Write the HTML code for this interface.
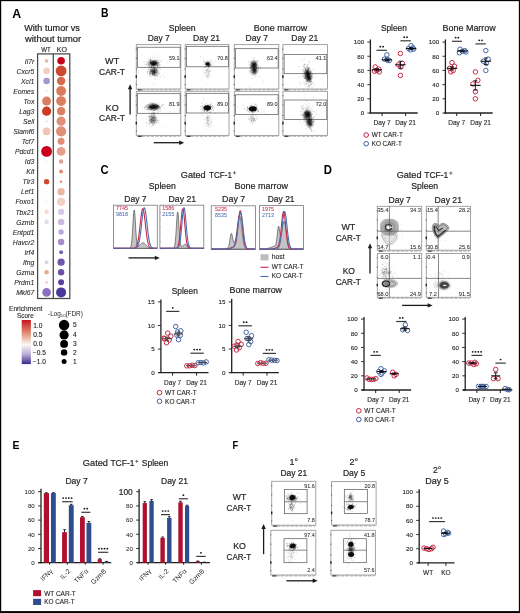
<!DOCTYPE html><html><head><meta charset="utf-8"><style>html,body{margin:0;padding:0;background:#fff;overflow:hidden;width:520px;height:613px;}svg{display:block;will-change:transform;}</style></head><body><svg width="520" height="613" viewBox="0 0 520 613" font-family='"Liberation Sans", sans-serif' fill="#231f20"><defs><filter id="bl0" x="-50%" y="-50%" width="200%" height="200%"><feGaussianBlur stdDeviation="0.90"/></filter><filter id="bl1" x="-50%" y="-50%" width="200%" height="200%"><feGaussianBlur stdDeviation="1.00"/></filter><filter id="bl2" x="-50%" y="-50%" width="200%" height="200%"><feGaussianBlur stdDeviation="0.60"/></filter><filter id="bl3" x="-50%" y="-50%" width="200%" height="200%"><feGaussianBlur stdDeviation="0.80"/></filter><filter id="bl4" x="-50%" y="-50%" width="200%" height="200%"><feGaussianBlur stdDeviation="1.20"/></filter><filter id="bl5" x="-50%" y="-50%" width="200%" height="200%"><feGaussianBlur stdDeviation="0.70"/></filter><filter id="bl6" x="-50%" y="-50%" width="200%" height="200%"><feGaussianBlur stdDeviation="0.50"/></filter></defs><rect x="0" y="0" width="520" height="1.15" fill="#000"/>
<rect x="0" y="0" width="1.2" height="613" fill="#000"/>
<rect x="518.85" y="0" width="1.15" height="613" fill="#000"/>
<rect x="0" y="611.1" width="520" height="1.9" fill="#000"/>
<text x="12.3" y="17.7" font-size="11.87" font-weight="bold" fill="#000" textLength="8.9" lengthAdjust="spacingAndGlyphs">A</text>
<text x="101" y="17.3" font-size="12.15" font-weight="bold" fill="#000" textLength="7.5" lengthAdjust="spacingAndGlyphs">B</text>
<text x="100.4" y="173.8" font-size="12.85" font-weight="bold" fill="#000" textLength="8.1" lengthAdjust="spacingAndGlyphs">C</text>
<text x="323.7" y="173.5" font-size="11.87" font-weight="bold" fill="#000" textLength="8.2" lengthAdjust="spacingAndGlyphs">D</text>
<text x="12.5" y="449.3" font-size="11.17" font-weight="bold" fill="#000" textLength="7" lengthAdjust="spacingAndGlyphs">E</text>
<text x="232.4" y="449" font-size="11.17" font-weight="bold" fill="#000" textLength="5.7" lengthAdjust="spacingAndGlyphs">F</text>
<text x="24.2" y="30.8" font-size="8.4" textLength="55.7" lengthAdjust="spacingAndGlyphs" stroke="#231f20" stroke-width="0.2">With tumor vs</text>
<text x="25" y="41.5" font-size="8.4" textLength="56.2" lengthAdjust="spacingAndGlyphs" stroke="#231f20" stroke-width="0.2">without tumor</text>
<text x="41.2" y="51.9" font-size="6.4" textLength="9.5" lengthAdjust="spacingAndGlyphs" stroke="#231f20" stroke-width="0.12">WT</text>
<text x="56.8" y="51.9" font-size="6.4" textLength="10.2" lengthAdjust="spacingAndGlyphs" stroke="#231f20" stroke-width="0.12">KO</text>
<rect x="37.6" y="53.9" width="32.2" height="244.6" fill="none" stroke="#4a4a4a" stroke-width="1.25"/>
<line x1="53.3" y1="53.9" x2="53.3" y2="298.5" stroke="#4a4a4a" stroke-width="1.25"/>
<text x="34.3" y="63.5" font-size="6.8" text-anchor="end" font-style="italic" stroke="#231f20" stroke-width="0.08">Il7r</text>
<circle cx="46.6" cy="60.8" r="1.9" fill="#ebb8a4"/>
<circle cx="61.1" cy="60.8" r="3.8" fill="#c8001c"/>
<text x="34.3" y="73.57" font-size="6.8" text-anchor="end" font-style="italic" stroke="#231f20" stroke-width="0.08">Cxcr5</text>
<circle cx="46.6" cy="70.87" r="3.4" fill="#f1cfc2"/>
<circle cx="61.1" cy="70.87" r="5.4" fill="#cd4a32"/>
<text x="34.3" y="83.64" font-size="6.8" text-anchor="end" font-style="italic" stroke="#231f20" stroke-width="0.08">Xcl1</text>
<circle cx="46.6" cy="80.94" r="3.3" fill="#a794d0"/>
<circle cx="61.1" cy="80.94" r="4.2" fill="#d66a4c"/>
<text x="34.3" y="93.71" font-size="6.8" text-anchor="end" font-style="italic" stroke="#231f20" stroke-width="0.08">Eomes</text>
<circle cx="46.6" cy="91.01" r="1.2" fill="#f8ece8"/>
<circle cx="61.1" cy="91.01" r="4.9" fill="#db7a5c"/>
<text x="34.3" y="103.78" font-size="6.8" text-anchor="end" font-style="italic" stroke="#231f20" stroke-width="0.08">Tox</text>
<circle cx="46.6" cy="101.08" r="4.5" fill="#db7d62"/>
<circle cx="61.1" cy="101.08" r="4.9" fill="#dc7e60"/>
<text x="34.3" y="113.85" font-size="6.8" text-anchor="end" font-style="italic" stroke="#231f20" stroke-width="0.08">Lag3</text>
<circle cx="46.6" cy="111.15" r="4.6" fill="#cc3b24"/>
<circle cx="61.1" cy="111.15" r="4.1" fill="#dc7e60"/>
<text x="34.3" y="123.92" font-size="6.8" text-anchor="end" font-style="italic" stroke="#231f20" stroke-width="0.08">Sell</text>
<circle cx="46.6" cy="121.22" r="1.2" fill="#efeaf5"/>
<circle cx="61.1" cy="121.22" r="4.6" fill="#e09078"/>
<text x="34.3" y="133.99" font-size="6.8" text-anchor="end" font-style="italic" stroke="#231f20" stroke-width="0.08">Slamf6</text>
<circle cx="46.6" cy="131.29" r="3.9" fill="#efc6b5"/>
<circle cx="61.1" cy="131.29" r="5.1" fill="#e08f76"/>
<text x="34.3" y="144.06" font-size="6.8" text-anchor="end" font-style="italic" stroke="#231f20" stroke-width="0.08">Tcf7</text>
<circle cx="46.6" cy="141.36" r="1" fill="#f6f2f8"/>
<circle cx="61.1" cy="141.36" r="3.5" fill="#e09078"/>
<text x="34.3" y="154.13" font-size="6.8" text-anchor="end" font-style="italic" stroke="#231f20" stroke-width="0.08">Pdcd1</text>
<circle cx="46.6" cy="151.43" r="5.4" fill="#c8001e"/>
<circle cx="61.1" cy="151.43" r="4.4" fill="#e4a08a"/>
<text x="34.3" y="164.2" font-size="6.8" text-anchor="end" font-style="italic" stroke="#231f20" stroke-width="0.08">Id3</text>
<circle cx="46.6" cy="161.5" r="0.9" fill="#efeaf5"/>
<circle cx="61.1" cy="161.5" r="2.2" fill="#e3a090"/>
<text x="34.3" y="174.27" font-size="6.8" text-anchor="end" font-style="italic" stroke="#231f20" stroke-width="0.08">Kit</text>
<circle cx="46.6" cy="171.57" r="0.8" fill="#f8f2ee"/>
<circle cx="61.1" cy="171.57" r="2" fill="#e08e74"/>
<text x="34.3" y="184.34" font-size="6.8" text-anchor="end" font-style="italic" stroke="#231f20" stroke-width="0.08">Tlr3</text>
<circle cx="46.6" cy="181.64" r="2.7" fill="#cd4a2c"/>
<circle cx="61.1" cy="181.64" r="1.2" fill="#dc8468"/>
<text x="34.3" y="194.41" font-size="6.8" text-anchor="end" font-style="italic" stroke="#231f20" stroke-width="0.08">Lef1</text>
<circle cx="46.6" cy="191.71" r="0.9" fill="#f1edf6"/>
<circle cx="61.1" cy="191.71" r="3.6" fill="#ebb6a2"/>
<text x="34.3" y="204.48" font-size="6.8" text-anchor="end" font-style="italic" stroke="#231f20" stroke-width="0.08">Foxo1</text>
<circle cx="46.6" cy="201.78" r="0.9" fill="#f1edf6"/>
<circle cx="61.1" cy="201.78" r="4.1" fill="#f1d1c5"/>
<text x="34.3" y="214.55" font-size="6.8" text-anchor="end" font-style="italic" stroke="#231f20" stroke-width="0.08">Tbx21</text>
<circle cx="46.6" cy="211.85" r="2.3" fill="#f6ddd3"/>
<circle cx="61.1" cy="211.85" r="3.2" fill="#d7cae6"/>
<text x="34.3" y="224.62" font-size="6.8" text-anchor="end" font-style="italic" stroke="#231f20" stroke-width="0.08">Gzmb</text>
<circle cx="46.6" cy="221.92" r="2.3" fill="#e5ddf0"/>
<circle cx="61.1" cy="221.92" r="3.2" fill="#cbb9e1"/>
<text x="34.3" y="234.69" font-size="6.8" text-anchor="end" font-style="italic" stroke="#231f20" stroke-width="0.08">Entpd1</text>
<circle cx="61.1" cy="231.99" r="2.7" fill="#b9a6d7"/>
<text x="34.3" y="244.76" font-size="6.8" text-anchor="end" font-style="italic" stroke="#231f20" stroke-width="0.08">Havcr2</text>
<circle cx="46.6" cy="242.06" r="0.7" fill="#f3f0f8"/>
<circle cx="61.1" cy="242.06" r="3.2" fill="#a48ecb"/>
<text x="34.3" y="254.83" font-size="6.8" text-anchor="end" font-style="italic" stroke="#231f20" stroke-width="0.08">Irf4</text>
<circle cx="46.6" cy="252.13" r="0.7" fill="#fbefec"/>
<circle cx="61.1" cy="252.13" r="2" fill="#7a64b2"/>
<text x="34.3" y="264.9" font-size="6.8" text-anchor="end" font-style="italic" stroke="#231f20" stroke-width="0.08">Ifng</text>
<circle cx="46.6" cy="262.2" r="1.9" fill="#ddd1ec"/>
<circle cx="61.1" cy="262.2" r="3.6" fill="#6e57ad"/>
<text x="34.3" y="274.97" font-size="6.8" text-anchor="end" font-style="italic" stroke="#231f20" stroke-width="0.08">Gzma</text>
<circle cx="46.6" cy="272.27" r="2.3" fill="#e8a993"/>
<circle cx="61.1" cy="272.27" r="3.2" fill="#6a53a9"/>
<text x="34.3" y="285.04" font-size="6.8" text-anchor="end" font-style="italic" stroke="#231f20" stroke-width="0.08">Prdm1</text>
<circle cx="46.6" cy="282.34" r="1.4" fill="#f1cbbb"/>
<circle cx="61.1" cy="282.34" r="3" fill="#5b42a1"/>
<text x="34.3" y="295.11" font-size="6.8" text-anchor="end" font-style="italic" stroke="#231f20" stroke-width="0.08">Mki67</text>
<circle cx="46.6" cy="292.41" r="4.3" fill="#8a71c0"/>
<circle cx="61.1" cy="292.41" r="5" fill="#4a399a"/>
<text x="9" y="310.5" font-size="6.5" textLength="33.4" lengthAdjust="spacingAndGlyphs" stroke="#231f20" stroke-width="0.12">Enrichment</text>
<text x="17" y="317.9" font-size="6.5" textLength="16.7" lengthAdjust="spacingAndGlyphs" stroke="#231f20" stroke-width="0.12">Score</text>
<defs><linearGradient id="cb" x1="0" y1="0" x2="0" y2="1"><stop offset="0" stop-color="#c7161c"/><stop offset="0.28" stop-color="#e2876b"/><stop offset="0.56" stop-color="#fcf8f6"/><stop offset="0.78" stop-color="#b7acd6"/><stop offset="1" stop-color="#372a8c"/></linearGradient></defs>
<rect x="21.7" y="320" width="9.2" height="44.1" fill="url(#cb)"/>
<text x="33.2" y="327.8" font-size="6.6" stroke="#231f20" stroke-width="0.12">1.0</text>
<text x="33.2" y="336.6" font-size="6.6" stroke="#231f20" stroke-width="0.12">0.5</text>
<text x="33.2" y="345.6" font-size="6.6" stroke="#231f20" stroke-width="0.12">0.0</text>
<text x="32.8" y="354.6" font-size="6.6" stroke="#231f20" stroke-width="0.12">−0.5</text>
<text x="32.8" y="363.5" font-size="6.6" stroke="#231f20" stroke-width="0.12">−1.0</text>
<text x="48" y="315.6" font-size="6.4">-Log<tspan font-size="4.2" dy="1.5">10</tspan><tspan dy="-1.5">(FDR)</tspan></text>
<circle cx="64.1" cy="325.1" r="5.25" fill="#000"/>
<text x="72.9" y="327.4" font-size="6.6" stroke="#231f20" stroke-width="0.12">5</text>
<circle cx="64.1" cy="334.9" r="4.6" fill="#000"/>
<text x="72.9" y="337.2" font-size="6.6" stroke="#231f20" stroke-width="0.12">4</text>
<circle cx="64.1" cy="343.9" r="3.9" fill="#000"/>
<text x="72.9" y="346.2" font-size="6.6" stroke="#231f20" stroke-width="0.12">3</text>
<circle cx="64.1" cy="352.4" r="3.2" fill="#000"/>
<text x="72.9" y="354.7" font-size="6.6" stroke="#231f20" stroke-width="0.12">2</text>
<circle cx="64.1" cy="361.4" r="2.5" fill="#000"/>
<text x="72.9" y="363.7" font-size="6.6" stroke="#231f20" stroke-width="0.12">1</text>
<text x="168.7" y="31.2" font-size="8.8" textLength="27" lengthAdjust="spacingAndGlyphs" stroke="#231f20" stroke-width="0.2">Spleen</text>
<text x="253.8" y="31.2" font-size="8.8" textLength="53.4" lengthAdjust="spacingAndGlyphs" stroke="#231f20" stroke-width="0.2">Bone marrow</text>
<text x="147.7" y="41.4" font-size="8.8" textLength="22.1" lengthAdjust="spacingAndGlyphs" stroke="#231f20" stroke-width="0.2">Day 7</text>
<text x="193" y="41.4" font-size="8.8" textLength="27" lengthAdjust="spacingAndGlyphs" stroke="#231f20" stroke-width="0.2">Day 21</text>
<text x="245.6" y="41.4" font-size="8.8" textLength="22.3" lengthAdjust="spacingAndGlyphs" stroke="#231f20" stroke-width="0.2">Day 7</text>
<text x="291.3" y="41.4" font-size="8.8" textLength="26.8" lengthAdjust="spacingAndGlyphs" stroke="#231f20" stroke-width="0.2">Day 21</text>
<text x="105.1" y="63.9" font-size="8.2" textLength="14.1" lengthAdjust="spacingAndGlyphs" stroke="#231f20" stroke-width="0.2">WT</text>
<text x="99.1" y="74.5" font-size="8.2" textLength="25.8" lengthAdjust="spacingAndGlyphs" stroke="#231f20" stroke-width="0.2">CAR-T</text>
<text x="105.6" y="110.5" font-size="8.2" textLength="13.1" lengthAdjust="spacingAndGlyphs" stroke="#231f20" stroke-width="0.2">KO</text>
<text x="99.1" y="120.6" font-size="8.2" textLength="25.8" lengthAdjust="spacingAndGlyphs" stroke="#231f20" stroke-width="0.2">CAR-T</text>
<line x1="130.1" y1="114.5" x2="130.1" y2="88.3" stroke="#1a1a1a" stroke-width="1.3"/>
<path d="M130.1 84.3 L127.9 89.3 L132.3 89.3 Z" fill="#1a1a1a"/>
<line x1="153.7" y1="142.7" x2="180.2" y2="142.7" stroke="#1a1a1a" stroke-width="1.3"/>
<path d="M184.2 142.7 L179.2 140.5 L179.2 144.9 Z" fill="#1a1a1a"/>
<rect x="136.3" y="44.6" width="44.5" height="44.4" fill="none" stroke="#9a9a9a" stroke-width="0.9"/>
<line x1="136.3" y1="48.54" x2="136.3" y2="49.54" stroke="#555" stroke-width="1"/>
<line x1="136.3" y1="57.86" x2="136.3" y2="58.86" stroke="#555" stroke-width="1"/>
<line x1="136.3" y1="68.52" x2="136.3" y2="69.52" stroke="#555" stroke-width="1"/>
<line x1="136.3" y1="84.06" x2="136.3" y2="85.06" stroke="#555" stroke-width="1"/>
<line x1="136.3" y1="75.24" x2="136.3" y2="77.9" stroke="#222" stroke-width="1.4"/>
<line x1="137.3" y1="89.9" x2="179.8" y2="89.9" stroke="#8a8a8a" stroke-width="0.7" stroke-dasharray="3.2 1.3"/>
<line x1="137.8" y1="89.9" x2="141.8" y2="89.9" stroke="#222" stroke-width="1"/>
<rect x="137.5" y="47.2" width="42.6" height="20.1" fill="none" stroke="#555" stroke-width="0.7"/>
<text x="179.6" y="59.8" font-size="5.4" text-anchor="end" stroke="#231f20" stroke-width="0.05">59.1</text>
<rect x="185.2" y="44.6" width="43.8" height="44.4" fill="none" stroke="#9a9a9a" stroke-width="0.9"/>
<line x1="185.2" y1="48.54" x2="185.2" y2="49.54" stroke="#555" stroke-width="1"/>
<line x1="185.2" y1="57.86" x2="185.2" y2="58.86" stroke="#555" stroke-width="1"/>
<line x1="185.2" y1="68.52" x2="185.2" y2="69.52" stroke="#555" stroke-width="1"/>
<line x1="185.2" y1="84.06" x2="185.2" y2="85.06" stroke="#555" stroke-width="1"/>
<line x1="185.2" y1="75.24" x2="185.2" y2="77.9" stroke="#222" stroke-width="1.4"/>
<line x1="186.2" y1="89.9" x2="228" y2="89.9" stroke="#8a8a8a" stroke-width="0.7" stroke-dasharray="3.2 1.3"/>
<line x1="186.7" y1="89.9" x2="190.7" y2="89.9" stroke="#222" stroke-width="1"/>
<rect x="186.4" y="46.3" width="41.9" height="20.5" fill="none" stroke="#555" stroke-width="0.7"/>
<text x="227.8" y="59.8" font-size="5.4" text-anchor="end" stroke="#231f20" stroke-width="0.05">70.8</text>
<rect x="234.3" y="44.6" width="44.5" height="44.4" fill="none" stroke="#9a9a9a" stroke-width="0.9"/>
<line x1="234.3" y1="48.54" x2="234.3" y2="49.54" stroke="#555" stroke-width="1"/>
<line x1="234.3" y1="57.86" x2="234.3" y2="58.86" stroke="#555" stroke-width="1"/>
<line x1="234.3" y1="68.52" x2="234.3" y2="69.52" stroke="#555" stroke-width="1"/>
<line x1="234.3" y1="84.06" x2="234.3" y2="85.06" stroke="#555" stroke-width="1"/>
<line x1="234.3" y1="75.24" x2="234.3" y2="77.9" stroke="#222" stroke-width="1.4"/>
<line x1="235.3" y1="89.9" x2="277.8" y2="89.9" stroke="#8a8a8a" stroke-width="0.7" stroke-dasharray="3.2 1.3"/>
<line x1="235.8" y1="89.9" x2="239.8" y2="89.9" stroke="#222" stroke-width="1"/>
<rect x="235.5" y="48.7" width="42.6" height="19.3" fill="none" stroke="#555" stroke-width="0.7"/>
<text x="277.6" y="59.8" font-size="5.4" text-anchor="end" stroke="#231f20" stroke-width="0.05">63.4</text>
<rect x="282.9" y="44.6" width="44.6" height="44.4" fill="none" stroke="#9a9a9a" stroke-width="0.9"/>
<line x1="282.9" y1="48.54" x2="282.9" y2="49.54" stroke="#555" stroke-width="1"/>
<line x1="282.9" y1="57.86" x2="282.9" y2="58.86" stroke="#555" stroke-width="1"/>
<line x1="282.9" y1="68.52" x2="282.9" y2="69.52" stroke="#555" stroke-width="1"/>
<line x1="282.9" y1="84.06" x2="282.9" y2="85.06" stroke="#555" stroke-width="1"/>
<line x1="282.9" y1="75.24" x2="282.9" y2="77.9" stroke="#222" stroke-width="1.4"/>
<line x1="283.9" y1="89.9" x2="326.5" y2="89.9" stroke="#8a8a8a" stroke-width="0.7" stroke-dasharray="3.2 1.3"/>
<line x1="284.4" y1="89.9" x2="288.4" y2="89.9" stroke="#222" stroke-width="1"/>
<rect x="284.1" y="54.4" width="42.7" height="19.3" fill="none" stroke="#555" stroke-width="0.7"/>
<text x="326.3" y="59.8" font-size="5.4" text-anchor="end" stroke="#231f20" stroke-width="0.05">41.1</text>
<rect x="136.3" y="91.3" width="44.5" height="44.1" fill="none" stroke="#9a9a9a" stroke-width="0.9"/>
<line x1="136.3" y1="95.21" x2="136.3" y2="96.21" stroke="#555" stroke-width="1"/>
<line x1="136.3" y1="104.47" x2="136.3" y2="105.47" stroke="#555" stroke-width="1"/>
<line x1="136.3" y1="115.06" x2="136.3" y2="116.06" stroke="#555" stroke-width="1"/>
<line x1="136.3" y1="130.49" x2="136.3" y2="131.49" stroke="#555" stroke-width="1"/>
<line x1="136.3" y1="121.73" x2="136.3" y2="124.38" stroke="#222" stroke-width="1.4"/>
<line x1="137.3" y1="136.3" x2="179.8" y2="136.3" stroke="#8a8a8a" stroke-width="0.7" stroke-dasharray="3.2 1.3"/>
<line x1="137.8" y1="136.3" x2="141.8" y2="136.3" stroke="#222" stroke-width="1"/>
<rect x="137.5" y="93.7" width="42.6" height="19.6" fill="none" stroke="#555" stroke-width="0.7"/>
<text x="179.6" y="105.8" font-size="5.4" text-anchor="end" stroke="#231f20" stroke-width="0.05">81.9</text>
<rect x="185.2" y="91.3" width="43.8" height="44.1" fill="none" stroke="#9a9a9a" stroke-width="0.9"/>
<line x1="185.2" y1="95.21" x2="185.2" y2="96.21" stroke="#555" stroke-width="1"/>
<line x1="185.2" y1="104.47" x2="185.2" y2="105.47" stroke="#555" stroke-width="1"/>
<line x1="185.2" y1="115.06" x2="185.2" y2="116.06" stroke="#555" stroke-width="1"/>
<line x1="185.2" y1="130.49" x2="185.2" y2="131.49" stroke="#555" stroke-width="1"/>
<line x1="185.2" y1="121.73" x2="185.2" y2="124.38" stroke="#222" stroke-width="1.4"/>
<line x1="186.2" y1="136.3" x2="228" y2="136.3" stroke="#8a8a8a" stroke-width="0.7" stroke-dasharray="3.2 1.3"/>
<line x1="186.7" y1="136.3" x2="190.7" y2="136.3" stroke="#222" stroke-width="1"/>
<rect x="186.4" y="93.3" width="41.9" height="19.7" fill="none" stroke="#555" stroke-width="0.7"/>
<text x="227.8" y="105.8" font-size="5.4" text-anchor="end" stroke="#231f20" stroke-width="0.05">89.0</text>
<rect x="234.3" y="91.3" width="44.5" height="44.1" fill="none" stroke="#9a9a9a" stroke-width="0.9"/>
<line x1="234.3" y1="95.21" x2="234.3" y2="96.21" stroke="#555" stroke-width="1"/>
<line x1="234.3" y1="104.47" x2="234.3" y2="105.47" stroke="#555" stroke-width="1"/>
<line x1="234.3" y1="115.06" x2="234.3" y2="116.06" stroke="#555" stroke-width="1"/>
<line x1="234.3" y1="130.49" x2="234.3" y2="131.49" stroke="#555" stroke-width="1"/>
<line x1="234.3" y1="121.73" x2="234.3" y2="124.38" stroke="#222" stroke-width="1.4"/>
<line x1="235.3" y1="136.3" x2="277.8" y2="136.3" stroke="#8a8a8a" stroke-width="0.7" stroke-dasharray="3.2 1.3"/>
<line x1="235.8" y1="136.3" x2="239.8" y2="136.3" stroke="#222" stroke-width="1"/>
<rect x="235.5" y="94.8" width="42.6" height="19.6" fill="none" stroke="#555" stroke-width="0.7"/>
<text x="277.6" y="105.8" font-size="5.4" text-anchor="end" stroke="#231f20" stroke-width="0.05">89.0</text>
<rect x="282.9" y="91.3" width="44.6" height="44.1" fill="none" stroke="#9a9a9a" stroke-width="0.9"/>
<line x1="282.9" y1="95.21" x2="282.9" y2="96.21" stroke="#555" stroke-width="1"/>
<line x1="282.9" y1="104.47" x2="282.9" y2="105.47" stroke="#555" stroke-width="1"/>
<line x1="282.9" y1="115.06" x2="282.9" y2="116.06" stroke="#555" stroke-width="1"/>
<line x1="282.9" y1="130.49" x2="282.9" y2="131.49" stroke="#555" stroke-width="1"/>
<line x1="282.9" y1="121.73" x2="282.9" y2="124.38" stroke="#222" stroke-width="1.4"/>
<line x1="283.9" y1="136.3" x2="326.5" y2="136.3" stroke="#8a8a8a" stroke-width="0.7" stroke-dasharray="3.2 1.3"/>
<line x1="284.4" y1="136.3" x2="288.4" y2="136.3" stroke="#222" stroke-width="1"/>
<rect x="284.1" y="100" width="42.7" height="19.4" fill="none" stroke="#555" stroke-width="0.7"/>
<text x="326.3" y="105.8" font-size="5.4" text-anchor="end" stroke="#231f20" stroke-width="0.05">72.0</text>
<ellipse cx="153.5" cy="63.3" rx="3.8" ry="2" fill="#000" opacity="0.95" filter="url(#bl0)"/>
<path d="M152.8 64.4h0M156.6 64.4h0M160.3 65.1h0M152.5 63.8h0M148.8 65.0h0M154.2 65.9h0M151.0 62.7h0M158.8 64.5h0M154.4 64.2h0M154.2 62.5h0M151.8 62.2h0M154.4 63.7h0M152.2 61.9h0M150.9 62.5h0M154.7 61.0h0M150.4 62.6h0M153.2 62.1h0M155.6 64.7h0M157.6 67.0h0M151.2 61.0h0M155.2 62.5h0M150.4 62.2h0M157.1 60.0h0M153.0 63.0h0M148.2 59.2h0M152.9 65.1h0M156.6 63.8h0M154.2 63.9h0M155.0 64.4h0M154.3 63.0h0M148.0 62.4h0M155.0 62.5h0M149.8 66.2h0M154.5 64.4h0M153.8 65.4h0M153.5 63.7h0M151.0 65.1h0M152.3 61.6h0M153.1 63.0h0M154.6 60.1h0M151.3 64.6h0M152.8 63.0h0M153.9 64.5h0M153.6 63.5h0M158.2 65.6h0M156.2 61.8h0M153.5 65.1h0M157.4 65.8h0M150.4 63.9h0M155.6 64.4h0M155.2 61.5h0M156.8 62.9h0M152.9 63.4h0M159.0 63.0h0M153.3 65.1h0M154.0 61.4h0M152.5 64.6h0M159.0 63.2h0M155.4 61.0h0M147.8 63.1h0M155.7 63.7h0M151.0 59.5h0M161.2 61.6h0M152.2 64.4h0M154.1 64.6h0M157.8 61.6h0M150.6 61.0h0M150.2 60.3h0M153.5 61.6h0M154.1 62.0h0M156.3 63.2h0M157.7 62.6h0M154.6 64.2h0M154.0 62.6h0M157.6 63.2h0M150.4 62.9h0M157.5 63.1h0M156.2 62.8h0M154.4 62.5h0M152.9 64.7h0M153.3 65.3h0M155.7 62.6h0M148.2 61.7h0M156.4 62.5h0M153.0 63.5h0M153.6 63.6h0" stroke="#000" stroke-width="0.6" stroke-linecap="round" opacity="0.4" fill="none"/>
<path d="M155.0 65.2h0M151.2 63.0h0M148.9 62.5h0M151.5 63.0h0M154.0 61.5h0M153.9 59.8h0M151.0 62.2h0M152.4 61.8h0M146.9 64.1h0M158.3 60.7h0M147.3 62.0h0M154.4 64.2h0M155.4 64.1h0M151.1 60.9h0M156.0 65.7h0M157.1 66.3h0M154.8 67.6h0M145.0 63.9h0M155.1 65.0h0M152.5 64.5h0M153.4 63.2h0M153.0 63.6h0M151.1 62.1h0M158.4 63.2h0M157.3 65.3h0M153.9 62.2h0M148.1 65.3h0M153.4 64.5h0M149.6 62.4h0M157.5 64.4h0M159.4 65.3h0M153.9 62.8h0M158.6 64.9h0M151.6 65.3h0M153.3 64.4h0M153.6 64.3h0M155.3 63.9h0M151.9 66.2h0M151.7 63.5h0M158.1 63.8h0M153.1 61.4h0M147.0 64.1h0M154.8 61.9h0M154.9 62.0h0M150.5 59.0h0M155.7 61.2h0M148.8 65.4h0M154.2 64.0h0M153.4 64.5h0M156.6 60.6h0M153.1 64.7h0M151.9 63.8h0M152.9 67.8h0M151.5 63.1h0M151.4 66.8h0M151.2 64.8h0M155.7 67.7h0M153.4 64.2h0M154.1 63.6h0M153.9 65.7h0M153.5 61.0h0M155.5 62.3h0M155.1 63.4h0M153.0 63.1h0M156.6 62.0h0M154.1 62.6h0M148.2 63.4h0M155.2 61.5h0M151.7 61.1h0M155.0 63.7h0M157.7 65.5h0M150.8 61.8h0M153.3 63.5h0M153.5 61.5h0M152.9 63.0h0M153.5 64.2h0M153.3 62.4h0M156.7 63.2h0M149.3 63.8h0M150.5 61.9h0M154.8 64.5h0M150.8 68.1h0M155.6 64.0h0M152.0 61.1h0M150.4 63.3h0M157.9 65.9h0" stroke="#000" stroke-width="0.6" stroke-linecap="round" opacity="0.4" fill="none"/>
<path d="M167.8 62.3h0M148.5 64.3h0M151.4 63.9h0M155.3 63.1h0M155.6 65.1h0M157.0 65.8h0M156.8 61.8h0M159.2 60.9h0M156.8 63.5h0M153.0 64.4h0M148.7 70.1h0M153.5 60.3h0M157.5 62.3h0M152.8 65.1h0M157.2 63.5h0M149.1 64.8h0M157.8 65.4h0M155.4 63.0h0M151.7 63.4h0M159.1 62.5h0M149.3 60.7h0M144.1 61.7h0M153.2 61.7h0M150.4 61.1h0M154.8 63.1h0M152.2 64.7h0M155.6 63.3h0M152.4 65.6h0M154.3 64.4h0M156.2 62.4h0M161.3 60.3h0M154.7 64.4h0M152.8 64.1h0M153.3 65.7h0M153.5 61.7h0M150.8 63.2h0M155.6 64.0h0M155.8 64.9h0M154.8 62.6h0M153.5 65.2h0M158.7 62.6h0M154.2 63.6h0M156.0 62.3h0M156.3 63.5h0M156.0 60.5h0M153.5 64.3h0M149.3 63.1h0M152.8 61.1h0M146.0 64.8h0M153.9 62.3h0M152.0 62.4h0M153.5 65.9h0M154.3 63.9h0M151.1 62.7h0M153.2 63.4h0M146.6 64.6h0M155.9 62.2h0M153.6 67.8h0M153.3 63.8h0M152.2 61.9h0M150.3 60.1h0M156.0 63.8h0M152.7 62.5h0M153.3 61.5h0M155.9 63.2h0M153.7 64.7h0M151.6 67.5h0M154.3 64.6h0M150.0 59.9h0M152.0 64.2h0M154.1 63.9h0M148.8 65.8h0M152.4 57.6h0M152.6 64.5h0M153.5 63.1h0M151.5 64.6h0M153.6 63.6h0M149.3 66.9h0M155.4 63.2h0M155.8 60.7h0M156.5 64.1h0M155.1 63.0h0M154.1 63.2h0M157.5 57.6h0M154.5 63.6h0M153.3 66.3h0" stroke="#000" stroke-width="0.6" stroke-linecap="round" opacity="0.4" fill="none"/>
<ellipse cx="153.9" cy="71.5" rx="3" ry="2.6" fill="#000" opacity="0.7" filter="url(#bl1)"/>
<path d="M152.7 73.3h0M152.3 70.1h0M151.9 75.7h0M154.0 65.7h0M154.3 71.3h0M147.4 72.5h0M152.3 72.8h0M147.8 71.7h0M155.2 67.5h0M154.3 68.0h0M152.8 73.7h0M155.3 72.3h0M153.8 73.6h0M151.6 70.8h0M159.5 66.3h0M154.8 72.1h0M153.1 68.8h0M150.7 73.3h0M153.7 66.5h0M157.4 74.9h0M151.5 70.5h0M154.4 73.4h0M156.9 75.9h0M152.6 73.8h0M151.9 71.4h0M149.2 65.0h0M149.1 72.3h0M154.4 71.1h0M155.0 72.6h0M148.6 68.5h0M155.7 69.4h0M154.9 65.3h0M150.8 69.4h0M152.8 72.6h0M153.7 75.0h0M153.9 71.9h0M153.1 70.0h0M155.1 75.9h0M154.9 72.0h0M150.3 70.3h0M155.9 74.9h0M153.3 73.7h0M152.5 74.6h0M149.3 74.1h0M152.7 72.8h0M153.9 71.8h0M149.5 73.7h0M155.9 69.6h0M157.1 71.8h0M154.7 70.9h0M151.7 73.7h0M153.1 74.6h0M156.1 73.4h0M155.5 71.1h0M160.4 69.0h0M159.4 73.5h0M156.8 69.5h0M156.2 75.4h0M149.6 74.3h0M154.5 73.2h0M151.3 71.2h0M153.9 75.7h0M157.0 72.4h0M158.6 72.7h0M151.1 69.6h0M152.9 74.0h0M150.4 73.2h0M153.3 71.7h0M151.9 71.6h0M154.3 68.7h0M152.6 71.7h0M152.8 72.0h0M153.1 71.5h0M157.5 73.6h0M152.9 71.4h0M149.2 75.9h0M159.2 64.7h0M154.5 69.9h0M147.3 71.8h0M156.1 75.4h0" stroke="#000" stroke-width="0.6" stroke-linecap="round" opacity="0.32" fill="none"/>
<path d="M156.0 72.5h0M156.8 76.2h0M154.4 70.2h0M155.4 70.6h0M148.8 71.3h0M154.4 72.9h0M151.4 66.5h0M154.1 70.2h0M152.2 69.6h0M150.6 70.3h0M160.3 76.5h0M150.1 74.4h0M157.2 71.3h0M154.1 68.7h0M153.8 70.7h0M153.7 75.2h0M150.5 69.5h0M154.5 71.5h0M151.7 69.7h0M154.9 70.7h0M153.1 70.5h0M153.0 72.5h0M154.4 74.9h0M154.8 75.0h0M157.8 76.1h0M154.5 72.4h0M156.9 68.2h0M153.8 71.9h0M151.6 70.6h0M148.1 73.6h0M153.9 83.9h0M151.2 71.0h0M163.1 75.1h0M147.9 69.6h0M154.9 74.9h0M150.8 67.8h0M152.0 76.0h0M157.3 68.6h0M158.8 71.7h0M149.6 72.4h0M154.0 72.7h0M156.1 72.1h0M152.1 66.8h0M153.5 74.8h0M154.6 68.4h0M149.6 66.3h0M154.1 71.2h0M154.2 75.8h0M153.7 69.2h0M152.9 73.2h0M151.1 68.6h0M156.7 71.1h0M152.1 66.6h0M153.3 68.2h0M155.7 79.3h0M156.5 69.8h0M158.5 75.2h0M154.7 72.6h0M152.5 68.1h0M153.7 70.5h0M150.7 75.1h0M154.5 70.9h0M159.2 68.3h0M154.6 74.2h0M156.5 67.6h0M155.5 68.2h0M154.8 72.2h0M154.4 73.7h0M155.8 71.8h0M153.3 69.1h0M156.8 70.8h0M153.3 71.1h0M149.7 73.2h0M152.9 68.4h0M154.5 70.6h0M153.9 71.6h0M155.0 55.8h0M150.8 71.7h0M155.0 74.3h0M154.8 69.7h0" stroke="#000" stroke-width="0.6" stroke-linecap="round" opacity="0.32" fill="none"/>
<path d="M153.4 73.3h0M152.5 71.5h0M157.8 73.7h0M154.6 67.9h0M151.7 73.0h0M164.1 77.7h0M154.4 73.5h0M151.3 71.5h0M154.1 74.4h0M153.9 67.2h0M152.5 73.4h0M155.9 68.3h0M155.2 73.9h0M152.6 70.9h0M155.2 70.2h0M152.5 75.3h0M154.7 72.8h0M152.3 74.3h0M153.0 73.0h0M153.6 70.3h0M155.9 73.0h0M155.0 67.4h0M155.0 75.0h0M155.3 77.0h0M150.1 74.2h0M150.1 71.5h0M156.0 74.3h0M153.5 65.8h0M149.9 69.6h0M154.4 75.6h0M154.4 67.5h0M152.2 68.1h0M152.4 74.9h0M149.8 73.7h0M152.4 70.1h0M150.3 72.5h0M151.1 66.2h0M151.3 67.8h0M138.3 72.5h0M152.3 71.1h0M156.7 70.4h0M150.9 70.0h0M150.1 71.2h0M151.2 71.1h0M154.8 75.3h0M153.9 70.2h0M153.3 72.2h0M153.5 71.8h0M150.3 73.4h0M153.6 73.3h0M156.8 70.3h0M154.6 69.0h0M156.9 74.8h0M151.9 69.3h0M154.8 78.1h0M150.7 67.8h0M151.7 71.9h0M157.3 75.0h0M155.0 69.8h0M153.7 74.2h0M158.0 71.6h0M153.9 73.7h0M150.5 73.1h0M149.9 76.0h0M158.4 73.2h0M154.1 70.1h0M153.1 70.8h0M157.4 70.4h0M155.0 72.4h0M154.2 69.1h0M157.6 68.9h0M156.6 69.3h0M151.1 66.7h0M154.7 70.0h0M149.6 70.7h0M156.2 69.3h0M153.9 72.9h0M156.5 72.5h0M150.8 71.7h0M154.0 71.3h0" stroke="#000" stroke-width="0.6" stroke-linecap="round" opacity="0.32" fill="none"/>
<path d="M149.3 69.3h0M150.3 59.7h0M151.1 71.7h0M155.0 67.5h0M150.5 62.6h0M158.4 69.2h0M150.4 57.4h0M148.9 80.4h0M149.7 67.6h0M154.4 67.2h0M152.7 61.1h0M150.0 76.4h0M151.1 72.2h0M147.8 66.6h0M154.6 73.2h0M149.8 71.0h0M155.1 64.3h0M155.4 63.5h0M150.9 67.9h0M144.2 67.5h0" stroke="#000" stroke-width="0.6" stroke-linecap="round" opacity="0.24" fill="none"/>
<path d="M150.2 60.7h0M152.2 71.8h0M152.3 74.3h0M149.6 61.4h0M159.1 70.0h0M157.0 63.9h0M156.5 69.3h0M156.0 68.1h0M157.9 64.8h0M150.3 60.6h0M157.8 64.3h0M150.0 63.3h0M152.1 61.6h0M152.7 64.9h0M151.8 63.2h0M153.8 65.7h0M154.1 69.2h0M154.9 57.1h0M151.8 64.0h0M156.4 60.1h0" stroke="#000" stroke-width="0.6" stroke-linecap="round" opacity="0.24" fill="none"/>
<path d="M151.2 66.5h0M152.5 73.0h0M152.2 72.8h0M148.6 58.9h0M158.0 70.2h0M155.4 68.6h0M155.4 61.9h0M157.0 65.3h0M157.1 68.4h0M146.8 61.6h0M157.6 67.3h0M152.3 69.2h0M152.2 65.3h0M154.1 68.7h0M159.0 68.2h0M160.3 77.0h0M159.7 73.3h0M154.2 68.7h0M153.2 64.3h0M153.5 64.8h0" stroke="#000" stroke-width="0.6" stroke-linecap="round" opacity="0.24" fill="none"/>
<ellipse cx="207.7" cy="64" rx="2.3" ry="1.8" fill="#000" opacity="0.9" filter="url(#bl2)"/>
<path d="M210.7 64.8h0M209.5 62.1h0M205.7 62.3h0M209.0 63.5h0M207.6 63.5h0M203.4 59.1h0M206.6 66.2h0M210.6 61.1h0M206.1 65.5h0M207.3 63.2h0M206.0 65.6h0M206.2 64.7h0M210.7 63.1h0M207.5 64.5h0M206.7 61.3h0M203.8 61.5h0M206.5 63.2h0M209.0 63.1h0M204.6 62.1h0M207.7 64.1h0M205.6 64.9h0M208.1 63.7h0M209.1 61.2h0M207.2 66.9h0M206.1 61.0h0M209.7 65.0h0M208.6 66.4h0M207.9 66.0h0M206.5 64.2h0M207.7 61.3h0M210.5 65.4h0M208.0 66.0h0M209.3 62.8h0M206.7 63.5h0M208.9 66.1h0M206.0 63.4h0M208.0 64.4h0M207.1 64.5h0M207.9 63.1h0M205.0 67.3h0" stroke="#000" stroke-width="0.6" stroke-linecap="round" opacity="0.39" fill="none"/>
<path d="M213.1 65.0h0M205.4 64.2h0M208.0 62.4h0M208.1 61.2h0M207.7 64.4h0M208.4 65.3h0M204.3 62.9h0M215.9 61.6h0M206.2 63.1h0M209.0 63.7h0M204.8 61.1h0M206.2 65.0h0M213.1 63.0h0M209.0 64.3h0M210.9 62.1h0M210.7 64.8h0M200.7 56.4h0M209.6 66.0h0M207.0 62.9h0M207.7 63.3h0M207.7 64.8h0M208.4 65.0h0M207.6 63.8h0M207.9 64.4h0M208.5 67.4h0M208.5 63.5h0M211.1 66.0h0M206.3 62.8h0M208.6 62.5h0M209.4 65.8h0M207.2 62.1h0M208.7 63.1h0M208.5 65.0h0M207.1 64.8h0M206.1 66.9h0M208.3 63.9h0M207.1 63.1h0M207.4 65.1h0M204.1 67.5h0M208.4 63.7h0" stroke="#000" stroke-width="0.6" stroke-linecap="round" opacity="0.39" fill="none"/>
<path d="M208.2 63.7h0M204.7 72.8h0M208.3 62.7h0M211.1 64.0h0M208.5 65.5h0M208.2 65.9h0M209.0 66.3h0M207.9 64.6h0M206.1 62.9h0M208.4 66.0h0M208.6 62.2h0M210.4 65.0h0M207.6 63.5h0M205.9 66.5h0M207.4 64.0h0M204.1 64.4h0M209.0 66.6h0M208.6 65.2h0M209.9 64.1h0M206.8 63.9h0M209.2 61.3h0M207.3 62.6h0M211.1 65.1h0M205.5 64.1h0M207.3 63.9h0M207.9 64.9h0M207.7 70.1h0M210.0 65.3h0M210.1 64.2h0M204.9 63.7h0M212.0 60.2h0M209.2 65.2h0M207.5 64.8h0M209.3 65.5h0M209.1 65.6h0M209.4 66.4h0M206.3 65.0h0M205.9 63.8h0M208.0 62.7h0M206.7 65.4h0" stroke="#000" stroke-width="0.6" stroke-linecap="round" opacity="0.39" fill="none"/>
<path d="M208.9 64.6h0M209.0 65.7h0M209.5 74.0h0M211.2 70.2h0M207.8 76.5h0M206.8 69.8h0M207.2 72.2h0M206.2 74.3h0M208.6 72.8h0M210.4 71.3h0M209.8 70.4h0M208.9 65.1h0M208.1 71.8h0M207.1 70.2h0M207.3 69.8h0M204.5 70.2h0M207.0 70.5h0M206.2 72.0h0M209.0 71.5h0M207.1 77.7h0M209.3 76.0h0M209.5 71.3h0M207.6 76.7h0M207.0 72.0h0M208.4 73.9h0M207.4 76.2h0" stroke="#000" stroke-width="0.6" stroke-linecap="round" opacity="0.22" fill="none"/>
<path d="M207.5 75.3h0M209.4 75.0h0M208.9 68.1h0M205.8 70.1h0M208.5 78.2h0M206.0 73.7h0M206.5 69.7h0M207.4 75.1h0M208.1 77.0h0M206.3 75.9h0M209.2 72.8h0M208.5 70.4h0M206.2 71.0h0M206.8 83.5h0M207.1 78.8h0M208.1 73.7h0M208.9 69.5h0M209.2 73.9h0M205.5 74.8h0M208.6 74.2h0M210.2 70.9h0M208.6 75.3h0M206.4 77.1h0M205.6 67.6h0M208.6 68.4h0M207.6 66.2h0" stroke="#000" stroke-width="0.6" stroke-linecap="round" opacity="0.22" fill="none"/>
<path d="M207.9 68.2h0M208.3 66.7h0M208.5 71.5h0M207.9 72.2h0M208.0 67.5h0M204.0 72.6h0M206.4 70.8h0M208.4 65.0h0M206.7 70.2h0M206.2 73.7h0M207.6 69.4h0M206.3 75.6h0M206.8 74.7h0M208.5 65.3h0M206.2 72.5h0M208.3 75.5h0M209.0 76.4h0M207.2 71.7h0M209.0 70.9h0M209.4 66.5h0M208.8 71.8h0M204.8 76.2h0M208.3 72.6h0M206.2 70.7h0M210.1 69.4h0M202.6 69.2h0" stroke="#000" stroke-width="0.6" stroke-linecap="round" opacity="0.22" fill="none"/>
<ellipse cx="254" cy="64.8" rx="2.7" ry="3" fill="#000" opacity="0.95" filter="url(#bl3)"/>
<ellipse cx="254.4" cy="70.8" rx="2.1" ry="3" fill="#000" opacity="0.85" filter="url(#bl0)"/>
<path d="M251.7 67.0h0M252.7 69.7h0M251.2 74.5h0M253.2 67.2h0M252.0 70.2h0M257.9 61.1h0M251.5 69.4h0M252.7 71.2h0M254.9 70.3h0M255.2 63.7h0M256.5 64.1h0M258.3 67.0h0M255.0 70.0h0M252.8 67.4h0M252.2 63.9h0M260.4 67.1h0M251.1 70.8h0M254.0 67.2h0M255.6 63.5h0M254.9 71.5h0M253.8 72.7h0M256.7 67.4h0M254.9 69.0h0M254.8 68.5h0M250.4 66.6h0M254.6 64.8h0M254.3 64.3h0M253.4 69.2h0M257.6 72.1h0M252.8 70.7h0M258.1 70.1h0M256.2 66.5h0M254.1 68.6h0M255.2 65.0h0M254.8 64.7h0M256.4 66.5h0M254.2 71.1h0M254.4 70.5h0M250.6 68.1h0M255.0 70.5h0M255.7 67.0h0M256.0 70.4h0M253.5 68.3h0M255.0 64.5h0M254.7 70.2h0M257.0 68.7h0M255.8 72.2h0M253.6 74.3h0M250.5 69.9h0M255.1 70.3h0M250.5 73.8h0M256.4 66.2h0M253.1 68.1h0M253.8 75.2h0M253.1 69.5h0M255.0 74.6h0M251.6 67.1h0M254.4 64.0h0M252.5 66.2h0M255.2 68.7h0M252.8 72.3h0M252.3 66.2h0M253.9 68.8h0M254.3 69.3h0M253.7 71.1h0M254.7 60.1h0M256.5 72.2h0M252.8 62.7h0M251.6 70.3h0M254.1 74.5h0M253.2 65.8h0M256.9 64.4h0M254.7 67.8h0M254.6 70.4h0M255.8 68.3h0M255.7 73.7h0M253.8 64.8h0M252.5 60.8h0M255.8 62.1h0M257.9 69.4h0M255.5 68.3h0M254.5 65.1h0M254.1 66.0h0M251.5 71.2h0M253.9 69.0h0M250.0 71.3h0M253.8 60.7h0M253.5 67.9h0M251.9 69.4h0M259.3 77.1h0M253.0 61.3h0M249.0 64.8h0M250.9 65.9h0M252.8 70.4h0M253.7 69.3h0M253.4 65.2h0M251.9 67.1h0M253.1 69.9h0M255.7 71.1h0M255.1 63.3h0M255.5 72.2h0M250.8 69.0h0M255.3 69.5h0M254.3 68.7h0M255.1 72.8h0M255.4 69.6h0" stroke="#000" stroke-width="0.6" stroke-linecap="round" opacity="0.35" fill="none"/>
<path d="M253.3 69.2h0M260.3 68.3h0M256.8 70.4h0M253.2 66.8h0M252.9 68.4h0M258.6 67.9h0M250.8 61.4h0M254.1 70.2h0M257.5 68.6h0M253.7 69.7h0M256.7 60.7h0M254.9 60.9h0M253.5 69.5h0M253.3 70.6h0M251.5 72.5h0M256.6 68.7h0M255.4 62.4h0M256.3 66.1h0M255.0 70.0h0M256.8 70.2h0M249.1 70.8h0M256.2 68.5h0M254.1 67.2h0M256.3 62.5h0M253.5 72.7h0M252.5 69.1h0M252.2 61.7h0M255.0 70.1h0M252.4 66.2h0M255.6 69.1h0M258.4 66.1h0M259.1 66.0h0M254.4 66.3h0M252.8 65.6h0M256.3 66.3h0M253.5 70.6h0M255.4 67.9h0M253.3 68.0h0M252.3 70.9h0M251.6 66.6h0M255.1 69.0h0M253.2 67.0h0M254.1 69.1h0M254.1 71.7h0M254.5 72.1h0M251.4 67.1h0M253.4 68.3h0M255.8 64.1h0M254.1 65.7h0M253.9 65.9h0M253.1 68.9h0M250.9 65.1h0M254.2 66.3h0M253.9 68.0h0M254.5 70.5h0M250.4 70.9h0M255.9 64.2h0M254.9 65.9h0M252.3 72.6h0M254.6 65.9h0M253.7 58.8h0M256.7 68.8h0M250.7 65.5h0M256.8 65.1h0M254.9 71.2h0M252.2 65.6h0M256.9 71.6h0M252.5 66.5h0M253.3 68.9h0M251.1 66.2h0M254.4 67.3h0M255.5 71.0h0M254.3 66.6h0M255.4 62.6h0M252.9 67.8h0M250.9 72.0h0M255.7 69.0h0M258.7 61.0h0M255.0 70.5h0M252.3 65.8h0M256.7 67.7h0M256.3 68.0h0M255.2 68.1h0M253.9 70.3h0M253.9 72.2h0M267.3 60.9h0M250.9 65.2h0M254.5 62.5h0M253.0 69.7h0M257.4 61.4h0M253.0 73.3h0M251.3 67.2h0M252.2 66.3h0M253.2 70.2h0M252.2 67.9h0M254.3 70.8h0M258.1 67.8h0M251.7 69.1h0M254.5 68.7h0M252.9 72.9h0M255.8 66.2h0M253.4 66.8h0M248.9 62.3h0M254.4 63.7h0M256.2 69.2h0M253.6 73.5h0" stroke="#000" stroke-width="0.6" stroke-linecap="round" opacity="0.35" fill="none"/>
<path d="M254.9 69.9h0M254.5 71.1h0M250.9 63.2h0M255.2 73.0h0M253.4 66.6h0M255.4 65.2h0M255.0 71.6h0M251.2 61.2h0M252.6 72.8h0M251.6 70.5h0M258.4 70.4h0M252.8 65.2h0M252.8 65.9h0M258.6 68.2h0M254.8 67.4h0M253.8 64.3h0M254.7 69.2h0M257.2 71.0h0M251.5 66.3h0M252.6 63.4h0M254.0 64.7h0M254.4 61.3h0M254.9 57.7h0M253.7 71.8h0M254.3 67.9h0M252.2 62.4h0M255.5 67.3h0M254.5 68.0h0M256.3 69.1h0M256.1 75.3h0M254.8 69.3h0M256.4 65.3h0M254.4 64.9h0M251.3 67.5h0M254.8 63.7h0M254.9 66.5h0M256.7 69.6h0M254.6 66.5h0M250.3 71.8h0M253.1 65.7h0M253.9 71.3h0M255.1 73.3h0M252.2 78.5h0M253.0 66.6h0M255.2 65.4h0M254.8 64.9h0M249.9 68.2h0M253.0 63.1h0M250.5 63.9h0M255.5 65.2h0M254.9 65.8h0M257.8 67.3h0M263.2 81.3h0M255.1 66.4h0M255.1 68.8h0M255.6 69.3h0M253.2 60.2h0M255.5 68.0h0M253.9 66.6h0M254.3 71.3h0M260.2 68.9h0M254.8 66.2h0M255.5 70.4h0M253.7 65.6h0M253.1 67.5h0M249.6 67.7h0M255.2 76.7h0M253.9 64.6h0M253.9 70.5h0M252.1 67.3h0M253.9 67.9h0M252.7 63.8h0M252.0 58.0h0M253.7 63.9h0M249.4 72.2h0M252.6 69.9h0M254.3 67.5h0M255.5 66.3h0M253.0 69.4h0M257.0 72.1h0M254.6 66.9h0M252.8 72.1h0M249.4 86.9h0M254.0 60.4h0M248.7 61.1h0M251.8 63.2h0M253.6 64.0h0M251.8 64.0h0M252.4 64.2h0M252.9 65.7h0M250.9 68.5h0M252.7 67.9h0M256.3 65.6h0M250.5 66.4h0M255.8 73.4h0M251.7 62.3h0M254.5 66.7h0M255.9 61.7h0M255.0 69.8h0M251.9 72.6h0M253.3 68.0h0M257.2 67.4h0M250.6 68.4h0M255.9 71.9h0M252.6 67.2h0M251.8 74.0h0" stroke="#000" stroke-width="0.6" stroke-linecap="round" opacity="0.35" fill="none"/>
<ellipse cx="308" cy="75.5" rx="2.6" ry="6" fill="#000" opacity="0.9" filter="url(#bl1)" transform="rotate(-10 308 75.5)"/>
<path d="M312.0 87.5h0M310.6 81.8h0M308.0 78.6h0M311.1 78.6h0M309.5 79.9h0M303.9 69.6h0M306.6 77.3h0M308.3 80.1h0M308.1 71.5h0M303.3 71.3h0M310.9 73.7h0M306.6 72.2h0M307.4 71.1h0M303.9 76.5h0M310.9 76.0h0M304.8 78.2h0M304.3 77.8h0M305.8 76.2h0M305.4 69.2h0M311.3 76.7h0M307.1 67.7h0M308.6 77.3h0M309.0 76.5h0M307.4 75.0h0M304.9 64.6h0M306.6 71.2h0M311.7 74.8h0M309.8 78.5h0M314.1 75.0h0M308.7 79.4h0M308.9 70.7h0M307.7 76.3h0M309.4 69.0h0M309.1 82.2h0M306.1 74.8h0M305.6 76.4h0M308.0 72.6h0M307.4 75.1h0M306.0 74.9h0M308.0 78.9h0M308.5 82.5h0M305.8 73.1h0M301.0 83.9h0M303.5 82.3h0M308.4 74.1h0M311.6 84.4h0M307.9 70.3h0M306.8 72.3h0M308.3 73.2h0M308.7 77.5h0M307.2 64.5h0M306.8 72.7h0M306.2 70.4h0M307.7 74.3h0M308.3 78.7h0M308.0 81.0h0M309.2 73.1h0M311.3 81.8h0M307.8 76.3h0M306.8 73.2h0M310.4 78.0h0M305.9 78.9h0M308.2 73.4h0M312.7 74.4h0M308.4 79.6h0M303.6 76.5h0M304.3 77.1h0M307.2 75.2h0M309.2 85.1h0M313.5 97.7h0M302.7 69.3h0M313.2 69.5h0M307.8 80.0h0M307.5 72.7h0M308.2 77.2h0M310.7 78.4h0M303.0 69.9h0M307.2 75.5h0M310.6 79.6h0M306.9 80.6h0M312.0 84.6h0M308.9 67.4h0M308.9 77.0h0M310.4 78.8h0M310.3 78.6h0M305.6 74.7h0M309.5 79.7h0M309.5 77.7h0M298.9 76.9h0M309.9 73.3h0M304.9 73.0h0M307.6 72.9h0M310.2 76.0h0M308.6 84.9h0M306.6 74.2h0M307.5 68.4h0M309.3 81.6h0M311.0 76.6h0M308.1 71.6h0M299.6 82.5h0M309.7 73.5h0M309.7 77.1h0M307.2 73.2h0M309.3 77.7h0M307.4 86.8h0M307.8 70.4h0M307.2 65.6h0M306.8 73.4h0M308.9 68.6h0M307.0 71.5h0M310.7 73.5h0M311.7 81.4h0M310.0 70.8h0M307.9 69.6h0M308.4 68.2h0M308.5 86.8h0M308.9 74.6h0M307.9 72.1h0M308.8 78.5h0M309.2 80.7h0M305.7 69.2h0M307.5 67.5h0M311.0 71.9h0M311.1 78.5h0M307.6 80.9h0M308.1 75.1h0M309.1 75.6h0M306.3 78.9h0M307.9 78.3h0M308.7 70.0h0M309.8 77.2h0M305.8 78.4h0M314.7 85.0h0" stroke="#000" stroke-width="0.6" stroke-linecap="round" opacity="0.35" fill="none"/>
<path d="M308.2 72.8h0M309.7 74.1h0M309.5 71.2h0M306.9 79.1h0M302.1 76.0h0M308.3 73.0h0M309.3 75.3h0M305.1 78.4h0M307.9 77.3h0M308.9 71.1h0M311.1 70.7h0M311.1 78.0h0M309.7 74.1h0M306.2 72.5h0M304.6 67.0h0M304.0 97.5h0M308.6 69.3h0M305.4 78.5h0M304.2 59.2h0M308.0 77.8h0M308.7 73.8h0M307.4 74.9h0M306.9 69.0h0M307.6 71.7h0M304.4 82.3h0M308.0 68.9h0M310.8 73.3h0M308.4 78.2h0M308.4 68.1h0M310.4 79.4h0M310.9 81.5h0M308.1 76.9h0M305.7 84.1h0M309.4 79.0h0M309.3 79.2h0M309.7 77.5h0M305.6 83.9h0M311.0 84.8h0M308.6 69.7h0M308.1 78.0h0M305.8 77.0h0M307.5 71.9h0M309.7 72.4h0M306.6 73.1h0M312.0 77.0h0M306.8 84.5h0M308.4 77.2h0M307.0 68.7h0M308.1 73.4h0M303.3 66.7h0M305.6 68.4h0M310.6 72.2h0M306.2 81.1h0M311.2 83.7h0M305.0 75.1h0M309.8 78.4h0M306.6 78.6h0M305.9 70.6h0M306.4 74.1h0M307.5 66.9h0M305.4 69.1h0M310.5 69.1h0M308.3 69.4h0M311.1 80.3h0M306.5 73.4h0M304.3 70.9h0M309.0 78.6h0M303.8 64.9h0M307.1 81.3h0M308.8 67.6h0M307.0 73.8h0M310.4 76.9h0M308.1 74.3h0M309.5 77.4h0M307.8 79.1h0M310.2 83.3h0M308.8 68.2h0M316.1 77.5h0M306.0 75.7h0M305.0 70.6h0M306.8 79.0h0M310.3 84.4h0M307.9 64.3h0M308.8 75.2h0M310.2 79.0h0M306.7 70.8h0M309.6 79.6h0M310.4 82.2h0M307.1 76.8h0M309.2 78.8h0M304.5 64.2h0M311.7 71.5h0M307.7 73.9h0M312.1 75.5h0M306.6 73.1h0M310.5 80.7h0M308.1 76.8h0M306.9 83.6h0M307.3 76.2h0M311.2 81.6h0M312.3 74.1h0M304.7 77.4h0M310.7 78.8h0M310.2 82.7h0M310.0 71.2h0M310.1 74.5h0M306.4 81.5h0M308.4 76.0h0M303.6 71.2h0M308.5 68.2h0M312.5 77.3h0M310.0 77.0h0M309.2 71.8h0M309.1 78.7h0M307.7 77.0h0M309.4 77.5h0M305.1 72.6h0M307.5 76.2h0M310.5 76.8h0M305.5 69.4h0M305.3 70.2h0M312.2 82.7h0M309.7 76.5h0M309.2 79.9h0M308.3 69.5h0M309.0 75.8h0M308.0 72.8h0M310.2 85.9h0M304.3 66.7h0M309.1 73.5h0M311.5 75.8h0M310.9 73.8h0M308.1 72.9h0" stroke="#000" stroke-width="0.6" stroke-linecap="round" opacity="0.35" fill="none"/>
<path d="M311.7 79.9h0M308.2 75.3h0M304.2 73.2h0M305.4 71.7h0M308.8 76.1h0M308.7 85.4h0M307.9 74.5h0M308.1 70.7h0M306.9 73.1h0M313.6 82.7h0M307.9 77.2h0M309.1 68.0h0M307.5 78.5h0M310.6 80.2h0M308.0 75.0h0M311.2 79.7h0M305.8 75.2h0M305.2 71.7h0M306.3 67.5h0M309.3 61.4h0M305.1 67.8h0M308.6 73.4h0M305.7 78.5h0M308.2 79.6h0M310.3 77.9h0M304.0 67.3h0M309.2 62.5h0M308.5 78.9h0M309.6 75.7h0M309.3 73.3h0M307.1 66.0h0M307.1 75.2h0M308.1 81.5h0M302.6 73.6h0M305.1 74.7h0M309.7 73.4h0M304.3 64.8h0M309.1 79.1h0M309.7 75.5h0M309.3 75.1h0M305.8 69.3h0M307.5 72.1h0M311.3 76.2h0M309.9 87.2h0M305.0 72.3h0M306.9 72.0h0M308.5 75.8h0M309.0 77.1h0M310.8 73.7h0M307.8 72.7h0M308.2 80.0h0M305.5 78.5h0M309.4 73.5h0M312.0 76.5h0M309.1 68.7h0M308.2 76.1h0M308.8 73.8h0M305.0 72.5h0M308.9 77.0h0M306.8 80.3h0M309.0 79.0h0M308.4 73.5h0M307.0 81.3h0M307.9 72.1h0M307.1 75.3h0M307.9 71.9h0M307.7 72.3h0M309.2 79.8h0M306.0 71.8h0M311.2 77.1h0M308.3 76.6h0M310.3 78.6h0M309.1 76.6h0M309.3 78.3h0M308.8 76.6h0M303.9 78.3h0M309.6 76.7h0M303.8 72.6h0M308.4 73.7h0M306.6 75.2h0M308.6 73.0h0M309.5 85.8h0M307.7 73.7h0M308.0 78.4h0M307.8 77.4h0M305.5 76.7h0M303.4 66.2h0M305.2 77.4h0M309.3 80.8h0M307.1 73.6h0M310.7 72.5h0M306.5 83.2h0M309.6 81.5h0M311.3 78.5h0M307.3 76.6h0M307.0 69.5h0M304.3 85.1h0M309.3 74.2h0M303.2 75.5h0M310.8 74.7h0M308.3 72.8h0M306.9 76.6h0M308.0 79.8h0M307.7 74.7h0M315.2 90.7h0M306.5 73.5h0M304.7 73.3h0M308.6 77.8h0M309.1 77.4h0M298.4 66.7h0M308.7 78.2h0M306.4 77.2h0M304.7 68.2h0M309.4 86.3h0M312.8 78.0h0M309.8 75.6h0M311.7 72.9h0M304.1 74.5h0M306.0 71.3h0M309.4 82.1h0M307.8 66.1h0M308.7 77.1h0M306.8 74.5h0M308.6 78.8h0M305.0 75.0h0M306.8 69.2h0M301.7 60.4h0M305.4 77.1h0M307.0 73.3h0M307.9 72.2h0M309.3 74.5h0M311.8 72.5h0M307.2 71.3h0" stroke="#000" stroke-width="0.6" stroke-linecap="round" opacity="0.35" fill="none"/>
<ellipse cx="153.5" cy="106.8" rx="5.4" ry="2.4" fill="#000" opacity="0.95" filter="url(#bl3)"/>
<path d="M153.7 106.1h0M154.9 109.6h0M155.9 108.1h0M157.7 107.9h0M150.5 106.2h0M151.4 107.3h0M158.9 107.2h0M147.2 109.9h0M156.1 104.9h0M150.9 102.9h0M153.8 105.6h0M155.6 104.9h0M156.9 105.4h0M157.9 107.1h0M153.1 108.2h0M159.2 111.7h0M153.9 108.1h0M154.2 106.9h0M162.2 105.2h0M151.3 108.6h0M149.9 107.8h0M154.9 107.1h0M157.7 108.1h0M153.0 109.7h0M151.2 108.5h0M162.7 105.0h0M156.6 108.9h0M153.0 105.8h0M154.0 106.2h0M155.5 109.2h0M154.2 105.8h0M151.1 105.1h0M155.2 108.9h0M151.7 106.0h0M149.6 107.8h0M159.2 107.4h0M152.2 109.1h0M147.7 104.6h0M151.5 109.1h0M154.9 107.9h0M156.2 104.7h0M154.4 105.6h0M153.3 106.4h0M154.5 107.2h0M158.3 109.9h0M151.2 107.2h0M149.1 106.8h0M152.6 105.0h0M154.6 107.3h0M150.8 107.0h0M154.1 108.3h0M152.1 104.2h0M145.7 108.1h0M152.3 106.4h0M149.3 104.7h0M161.3 106.5h0M148.6 107.4h0M159.0 108.0h0M152.1 107.2h0M170.4 111.9h0M152.0 109.6h0M154.6 107.3h0M146.8 106.3h0M156.3 109.3h0M152.5 107.6h0M155.3 106.8h0M153.1 103.5h0M144.6 107.6h0M152.5 108.6h0M153.3 106.1h0M155.2 106.7h0M152.1 107.9h0M142.7 107.8h0M155.4 105.8h0M153.4 105.4h0M147.7 108.4h0M153.0 106.8h0M147.4 104.8h0M150.2 109.7h0M153.2 108.4h0M151.4 108.1h0M154.6 110.4h0M148.6 104.4h0M153.8 110.5h0M159.3 106.7h0M154.6 105.8h0" stroke="#000" stroke-width="0.6" stroke-linecap="round" opacity="0.39" fill="none"/>
<path d="M148.5 109.0h0M150.3 106.5h0M149.6 109.4h0M154.9 106.3h0M153.3 104.5h0M160.4 107.9h0M150.3 107.3h0M155.0 103.7h0M152.0 107.9h0M153.1 107.2h0M153.9 108.2h0M153.4 105.8h0M148.2 108.6h0M151.6 109.0h0M145.9 107.5h0M150.7 109.9h0M157.3 108.2h0M149.4 106.7h0M157.4 105.3h0M151.3 108.1h0M152.9 106.1h0M158.2 107.4h0M152.7 105.2h0M146.9 106.5h0M151.9 107.8h0M154.3 105.8h0M157.3 106.8h0M151.4 103.3h0M152.5 108.3h0M155.3 108.8h0M152.5 106.1h0M158.1 106.9h0M156.7 110.1h0M153.9 103.7h0M158.3 105.8h0M145.8 106.8h0M157.6 106.4h0M151.6 106.6h0M154.7 105.3h0M153.3 108.2h0M149.5 106.8h0M156.8 107.0h0M153.5 105.7h0M151.3 106.8h0M155.5 106.3h0M152.4 104.3h0M152.8 105.7h0M154.6 106.7h0M150.4 107.4h0M155.1 104.6h0M148.5 107.5h0M150.3 109.2h0M154.2 107.8h0M151.2 106.0h0M153.8 107.6h0M151.8 108.6h0M149.7 107.1h0M144.9 107.2h0M155.0 108.9h0M154.2 107.4h0M157.1 106.6h0M150.5 107.6h0M151.9 107.5h0M153.1 106.8h0M153.0 105.4h0M156.7 106.1h0M152.1 108.8h0M152.7 103.0h0M148.8 109.2h0M148.9 105.6h0M157.8 106.2h0M154.2 107.6h0M153.8 106.5h0M149.3 107.1h0M156.1 106.0h0M158.1 105.9h0M151.7 108.3h0M154.1 105.7h0M150.9 107.9h0M150.7 106.6h0M154.4 106.0h0M158.6 107.2h0M154.2 106.1h0M156.1 107.3h0M152.0 103.4h0M145.8 105.8h0" stroke="#000" stroke-width="0.6" stroke-linecap="round" opacity="0.39" fill="none"/>
<path d="M156.9 106.1h0M153.4 103.7h0M159.6 108.7h0M135.7 101.4h0M157.3 107.5h0M152.2 104.7h0M154.7 107.8h0M149.0 103.2h0M157.3 106.7h0M153.4 108.1h0M159.1 106.8h0M154.4 107.7h0M153.4 106.3h0M153.1 106.5h0M154.7 104.9h0M157.1 105.4h0M146.7 109.2h0M157.5 105.9h0M155.1 108.3h0M160.0 107.0h0M153.1 106.9h0M148.9 108.1h0M153.0 105.3h0M161.5 105.9h0M152.1 108.3h0M158.8 105.3h0M158.3 102.5h0M151.0 109.3h0M151.9 106.3h0M150.6 107.0h0M160.7 108.7h0M157.1 109.1h0M157.5 105.7h0M154.9 106.6h0M155.8 107.7h0M156.2 105.6h0M153.3 109.5h0M156.9 108.0h0M154.7 109.2h0M147.9 109.5h0M157.3 106.9h0M155.7 104.4h0M155.9 105.7h0M151.7 107.0h0M160.8 111.1h0M158.0 106.8h0M157.0 108.6h0M153.6 113.4h0M152.0 107.0h0M154.2 106.6h0M147.9 107.4h0M148.9 110.0h0M157.8 109.1h0M155.2 108.6h0M157.8 110.1h0M154.1 105.7h0M154.9 110.3h0M159.6 106.4h0M146.6 106.3h0M160.0 109.0h0M151.0 104.5h0M147.0 107.6h0M155.4 106.5h0M150.0 106.4h0M156.1 108.3h0M153.1 108.4h0M153.9 104.8h0M156.1 105.9h0M155.5 106.8h0M157.0 106.6h0M153.2 107.3h0M155.6 107.8h0M145.4 105.4h0M147.8 109.9h0M146.6 106.0h0M150.4 108.6h0M156.1 106.7h0M154.0 107.0h0M154.7 108.7h0M156.3 104.9h0M163.5 104.7h0M153.4 106.7h0M145.0 108.8h0M153.1 106.8h0M157.4 105.7h0M155.9 107.0h0" stroke="#000" stroke-width="0.6" stroke-linecap="round" opacity="0.39" fill="none"/>
<ellipse cx="153" cy="119.8" rx="2.8" ry="3" fill="#000" opacity="0.4" filter="url(#bl4)"/>
<path d="M153.6 118.4h0M152.4 125.2h0M150.0 126.0h0M152.7 118.5h0M154.2 119.3h0M152.8 121.1h0M149.6 113.6h0M156.6 119.3h0M155.2 123.3h0M149.5 124.2h0M154.0 120.8h0M149.0 116.8h0M149.6 119.4h0M146.9 123.5h0M155.5 120.5h0M153.1 117.4h0M153.1 120.7h0M151.2 121.1h0M153.7 123.6h0M150.1 120.5h0M150.1 117.1h0M155.0 120.7h0M151.4 117.1h0M146.9 119.0h0M154.3 121.5h0M156.4 117.1h0M153.4 120.2h0M155.2 116.2h0M152.4 118.8h0M152.4 120.6h0M152.4 116.2h0M151.7 116.9h0M163.4 126.7h0M153.4 122.3h0M156.4 121.7h0M152.0 121.4h0M153.5 122.3h0M150.0 121.0h0M145.3 117.2h0M155.5 121.4h0M154.3 123.4h0M153.8 117.3h0M154.2 116.6h0M151.7 119.6h0M151.9 116.0h0M157.0 120.7h0M156.8 123.0h0M149.4 117.3h0M152.2 117.0h0M151.8 127.1h0M154.1 119.5h0M155.4 116.5h0M155.9 116.3h0M146.8 125.8h0M155.3 120.2h0M155.3 119.4h0M154.2 114.0h0M156.7 118.7h0M151.4 118.8h0M150.7 119.8h0M149.5 119.3h0M152.5 122.8h0M149.6 121.5h0M151.0 119.1h0M151.7 114.8h0M153.0 125.9h0M151.5 121.1h0M151.8 114.5h0M152.8 117.6h0M151.6 121.4h0M153.1 114.9h0M153.5 124.4h0M151.3 115.9h0" stroke="#000" stroke-width="0.6" stroke-linecap="round" opacity="0.26" fill="none"/>
<path d="M152.9 120.5h0M159.5 120.9h0M149.7 113.1h0M153.3 122.0h0M154.2 115.1h0M151.6 121.1h0M151.7 113.7h0M154.9 117.3h0M150.2 126.5h0M154.2 121.4h0M154.4 117.5h0M155.1 117.6h0M153.4 116.8h0M155.3 117.8h0M149.4 116.8h0M148.7 123.3h0M150.0 122.9h0M151.4 116.0h0M156.9 120.0h0M152.5 121.3h0M154.6 118.4h0M148.5 117.0h0M151.3 123.1h0M151.7 119.4h0M152.0 122.2h0M154.1 118.7h0M153.3 125.0h0M148.2 116.4h0M154.4 114.6h0M153.5 116.3h0M155.4 120.4h0M149.8 116.1h0M150.5 118.7h0M154.6 120.8h0M145.4 122.7h0M149.2 120.5h0M153.9 120.2h0M150.2 120.9h0M152.1 116.3h0M154.5 122.4h0M149.4 123.5h0M154.8 117.7h0M150.5 117.1h0M158.6 123.0h0M155.9 122.2h0M151.9 121.7h0M151.6 122.0h0M151.3 121.7h0M151.0 116.0h0M151.4 120.6h0M148.3 120.9h0M152.9 118.8h0M156.8 118.5h0M150.1 119.6h0M154.7 123.1h0M152.8 123.5h0M151.8 118.4h0M151.7 122.8h0M149.4 119.9h0M151.6 123.4h0M149.6 116.2h0M153.5 122.5h0M149.0 117.6h0M146.5 121.9h0M152.3 118.4h0M158.9 120.9h0M152.7 117.3h0M155.2 124.2h0M158.4 120.1h0M154.9 115.8h0M154.1 118.1h0M152.7 120.0h0M153.9 119.9h0" stroke="#000" stroke-width="0.6" stroke-linecap="round" opacity="0.26" fill="none"/>
<path d="M154.1 120.6h0M152.0 125.7h0M158.4 113.3h0M153.6 117.3h0M154.6 115.3h0M158.0 123.0h0M149.1 115.9h0M152.1 116.5h0M151.3 120.0h0M152.2 124.0h0M153.1 123.8h0M153.3 121.4h0M150.9 122.0h0M157.3 120.3h0M154.7 117.7h0M150.6 123.2h0M150.4 121.4h0M155.6 118.0h0M153.4 117.7h0M150.1 123.6h0M152.4 123.4h0M150.6 122.1h0M152.9 119.6h0M152.9 124.8h0M150.1 117.2h0M153.4 117.2h0M153.9 115.4h0M149.4 121.1h0M153.4 120.7h0M151.5 119.4h0M154.7 117.4h0M154.4 122.9h0M149.8 120.0h0M142.1 119.2h0M156.4 117.8h0M153.4 115.9h0M153.9 124.3h0M152.7 117.5h0M151.5 117.3h0M156.4 121.1h0M154.9 122.4h0M157.0 122.7h0M154.9 120.2h0M153.0 120.7h0M153.0 121.9h0M149.8 123.1h0M156.1 122.4h0M152.4 120.7h0M154.6 110.4h0M157.3 120.6h0M155.4 118.3h0M158.7 122.5h0M150.4 120.6h0M154.4 116.7h0M148.4 122.8h0M151.2 116.5h0M151.3 118.5h0M153.7 118.6h0M164.6 107.9h0M150.4 116.7h0M151.6 119.8h0M152.0 115.1h0M150.6 116.3h0M155.8 119.9h0M151.1 118.0h0M152.0 117.5h0M151.9 122.8h0M159.9 126.1h0M153.5 119.3h0M151.9 120.8h0M150.3 119.5h0M150.8 119.2h0M150.9 121.5h0" stroke="#000" stroke-width="0.6" stroke-linecap="round" opacity="0.26" fill="none"/>
<path d="M154.8 113.1h0M151.1 109.7h0M150.8 116.1h0M153.0 114.7h0M155.1 114.2h0M154.1 112.3h0M150.4 115.0h0M153.0 114.9h0M151.3 113.2h0M156.8 111.5h0M153.4 116.7h0M152.8 113.8h0M149.4 115.4h0M152.4 116.6h0M153.0 112.6h0M154.0 112.9h0" stroke="#000" stroke-width="0.6" stroke-linecap="round" opacity="0.21" fill="none"/>
<path d="M152.3 117.3h0M154.9 113.8h0M154.6 115.5h0M154.2 113.6h0M153.3 114.5h0M154.2 114.4h0M152.2 113.3h0M154.0 111.2h0M153.2 115.4h0M153.5 112.8h0M153.2 112.4h0M154.9 112.6h0M150.3 110.6h0M153.7 114.0h0M152.4 110.4h0M152.9 111.5h0" stroke="#000" stroke-width="0.6" stroke-linecap="round" opacity="0.21" fill="none"/>
<path d="M152.0 113.5h0M151.8 114.3h0M151.9 112.4h0M152.8 117.0h0M156.0 115.8h0M151.9 113.5h0M154.8 115.5h0M150.3 113.4h0M151.9 115.3h0M154.3 112.3h0M157.0 112.9h0M157.5 113.1h0M153.1 118.1h0M152.3 112.4h0M155.8 113.4h0M154.0 110.5h0" stroke="#000" stroke-width="0.6" stroke-linecap="round" opacity="0.21" fill="none"/>
<ellipse cx="207.3" cy="107.8" rx="3.7" ry="2.6" fill="#000" opacity="0.95" filter="url(#bl2)"/>
<path d="M211.9 109.7h0M207.1 110.5h0M203.3 108.7h0M206.6 107.3h0M202.1 103.1h0M209.7 112.3h0M205.1 108.8h0M207.1 105.4h0M204.5 107.1h0M213.7 106.5h0M210.2 107.9h0M207.6 111.0h0M211.9 106.7h0M206.8 111.1h0M206.3 109.6h0M210.1 105.1h0M208.0 108.9h0M207.9 109.6h0M209.6 110.4h0M208.6 106.7h0M206.6 109.3h0M210.1 108.1h0M212.5 108.3h0M213.9 108.0h0M207.3 108.4h0M206.4 105.7h0M207.4 109.5h0M201.9 111.9h0M215.2 113.4h0M206.2 104.8h0M202.8 107.0h0M205.3 107.6h0M208.8 110.6h0M208.0 105.5h0M211.5 106.4h0M204.6 111.7h0M209.2 109.0h0M210.7 106.9h0M211.5 106.8h0M203.0 108.7h0M210.1 109.6h0M207.3 110.7h0M208.3 108.7h0M204.1 111.8h0M203.0 109.1h0M210.5 112.3h0M212.9 110.0h0M204.6 108.2h0M203.0 109.8h0M205.7 107.3h0M204.7 108.1h0M205.0 107.9h0M209.0 108.0h0" stroke="#000" stroke-width="0.6" stroke-linecap="round" opacity="0.39" fill="none"/>
<path d="M209.8 108.1h0M202.9 109.6h0M212.1 107.3h0M206.9 107.9h0M206.7 113.5h0M204.9 107.5h0M206.3 108.5h0M208.4 105.7h0M203.0 105.9h0M207.3 107.4h0M206.2 106.8h0M209.8 104.6h0M205.1 107.2h0M207.6 105.5h0M201.5 106.9h0M210.2 106.8h0M210.1 108.4h0M206.3 103.3h0M203.6 108.4h0M203.4 98.8h0M202.3 115.3h0M207.5 107.6h0M207.9 106.7h0M207.9 110.8h0M205.5 107.0h0M211.6 107.1h0M207.4 110.2h0M204.6 110.7h0M203.1 106.9h0M209.4 108.2h0M208.7 107.6h0M204.7 109.4h0M209.4 108.6h0M208.8 109.1h0M206.1 107.6h0M205.9 108.0h0M208.1 106.9h0M208.8 105.3h0M210.6 105.5h0M207.8 104.9h0M211.0 103.5h0M210.2 104.5h0M205.7 105.5h0M205.4 107.4h0M205.9 107.7h0M208.8 107.1h0M206.7 107.2h0M207.5 106.5h0M206.4 111.0h0M207.9 107.0h0M204.2 111.0h0M211.2 109.3h0M206.8 107.3h0" stroke="#000" stroke-width="0.6" stroke-linecap="round" opacity="0.39" fill="none"/>
<path d="M204.6 104.9h0M206.7 108.1h0M207.5 111.2h0M208.0 105.8h0M209.1 109.3h0M206.4 110.9h0M206.3 109.3h0M205.4 106.4h0M212.7 106.0h0M202.6 106.5h0M207.2 108.8h0M207.5 107.0h0M210.3 107.9h0M210.2 104.8h0M209.9 109.8h0M210.7 106.8h0M205.2 107.9h0M201.7 108.8h0M210.0 107.1h0M211.1 111.1h0M209.2 106.7h0M212.3 108.5h0M203.9 110.4h0M207.3 106.0h0M208.8 111.0h0M213.4 110.6h0M205.4 109.3h0M212.1 105.2h0M205.5 109.4h0M203.9 107.7h0M210.0 107.8h0M205.9 108.5h0M204.6 106.8h0M207.3 109.6h0M200.5 109.7h0M207.5 108.6h0M204.7 110.6h0M207.7 111.1h0M200.4 106.9h0M210.8 109.1h0M203.0 110.8h0M207.0 108.6h0M205.0 105.7h0M206.6 108.0h0M205.8 107.0h0M207.5 109.1h0M208.4 106.2h0M204.6 110.7h0M205.8 106.5h0M209.9 112.5h0M203.7 107.5h0M206.3 109.1h0M210.1 108.2h0" stroke="#000" stroke-width="0.6" stroke-linecap="round" opacity="0.39" fill="none"/>
<path d="M208.4 115.5h0M207.4 123.4h0M207.4 118.2h0M207.5 117.8h0M208.0 116.4h0M209.9 111.7h0M204.0 128.1h0M211.5 121.4h0M210.0 121.8h0M205.4 124.9h0M207.3 123.2h0M208.3 116.7h0M207.9 116.9h0M210.8 122.4h0M208.2 124.9h0M209.2 121.0h0M206.3 115.9h0M206.5 118.1h0M207.5 115.8h0M208.4 125.2h0M205.4 117.7h0M208.3 123.9h0M207.4 122.3h0M206.1 125.6h0M206.8 120.0h0M207.7 119.3h0M207.8 119.0h0M208.9 122.5h0M206.4 120.7h0M211.0 115.5h0M207.2 126.7h0M207.0 116.8h0M207.7 129.6h0" stroke="#000" stroke-width="0.6" stroke-linecap="round" opacity="0.22" fill="none"/>
<path d="M208.1 120.8h0M207.0 123.7h0M208.4 124.5h0M208.1 120.5h0M208.6 118.4h0M211.6 121.6h0M207.6 123.4h0M209.1 123.2h0M208.6 122.5h0M207.8 125.6h0M206.4 122.0h0M204.7 120.0h0M207.5 117.8h0M210.6 117.9h0M205.9 119.5h0M207.3 122.6h0M209.7 117.8h0M211.1 125.6h0M208.2 120.4h0M207.4 118.5h0M204.5 119.5h0M206.6 124.3h0M207.2 119.0h0M206.5 118.4h0M209.0 120.8h0M207.7 120.0h0M207.7 122.7h0M209.1 124.5h0M209.3 126.5h0M209.9 123.8h0M208.4 119.6h0M208.4 126.8h0M203.7 122.5h0" stroke="#000" stroke-width="0.6" stroke-linecap="round" opacity="0.22" fill="none"/>
<path d="M206.8 124.0h0M209.4 120.2h0M211.5 119.5h0M208.5 125.2h0M208.6 120.4h0M209.6 116.1h0M207.8 116.3h0M211.5 126.2h0M210.3 124.7h0M207.5 118.0h0M207.1 117.7h0M207.8 120.0h0M209.4 119.6h0M208.5 117.3h0M208.4 118.3h0M207.4 120.8h0M207.1 121.1h0M209.5 116.9h0M203.5 125.3h0M212.1 118.1h0M210.2 123.7h0M207.5 116.3h0M211.9 121.8h0M205.6 122.8h0M208.4 118.4h0M211.8 122.4h0M207.7 122.0h0M211.6 129.6h0M207.7 118.6h0M210.1 126.9h0M206.6 117.0h0M209.1 123.7h0M207.9 120.9h0" stroke="#000" stroke-width="0.6" stroke-linecap="round" opacity="0.22" fill="none"/>
<ellipse cx="252.8" cy="108.8" rx="4" ry="2.6" fill="#000" opacity="0.95" filter="url(#bl5)"/>
<path d="M252.0 109.3h0M258.3 111.7h0M252.7 108.5h0M249.5 109.1h0M247.8 108.8h0M254.9 107.7h0M253.0 111.0h0M247.5 107.4h0M244.4 108.6h0M255.3 109.2h0M257.4 111.9h0M255.6 108.0h0M251.3 106.2h0M251.4 111.8h0M249.3 108.2h0M254.1 110.4h0M255.4 104.3h0M253.1 109.8h0M252.7 106.4h0M249.2 108.8h0M250.4 106.9h0M248.1 109.1h0M254.8 110.4h0M249.5 110.0h0M250.5 110.2h0M255.4 108.7h0M252.3 107.2h0M250.6 108.1h0M258.5 109.4h0M252.1 111.0h0M258.3 110.4h0M252.9 110.4h0M253.7 107.1h0M253.3 112.2h0M253.7 108.3h0M257.2 108.7h0M253.4 109.5h0M257.4 110.4h0M247.0 109.6h0M251.8 108.4h0M250.9 109.7h0M252.6 108.1h0M250.8 111.0h0M248.0 110.2h0M252.3 107.4h0M255.2 108.5h0M255.0 110.2h0M249.2 106.2h0M255.4 110.6h0M251.5 111.3h0M250.7 108.9h0M252.0 112.1h0M252.6 110.9h0M253.7 110.0h0M253.4 110.6h0M253.0 107.2h0M249.0 110.9h0M247.2 110.8h0M256.2 108.7h0M251.2 110.0h0" stroke="#000" stroke-width="0.6" stroke-linecap="round" opacity="0.39" fill="none"/>
<path d="M254.8 107.9h0M249.5 109.5h0M253.9 110.5h0M252.6 109.0h0M251.8 109.3h0M254.0 112.3h0M251.8 110.2h0M252.3 110.6h0M253.8 106.3h0M251.1 107.4h0M253.9 110.2h0M254.4 106.9h0M253.2 114.1h0M252.3 109.5h0M252.6 112.5h0M251.3 107.6h0M252.4 109.8h0M255.5 104.3h0M251.9 107.7h0M268.0 114.9h0M250.8 107.9h0M246.8 110.6h0M254.8 111.2h0M251.0 108.9h0M254.1 109.7h0M249.6 108.8h0M251.9 105.2h0M264.0 110.9h0M252.2 109.9h0M253.1 108.1h0M255.3 106.8h0M250.9 106.1h0M255.1 111.2h0M253.9 109.8h0M254.7 110.3h0M250.1 108.4h0M254.9 109.8h0M256.9 105.9h0M248.0 108.3h0M254.4 109.9h0M254.5 107.9h0M251.5 108.8h0M254.2 105.9h0M252.2 109.9h0M251.9 107.4h0M255.8 111.8h0M253.8 107.5h0M248.2 108.8h0M250.2 111.2h0M255.8 106.7h0M251.3 110.1h0M253.6 107.5h0M258.2 118.6h0M254.1 106.9h0M250.0 108.5h0M258.1 111.2h0M255.5 111.1h0M254.3 106.4h0M253.2 109.1h0M253.1 108.0h0" stroke="#000" stroke-width="0.6" stroke-linecap="round" opacity="0.39" fill="none"/>
<path d="M253.0 108.0h0M256.6 107.3h0M250.6 109.2h0M253.7 106.3h0M252.4 106.9h0M249.0 111.8h0M249.4 109.7h0M237.4 107.2h0M256.3 107.3h0M253.7 108.2h0M251.6 105.7h0M261.7 108.8h0M253.6 109.5h0M251.8 110.3h0M258.2 110.9h0M250.0 108.3h0M250.7 108.0h0M257.1 108.2h0M254.1 109.4h0M254.9 110.3h0M256.4 105.1h0M252.9 109.4h0M256.0 109.8h0M251.1 107.0h0M251.4 111.8h0M252.1 107.0h0M252.6 109.5h0M251.5 108.2h0M256.8 106.6h0M251.1 109.1h0M252.2 103.8h0M255.4 109.1h0M251.7 108.5h0M249.6 112.3h0M252.2 110.1h0M243.1 105.1h0M248.4 108.2h0M254.0 108.7h0M256.3 109.0h0M252.8 109.4h0M252.5 111.3h0M247.0 107.0h0M254.3 108.0h0M255.7 109.2h0M252.7 110.7h0M253.2 111.8h0M264.3 114.0h0M251.9 107.4h0M261.4 112.0h0M248.0 109.8h0M255.9 108.0h0M245.0 108.4h0M250.2 106.0h0M247.7 107.7h0M253.2 108.7h0M251.4 108.5h0M251.1 109.4h0M247.3 106.7h0M256.5 110.6h0M252.6 112.3h0" stroke="#000" stroke-width="0.6" stroke-linecap="round" opacity="0.39" fill="none"/>
<path d="M254.1 117.2h0M252.4 116.3h0M254.2 119.2h0M248.0 116.1h0M254.8 120.4h0M252.6 121.1h0M251.6 120.6h0M253.3 120.7h0M250.9 122.2h0M254.3 120.7h0M253.0 118.5h0M251.5 117.3h0M250.0 116.8h0M249.6 119.5h0M251.3 119.6h0M248.7 117.7h0M250.8 118.4h0M250.3 116.6h0M249.8 112.0h0M254.1 118.2h0M253.1 118.0h0M253.0 118.9h0M249.4 119.5h0M257.6 116.2h0M252.7 119.2h0M254.5 119.4h0M253.3 122.8h0M253.9 118.5h0M250.9 118.6h0M253.7 119.0h0" stroke="#000" stroke-width="0.6" stroke-linecap="round" opacity="0.24" fill="none"/>
<path d="M255.7 115.5h0M251.6 121.6h0M254.7 121.2h0M250.4 118.7h0M256.3 118.7h0M252.0 115.9h0M255.6 119.8h0M251.2 117.7h0M256.6 116.4h0M250.3 122.4h0M256.2 118.4h0M254.2 119.1h0M251.8 115.4h0M252.8 116.8h0M255.2 121.1h0M251.0 118.9h0M254.9 121.7h0M254.2 118.8h0M253.1 116.5h0M252.9 114.5h0M254.9 120.6h0M251.6 120.6h0M254.1 119.8h0M254.4 119.0h0M249.3 118.6h0M249.8 120.7h0M253.5 117.9h0M252.1 116.4h0M251.6 118.7h0M251.5 121.1h0" stroke="#000" stroke-width="0.6" stroke-linecap="round" opacity="0.24" fill="none"/>
<path d="M251.7 115.8h0M253.1 122.1h0M251.4 118.0h0M251.2 120.0h0M254.0 116.9h0M253.0 120.4h0M253.7 119.6h0M248.4 119.5h0M250.7 117.0h0M252.3 119.1h0M252.5 118.0h0M252.8 121.9h0M256.9 119.6h0M252.2 121.0h0M253.7 119.0h0M251.5 120.8h0M252.1 119.4h0M252.0 113.9h0M252.7 123.3h0M253.2 122.6h0M253.8 120.6h0M253.5 120.2h0M251.1 116.5h0M251.2 120.2h0M254.2 115.6h0M255.0 120.6h0M251.6 120.1h0M253.7 115.6h0M253.6 118.4h0M251.7 117.7h0" stroke="#000" stroke-width="0.6" stroke-linecap="round" opacity="0.24" fill="none"/>
<ellipse cx="307.6" cy="114.5" rx="3.4" ry="3.6" fill="#000" opacity="0.95" filter="url(#bl0)"/>
<ellipse cx="309.5" cy="122.5" rx="2.6" ry="4.2" fill="#000" opacity="0.85" filter="url(#bl1)" transform="rotate(-15 309.5 122.5)"/>
<path d="M313.1 122.1h0M310.4 120.3h0M305.2 113.2h0M307.4 113.9h0M310.0 120.7h0M310.8 119.2h0M307.2 115.8h0M301.0 111.2h0M311.8 120.6h0M313.0 120.9h0M305.0 114.7h0M310.0 115.2h0M303.3 116.2h0M306.9 111.0h0M301.8 108.4h0M307.4 113.8h0M307.1 119.3h0M311.1 125.4h0M306.0 122.0h0M316.5 114.0h0M310.1 125.3h0M310.1 114.8h0M311.1 117.8h0M308.5 119.9h0M310.0 118.5h0M308.1 122.9h0M307.3 122.0h0M301.2 114.0h0M308.1 121.5h0M299.4 120.8h0M310.1 119.8h0M307.3 121.0h0M306.2 120.8h0M304.9 112.6h0M308.3 118.8h0M304.9 116.8h0M306.9 112.5h0M310.3 129.2h0M310.4 128.6h0M309.5 123.6h0M310.1 119.6h0M311.1 119.4h0M304.9 108.7h0M309.1 113.9h0M304.0 120.7h0M309.0 120.5h0M309.9 118.1h0M302.9 114.0h0M305.9 118.9h0M311.0 129.4h0M305.0 117.9h0M313.7 111.3h0M308.7 115.0h0M311.4 121.8h0M306.2 119.6h0M306.0 111.3h0M308.2 106.1h0M309.1 117.1h0M306.9 119.2h0M308.9 115.6h0M312.5 114.0h0M311.3 120.5h0M307.8 114.1h0M308.6 117.3h0M312.8 121.5h0M309.3 115.4h0M308.8 119.1h0M311.0 119.3h0M307.2 133.2h0M305.3 117.6h0M305.4 115.4h0M308.1 110.0h0M309.2 118.4h0M301.5 108.2h0M308.5 115.3h0M306.9 111.6h0M306.9 116.2h0M311.9 122.1h0M308.4 116.1h0M309.9 116.3h0M308.5 115.4h0M309.6 112.8h0M311.5 116.9h0M307.0 111.2h0M310.9 124.8h0M310.3 119.6h0M305.8 116.6h0M306.3 116.0h0M308.6 113.2h0M300.3 111.9h0M311.3 123.4h0M301.2 122.7h0M306.2 117.8h0M308.0 111.9h0M308.9 121.5h0M306.5 117.2h0M306.1 118.1h0M308.3 107.2h0M308.8 119.5h0M313.2 117.9h0M308.3 122.7h0M310.6 121.4h0M305.3 111.6h0M311.4 125.9h0M305.0 112.8h0M302.4 114.9h0M306.3 117.5h0M312.4 110.9h0M308.1 120.5h0M305.6 117.9h0M307.2 112.6h0M305.6 111.1h0M307.7 117.7h0M308.3 103.2h0M314.0 124.5h0M312.0 124.0h0M309.0 111.3h0M311.3 120.0h0M308.3 120.1h0M308.1 116.9h0M301.7 114.4h0M308.6 115.6h0M310.3 121.5h0M307.7 118.0h0M302.8 109.3h0M313.7 121.2h0M310.1 114.5h0M307.1 114.5h0M302.7 116.1h0M308.5 124.7h0M306.8 119.0h0M307.0 113.9h0M305.1 119.2h0M311.2 131.5h0M307.4 113.0h0M303.9 119.7h0M312.4 119.0h0M305.1 119.3h0M311.7 124.5h0M309.2 127.4h0" stroke="#000" stroke-width="0.6" stroke-linecap="round" opacity="0.32" fill="none"/>
<path d="M304.5 117.9h0M306.1 128.5h0M308.2 118.8h0M310.0 112.6h0M308.6 113.8h0M304.9 112.2h0M310.5 127.5h0M305.8 107.5h0M307.1 120.6h0M309.3 111.2h0M302.9 115.7h0M307.7 124.3h0M306.5 118.0h0M306.2 113.6h0M311.2 108.2h0M307.2 117.6h0M311.5 119.6h0M307.1 112.5h0M308.8 116.6h0M308.4 115.8h0M305.8 113.8h0M305.0 114.1h0M310.2 110.3h0M306.9 109.9h0M309.4 118.2h0M307.8 122.4h0M311.3 124.2h0M303.9 115.2h0M305.0 103.7h0M306.4 104.9h0M303.4 115.7h0M304.4 112.5h0M308.3 121.7h0M307.5 113.2h0M309.3 118.0h0M314.9 122.1h0M306.6 125.1h0M305.5 113.9h0M309.8 115.9h0M307.1 118.2h0M304.0 118.2h0M314.5 120.6h0M308.5 116.3h0M310.3 120.4h0M306.9 111.9h0M307.0 121.8h0M309.5 116.1h0M305.9 116.6h0M312.2 118.5h0M309.5 115.1h0M308.7 123.7h0M305.9 113.1h0M309.1 123.2h0M305.6 110.2h0M309.6 118.5h0M309.7 120.4h0M308.1 127.8h0M309.2 120.8h0M305.4 111.6h0M307.6 109.9h0M304.4 113.4h0M310.9 119.7h0M307.4 123.4h0M306.2 107.0h0M307.6 122.5h0M309.3 120.1h0M302.3 118.3h0M309.8 107.5h0M309.6 117.6h0M309.2 111.8h0M306.6 120.2h0M306.2 116.7h0M309.1 112.0h0M309.2 124.3h0M308.2 114.2h0M305.9 116.5h0M305.6 118.8h0M309.6 120.6h0M307.9 113.8h0M309.4 117.7h0M307.2 117.9h0M309.9 115.0h0M304.7 125.5h0M309.3 112.3h0M308.9 120.9h0M308.4 112.9h0M304.4 115.9h0M307.3 114.4h0M308.8 117.5h0M304.9 112.1h0M301.8 106.6h0M310.5 115.2h0M313.2 118.9h0M310.2 122.6h0M306.4 116.1h0M311.8 124.1h0M303.6 105.4h0M306.1 113.0h0M308.0 109.1h0M311.0 129.0h0M309.9 115.5h0M304.0 109.0h0M306.5 119.6h0M305.2 112.6h0M308.7 117.6h0M313.5 122.3h0M308.8 114.7h0M306.3 109.6h0M304.9 114.4h0M305.3 118.0h0M306.4 122.5h0M303.4 106.8h0M305.9 116.8h0M311.7 120.4h0M308.6 114.8h0M307.7 111.7h0M310.3 121.6h0M306.4 112.0h0M308.8 113.2h0M310.3 123.3h0M307.7 124.0h0M314.5 116.9h0M301.7 115.3h0M310.1 118.5h0M309.0 105.4h0M309.6 123.8h0M309.4 128.6h0M310.5 124.4h0M304.7 117.4h0M306.0 116.7h0M302.5 110.9h0M309.7 120.4h0M308.1 115.7h0M309.3 123.4h0M303.9 115.3h0M309.7 124.8h0M305.8 119.3h0M312.8 125.6h0M309.1 127.3h0M305.5 140.8h0" stroke="#000" stroke-width="0.6" stroke-linecap="round" opacity="0.32" fill="none"/>
<path d="M311.0 114.5h0M307.6 114.4h0M309.5 117.3h0M311.4 119.9h0M306.5 111.5h0M308.4 114.6h0M309.6 112.7h0M310.4 121.3h0M311.2 124.0h0M306.8 110.6h0M313.5 121.8h0M306.4 115.0h0M306.5 123.0h0M310.5 120.6h0M311.8 117.4h0M306.6 113.1h0M304.8 119.8h0M306.4 117.7h0M309.2 121.1h0M309.2 114.0h0M307.0 113.4h0M313.9 116.7h0M311.5 121.0h0M306.4 114.0h0M307.3 116.3h0M309.0 114.2h0M309.1 108.4h0M308.3 113.9h0M305.9 112.4h0M306.5 101.0h0M303.9 114.6h0M307.1 121.7h0M309.7 121.4h0M308.6 110.3h0M305.2 117.9h0M310.9 117.1h0M310.5 122.9h0M313.7 139.0h0M307.2 108.3h0M311.3 129.6h0M303.9 122.9h0M305.9 112.7h0M308.9 120.0h0M311.8 130.6h0M311.7 124.8h0M307.3 117.4h0M307.2 110.6h0M308.3 120.0h0M306.3 110.9h0M312.1 130.4h0M311.2 118.4h0M308.8 115.5h0M307.7 113.0h0M311.4 116.3h0M309.9 116.4h0M308.8 122.8h0M303.2 109.4h0M315.1 131.2h0M303.7 118.3h0M303.6 113.1h0M307.5 115.9h0M309.8 124.7h0M306.0 120.0h0M309.0 114.4h0M309.4 119.7h0M309.0 115.9h0M310.5 110.6h0M310.2 116.8h0M311.9 131.1h0M309.8 123.4h0M309.6 119.5h0M309.7 118.7h0M305.5 94.2h0M307.3 107.6h0M309.4 127.0h0M314.8 119.8h0M313.0 105.8h0M312.2 121.0h0M304.8 111.2h0M306.9 118.5h0M304.3 112.3h0M313.9 120.4h0M305.0 117.7h0M306.7 111.0h0M304.6 117.6h0M303.3 117.4h0M310.6 123.3h0M305.3 115.3h0M303.8 108.0h0M307.0 109.6h0M309.4 122.0h0M306.4 118.3h0M306.7 112.6h0M309.1 115.8h0M310.1 115.6h0M307.8 113.0h0M307.8 112.2h0M305.2 120.4h0M310.5 112.1h0M308.2 118.0h0M308.3 120.5h0M312.1 122.5h0M310.5 125.4h0M313.1 117.8h0M308.9 114.1h0M307.1 114.8h0M301.4 106.6h0M309.2 123.0h0M311.7 122.5h0M311.7 114.9h0M307.4 114.2h0M311.6 118.4h0M309.6 120.3h0M307.7 113.2h0M309.6 119.7h0M308.1 115.2h0M303.6 116.0h0M309.5 117.8h0M304.3 118.2h0M309.0 121.1h0M307.1 114.7h0M311.2 118.2h0M306.4 109.1h0M308.9 118.9h0M308.0 116.9h0M309.3 114.1h0M302.6 108.7h0M304.1 117.7h0M311.5 118.1h0M308.3 122.3h0M309.0 125.9h0M304.7 121.4h0M304.3 117.7h0M307.8 119.8h0M304.4 113.4h0M311.8 121.3h0M309.6 111.9h0M303.8 114.7h0M311.3 116.5h0M309.2 119.5h0" stroke="#000" stroke-width="0.6" stroke-linecap="round" opacity="0.32" fill="none"/>
<text x="380.9" y="30.7" font-size="8.8" textLength="25.9" lengthAdjust="spacingAndGlyphs" stroke="#231f20" stroke-width="0.2">Spleen</text>
<text x="442.5" y="30.7" font-size="8.8" textLength="53.3" lengthAdjust="spacingAndGlyphs" stroke="#231f20" stroke-width="0.2">Bone Marrow</text>
<line x1="370.4" y1="39.4" x2="370.4" y2="113.5" stroke="#231f20" stroke-width="1.3"/>
<line x1="367.4" y1="113" x2="370.4" y2="113" stroke="#231f20" stroke-width="0.9"/>
<text x="364.1" y="115.23" font-size="6.2" text-anchor="end" stroke="#231f20" stroke-width="0.12">0</text>
<line x1="367.4" y1="98.82" x2="370.4" y2="98.82" stroke="#231f20" stroke-width="0.9"/>
<text x="364.1" y="101.05" font-size="6.2" text-anchor="end" stroke="#231f20" stroke-width="0.12">20</text>
<line x1="367.4" y1="84.64" x2="370.4" y2="84.64" stroke="#231f20" stroke-width="0.9"/>
<text x="364.1" y="86.87" font-size="6.2" text-anchor="end" stroke="#231f20" stroke-width="0.12">40</text>
<line x1="367.4" y1="70.46" x2="370.4" y2="70.46" stroke="#231f20" stroke-width="0.9"/>
<text x="364.1" y="72.69" font-size="6.2" text-anchor="end" stroke="#231f20" stroke-width="0.12">60</text>
<line x1="367.4" y1="56.28" x2="370.4" y2="56.28" stroke="#231f20" stroke-width="0.9"/>
<text x="364.1" y="58.51" font-size="6.2" text-anchor="end" stroke="#231f20" stroke-width="0.12">80</text>
<line x1="367.4" y1="42.1" x2="370.4" y2="42.1" stroke="#231f20" stroke-width="0.9"/>
<text x="364.1" y="44.33" font-size="6.2" text-anchor="end" stroke="#231f20" stroke-width="0.12">100</text>
<line x1="369.6" y1="113" x2="417.7" y2="113" stroke="#231f20" stroke-width="1.3"/>
<line x1="382.1" y1="113" x2="382.1" y2="116" stroke="#231f20" stroke-width="1"/>
<line x1="405.6" y1="113" x2="405.6" y2="116" stroke="#231f20" stroke-width="1"/>
<text x="382.1" y="125" font-size="6.5" text-anchor="middle" stroke="#231f20" stroke-width="0.12">Day 7</text>
<text x="405.6" y="125" font-size="6.5" text-anchor="middle" stroke="#231f20" stroke-width="0.12">Day 21</text>
<line x1="445.4" y1="39.4" x2="445.4" y2="113.5" stroke="#231f20" stroke-width="1.3"/>
<line x1="442.4" y1="113" x2="445.4" y2="113" stroke="#231f20" stroke-width="0.9"/>
<text x="439.1" y="115.23" font-size="6.2" text-anchor="end" stroke="#231f20" stroke-width="0.12">0</text>
<line x1="442.4" y1="98.82" x2="445.4" y2="98.82" stroke="#231f20" stroke-width="0.9"/>
<text x="439.1" y="101.05" font-size="6.2" text-anchor="end" stroke="#231f20" stroke-width="0.12">20</text>
<line x1="442.4" y1="84.64" x2="445.4" y2="84.64" stroke="#231f20" stroke-width="0.9"/>
<text x="439.1" y="86.87" font-size="6.2" text-anchor="end" stroke="#231f20" stroke-width="0.12">40</text>
<line x1="442.4" y1="70.46" x2="445.4" y2="70.46" stroke="#231f20" stroke-width="0.9"/>
<text x="439.1" y="72.69" font-size="6.2" text-anchor="end" stroke="#231f20" stroke-width="0.12">60</text>
<line x1="442.4" y1="56.28" x2="445.4" y2="56.28" stroke="#231f20" stroke-width="0.9"/>
<text x="439.1" y="58.51" font-size="6.2" text-anchor="end" stroke="#231f20" stroke-width="0.12">80</text>
<line x1="442.4" y1="42.1" x2="445.4" y2="42.1" stroke="#231f20" stroke-width="0.9"/>
<text x="439.1" y="44.33" font-size="6.2" text-anchor="end" stroke="#231f20" stroke-width="0.12">100</text>
<line x1="444.2" y1="113" x2="492.7" y2="113" stroke="#231f20" stroke-width="1.3"/>
<line x1="456.7" y1="113" x2="456.7" y2="116" stroke="#231f20" stroke-width="1"/>
<line x1="480.6" y1="113" x2="480.6" y2="116" stroke="#231f20" stroke-width="1"/>
<text x="456.7" y="125" font-size="6.5" text-anchor="middle" stroke="#231f20" stroke-width="0.12">Day 7</text>
<text x="480.6" y="125" font-size="6.5" text-anchor="middle" stroke="#231f20" stroke-width="0.12">Day 21</text>
<circle cx="375.2" cy="66.91" r="2.25" fill="white" stroke="#c3223f" stroke-width="0.95" fill-opacity="0"/>
<circle cx="378.7" cy="69.04" r="2.25" fill="white" stroke="#c3223f" stroke-width="0.95" fill-opacity="0"/>
<circle cx="374.5" cy="71.17" r="2.25" fill="white" stroke="#c3223f" stroke-width="0.95" fill-opacity="0"/>
<circle cx="379.3" cy="71.88" r="2.25" fill="white" stroke="#c3223f" stroke-width="0.95" fill-opacity="0"/>
<circle cx="376.9" cy="70.46" r="2.25" fill="white" stroke="#c3223f" stroke-width="0.95" fill-opacity="0"/>
<line x1="371.7" y1="69.75" x2="382.1" y2="69.75" stroke="#111" stroke-width="1.1"/>
<line x1="376.9" y1="68.76" x2="376.9" y2="70.74" stroke="#111" stroke-width="0.9"/>
<line x1="374.9" y1="68.76" x2="378.9" y2="68.76" stroke="#111" stroke-width="0.9"/>
<line x1="374.9" y1="70.74" x2="378.9" y2="70.74" stroke="#111" stroke-width="0.9"/>
<circle cx="386.9" cy="54.86" r="2.25" fill="white" stroke="#3c5f9f" stroke-width="0.95" fill-opacity="0"/>
<circle cx="384.5" cy="59.12" r="2.25" fill="white" stroke="#3c5f9f" stroke-width="0.95" fill-opacity="0"/>
<circle cx="386.9" cy="59.83" r="2.25" fill="white" stroke="#3c5f9f" stroke-width="0.95" fill-opacity="0"/>
<circle cx="389.3" cy="60.53" r="2.25" fill="white" stroke="#3c5f9f" stroke-width="0.95" fill-opacity="0"/>
<circle cx="387.5" cy="59.83" r="2.25" fill="white" stroke="#3c5f9f" stroke-width="0.95" fill-opacity="0"/>
<line x1="381.7" y1="59.83" x2="392.1" y2="59.83" stroke="#111" stroke-width="1.1"/>
<line x1="386.9" y1="59.12" x2="386.9" y2="60.53" stroke="#111" stroke-width="0.9"/>
<line x1="384.9" y1="59.12" x2="388.9" y2="59.12" stroke="#111" stroke-width="0.9"/>
<line x1="384.9" y1="60.53" x2="388.9" y2="60.53" stroke="#111" stroke-width="0.9"/>
<circle cx="400.4" cy="53.44" r="2.25" fill="white" stroke="#c3223f" stroke-width="0.95" fill-opacity="0"/>
<circle cx="402.4" cy="63.37" r="2.25" fill="white" stroke="#c3223f" stroke-width="0.95" fill-opacity="0"/>
<circle cx="398.4" cy="64.79" r="2.25" fill="white" stroke="#c3223f" stroke-width="0.95" fill-opacity="0"/>
<circle cx="400.9" cy="66.91" r="2.25" fill="white" stroke="#c3223f" stroke-width="0.95" fill-opacity="0"/>
<circle cx="400.4" cy="75.42" r="2.25" fill="white" stroke="#c3223f" stroke-width="0.95" fill-opacity="0"/>
<line x1="395.2" y1="64.79" x2="405.6" y2="64.79" stroke="#111" stroke-width="1.1"/>
<line x1="400.4" y1="61.24" x2="400.4" y2="68.33" stroke="#111" stroke-width="0.9"/>
<line x1="398.4" y1="61.24" x2="402.4" y2="61.24" stroke="#111" stroke-width="0.9"/>
<line x1="398.4" y1="68.33" x2="402.4" y2="68.33" stroke="#111" stroke-width="0.9"/>
<circle cx="411.1" cy="45.65" r="2.25" fill="white" stroke="#3c5f9f" stroke-width="0.95" fill-opacity="0"/>
<circle cx="408.6" cy="48.48" r="2.25" fill="white" stroke="#3c5f9f" stroke-width="0.95" fill-opacity="0"/>
<circle cx="413.6" cy="49.19" r="2.25" fill="white" stroke="#3c5f9f" stroke-width="0.95" fill-opacity="0"/>
<circle cx="410.6" cy="49.9" r="2.25" fill="white" stroke="#3c5f9f" stroke-width="0.95" fill-opacity="0"/>
<circle cx="412.9" cy="47.77" r="2.25" fill="white" stroke="#3c5f9f" stroke-width="0.95" fill-opacity="0"/>
<line x1="405.9" y1="48.48" x2="416.3" y2="48.48" stroke="#111" stroke-width="1.1"/>
<line x1="411.1" y1="47.63" x2="411.1" y2="49.33" stroke="#111" stroke-width="0.9"/>
<line x1="409.1" y1="47.63" x2="413.1" y2="47.63" stroke="#111" stroke-width="0.9"/>
<line x1="409.1" y1="49.33" x2="413.1" y2="49.33" stroke="#111" stroke-width="0.9"/>
<line x1="376.5" y1="50.3" x2="386.9" y2="50.3" stroke="#3a3a3a" stroke-width="1.2"/>
<ellipse cx="380.3" cy="46.7" rx="0.95" ry="0.85" fill="#1a1a1a"/>
<ellipse cx="383.1" cy="46.7" rx="0.95" ry="0.85" fill="#1a1a1a"/>
<line x1="400.4" y1="40.8" x2="410.8" y2="40.8" stroke="#3a3a3a" stroke-width="1.2"/>
<ellipse cx="404.2" cy="37.2" rx="0.95" ry="0.85" fill="#1a1a1a"/>
<ellipse cx="407" cy="37.2" rx="0.95" ry="0.85" fill="#1a1a1a"/>
<circle cx="452" cy="62.66" r="2.25" fill="white" stroke="#c3223f" stroke-width="0.95" fill-opacity="0"/>
<circle cx="454.4" cy="66.21" r="2.25" fill="white" stroke="#c3223f" stroke-width="0.95" fill-opacity="0"/>
<circle cx="449.6" cy="68.33" r="2.25" fill="white" stroke="#c3223f" stroke-width="0.95" fill-opacity="0"/>
<circle cx="453.2" cy="70.46" r="2.25" fill="white" stroke="#c3223f" stroke-width="0.95" fill-opacity="0"/>
<circle cx="450.8" cy="71.88" r="2.25" fill="white" stroke="#c3223f" stroke-width="0.95" fill-opacity="0"/>
<line x1="446.8" y1="68.33" x2="457.2" y2="68.33" stroke="#111" stroke-width="1.1"/>
<line x1="452" y1="66.77" x2="452" y2="69.89" stroke="#111" stroke-width="0.9"/>
<line x1="450" y1="66.77" x2="454" y2="66.77" stroke="#111" stroke-width="0.9"/>
<line x1="450" y1="69.89" x2="454" y2="69.89" stroke="#111" stroke-width="0.9"/>
<circle cx="460" cy="49.19" r="2.25" fill="white" stroke="#3c5f9f" stroke-width="0.95" fill-opacity="0"/>
<circle cx="464.8" cy="50.61" r="2.25" fill="white" stroke="#3c5f9f" stroke-width="0.95" fill-opacity="0"/>
<circle cx="462.4" cy="51.32" r="2.25" fill="white" stroke="#3c5f9f" stroke-width="0.95" fill-opacity="0"/>
<circle cx="465.9" cy="52.03" r="2.25" fill="white" stroke="#3c5f9f" stroke-width="0.95" fill-opacity="0"/>
<circle cx="459.4" cy="52.74" r="2.25" fill="white" stroke="#3c5f9f" stroke-width="0.95" fill-opacity="0"/>
<line x1="457.2" y1="50.96" x2="467.6" y2="50.96" stroke="#111" stroke-width="1.1"/>
<line x1="462.4" y1="50.25" x2="462.4" y2="51.67" stroke="#111" stroke-width="0.9"/>
<line x1="460.4" y1="50.25" x2="464.4" y2="50.25" stroke="#111" stroke-width="0.9"/>
<line x1="460.4" y1="51.67" x2="464.4" y2="51.67" stroke="#111" stroke-width="0.9"/>
<circle cx="475.4" cy="71.88" r="2.25" fill="white" stroke="#c3223f" stroke-width="0.95" fill-opacity="0"/>
<circle cx="477.8" cy="80.39" r="2.25" fill="white" stroke="#c3223f" stroke-width="0.95" fill-opacity="0"/>
<circle cx="473" cy="83.93" r="2.25" fill="white" stroke="#c3223f" stroke-width="0.95" fill-opacity="0"/>
<circle cx="475.4" cy="91.73" r="2.25" fill="white" stroke="#c3223f" stroke-width="0.95" fill-opacity="0"/>
<circle cx="475.4" cy="98.82" r="2.25" fill="white" stroke="#c3223f" stroke-width="0.95" fill-opacity="0"/>
<line x1="470.2" y1="85.35" x2="480.6" y2="85.35" stroke="#111" stroke-width="1.1"/>
<line x1="475.4" y1="80.74" x2="475.4" y2="89.96" stroke="#111" stroke-width="0.9"/>
<line x1="473.4" y1="80.74" x2="477.4" y2="80.74" stroke="#111" stroke-width="0.9"/>
<line x1="473.4" y1="89.96" x2="477.4" y2="89.96" stroke="#111" stroke-width="0.9"/>
<circle cx="485.8" cy="50.61" r="2.25" fill="white" stroke="#3c5f9f" stroke-width="0.95" fill-opacity="0"/>
<circle cx="488.2" cy="59.12" r="2.25" fill="white" stroke="#3c5f9f" stroke-width="0.95" fill-opacity="0"/>
<circle cx="483.4" cy="61.24" r="2.25" fill="white" stroke="#3c5f9f" stroke-width="0.95" fill-opacity="0"/>
<circle cx="486.3" cy="63.37" r="2.25" fill="white" stroke="#3c5f9f" stroke-width="0.95" fill-opacity="0"/>
<circle cx="485.8" cy="70.46" r="2.25" fill="white" stroke="#3c5f9f" stroke-width="0.95" fill-opacity="0"/>
<line x1="480.6" y1="61.24" x2="491" y2="61.24" stroke="#111" stroke-width="1.1"/>
<line x1="485.8" y1="58.05" x2="485.8" y2="64.43" stroke="#111" stroke-width="0.9"/>
<line x1="483.8" y1="58.05" x2="487.8" y2="58.05" stroke="#111" stroke-width="0.9"/>
<line x1="483.8" y1="64.43" x2="487.8" y2="64.43" stroke="#111" stroke-width="0.9"/>
<line x1="452" y1="41.3" x2="462" y2="41.3" stroke="#3a3a3a" stroke-width="1.2"/>
<ellipse cx="455.6" cy="37.7" rx="0.95" ry="0.85" fill="#1a1a1a"/>
<ellipse cx="458.4" cy="37.7" rx="0.95" ry="0.85" fill="#1a1a1a"/>
<line x1="475.4" y1="43.9" x2="485.8" y2="43.9" stroke="#3a3a3a" stroke-width="1.2"/>
<ellipse cx="479.2" cy="40.3" rx="0.95" ry="0.85" fill="#1a1a1a"/>
<ellipse cx="482" cy="40.3" rx="0.95" ry="0.85" fill="#1a1a1a"/>
<circle cx="366.2" cy="135" r="2.3" fill="none" stroke="#c3223f" stroke-width="1"/>
<text x="371.7" y="137.3" font-size="6.4" textLength="31.1" lengthAdjust="spacingAndGlyphs" stroke="#231f20" stroke-width="0.12">WT CAR-T</text>
<circle cx="366.2" cy="143.7" r="2.3" fill="none" stroke="#3c5f9f" stroke-width="1"/>
<text x="371.7" y="146" font-size="6.4" textLength="30.2" lengthAdjust="spacingAndGlyphs" stroke="#231f20" stroke-width="0.12">KO CAR-T</text>
<text x="180.8" y="177.8" font-size="8.8" textLength="24.8" lengthAdjust="spacingAndGlyphs" stroke="#231f20" stroke-width="0.2">Gated</text>
<text x="209" y="177.8" font-size="8.8" textLength="23" lengthAdjust="spacingAndGlyphs" stroke="#231f20" stroke-width="0.2">TCF-1</text>
<line x1="232.9" y1="172.8" x2="236.1" y2="172.8" stroke="#231f20" stroke-width="0.6"/>
<line x1="234.5" y1="171.2" x2="234.5" y2="174.4" stroke="#231f20" stroke-width="0.6"/>
<text x="148.8" y="188.8" font-size="8.8" textLength="27" lengthAdjust="spacingAndGlyphs" stroke="#231f20" stroke-width="0.2">Spleen</text>
<text x="234.6" y="188.8" font-size="8.8" textLength="53.4" lengthAdjust="spacingAndGlyphs" stroke="#231f20" stroke-width="0.2">Bone marrow</text>
<text x="124.2" y="201.8" font-size="8.8" textLength="22.4" lengthAdjust="spacingAndGlyphs" stroke="#231f20" stroke-width="0.2">Day 7</text>
<text x="168.5" y="201.8" font-size="8.8" textLength="27.6" lengthAdjust="spacingAndGlyphs" stroke="#231f20" stroke-width="0.2">Day 21</text>
<text x="222.1" y="201.9" font-size="8.8" textLength="23.1" lengthAdjust="spacingAndGlyphs" stroke="#231f20" stroke-width="0.2">Day 7</text>
<text x="267.7" y="201.9" font-size="8.8" textLength="26.9" lengthAdjust="spacingAndGlyphs" stroke="#231f20" stroke-width="0.2">Day 21</text>
<rect x="113.5" y="205.2" width="43.8" height="43.4" fill="none" stroke="#777" stroke-width="0.8"/>
<line x1="113.5" y1="212.43" x2="114.3" y2="212.43" stroke="#777" stroke-width="0.5"/>
<line x1="113.5" y1="219.67" x2="114.3" y2="219.67" stroke="#777" stroke-width="0.5"/>
<line x1="113.5" y1="226.9" x2="114.3" y2="226.9" stroke="#777" stroke-width="0.5"/>
<line x1="113.5" y1="234.13" x2="114.3" y2="234.13" stroke="#777" stroke-width="0.5"/>
<line x1="113.5" y1="241.37" x2="114.3" y2="241.37" stroke="#777" stroke-width="0.5"/>
<line x1="114.5" y1="248.6" x2="117.5" y2="248.6" stroke="#333" stroke-width="0.9"/>
<rect x="159.9" y="205.2" width="43.9" height="43.4" fill="none" stroke="#777" stroke-width="0.8"/>
<line x1="159.9" y1="212.43" x2="160.7" y2="212.43" stroke="#777" stroke-width="0.5"/>
<line x1="159.9" y1="219.67" x2="160.7" y2="219.67" stroke="#777" stroke-width="0.5"/>
<line x1="159.9" y1="226.9" x2="160.7" y2="226.9" stroke="#777" stroke-width="0.5"/>
<line x1="159.9" y1="234.13" x2="160.7" y2="234.13" stroke="#777" stroke-width="0.5"/>
<line x1="159.9" y1="241.37" x2="160.7" y2="241.37" stroke="#777" stroke-width="0.5"/>
<line x1="160.9" y1="248.6" x2="163.9" y2="248.6" stroke="#333" stroke-width="0.9"/>
<rect x="211.2" y="205.8" width="44.2" height="43.6" fill="none" stroke="#777" stroke-width="0.8"/>
<line x1="211.2" y1="213.07" x2="212" y2="213.07" stroke="#777" stroke-width="0.5"/>
<line x1="211.2" y1="220.33" x2="212" y2="220.33" stroke="#777" stroke-width="0.5"/>
<line x1="211.2" y1="227.6" x2="212" y2="227.6" stroke="#777" stroke-width="0.5"/>
<line x1="211.2" y1="234.87" x2="212" y2="234.87" stroke="#777" stroke-width="0.5"/>
<line x1="211.2" y1="242.13" x2="212" y2="242.13" stroke="#777" stroke-width="0.5"/>
<line x1="212.2" y1="249.4" x2="215.2" y2="249.4" stroke="#333" stroke-width="0.9"/>
<rect x="259.5" y="205.6" width="44" height="43.8" fill="none" stroke="#777" stroke-width="0.8"/>
<line x1="259.5" y1="212.9" x2="260.3" y2="212.9" stroke="#777" stroke-width="0.5"/>
<line x1="259.5" y1="220.2" x2="260.3" y2="220.2" stroke="#777" stroke-width="0.5"/>
<line x1="259.5" y1="227.5" x2="260.3" y2="227.5" stroke="#777" stroke-width="0.5"/>
<line x1="259.5" y1="234.8" x2="260.3" y2="234.8" stroke="#777" stroke-width="0.5"/>
<line x1="259.5" y1="242.1" x2="260.3" y2="242.1" stroke="#777" stroke-width="0.5"/>
<line x1="260.5" y1="249.4" x2="263.5" y2="249.4" stroke="#333" stroke-width="0.9"/>
<path d="M114 248.3 L114.36 248.3 L114.72 248.3 L115.08 248.3 L115.43 248.3 L115.79 248.3 L116.15 248.3 L116.51 248.3 L116.87 248.3 L117.22 248.3 L117.58 248.3 L117.94 248.3 L118.3 248.3 L118.66 248.3 L119.02 248.3 L119.38 248.3 L119.73 248.3 L120.09 248.3 L120.45 248.3 L120.81 248.3 L121.17 248.3 L121.53 248.3 L121.88 248.3 L122.24 248.3 L122.6 248.3 L122.96 248.3 L123.32 248.3 L123.67 248.3 L124.03 248.3 L124.39 248.3 L124.75 248.3 L125.11 248.3 L125.47 248.3 L125.83 248.3 L126.18 248.3 L126.54 248.3 L126.9 248.3 L127.26 248.3 L127.62 248.3 L127.97 248.3 L128.33 248.3 L128.69 248.3 L129.05 248.28 L129.41 248.26 L129.77 248.18 L130.12 248.02 L130.48 247.65 L130.84 246.93 L131.2 245.61 L131.56 243.41 L131.92 240.06 L132.28 235.43 L132.63 229.66 L132.99 223.28 L133.35 217.18 L133.71 212.41 L134.07 209.94 L134.43 210.28 L134.78 213.36 L135.14 218.51 L135.5 224.71 L135.86 230.91 L136.22 236.31 L136.57 240.49 L136.93 243.37 L137.29 245.12 L137.65 246.04 L138.01 246.4 L138.37 246.4 L138.72 246.22 L139.08 245.92 L139.44 245.57 L139.8 245.18 L140.16 244.79 L140.52 244.4 L140.88 244.02 L141.23 243.68 L141.59 243.37 L141.95 243.13 L142.31 242.94 L142.67 242.83 L143.03 242.8 L143.38 242.84 L143.74 242.97 L144.1 243.16 L144.46 243.41 L144.82 243.72 L145.18 244.07 L145.53 244.45 L145.89 244.84 L146.25 245.24 L146.61 245.63 L146.97 246.01 L147.32 246.35 L147.68 246.67 L148.04 246.96 L148.4 247.21 L148.76 247.43 L149.12 247.61 L149.47 247.76 L149.83 247.89 L150.19 247.99 L150.55 248.07 L150.91 248.13 L151.27 248.18 L151.62 248.21 L151.98 248.24 L152.34 248.26 L152.7 248.27 L153.06 248.28 L153.42 248.29 L153.78 248.29 L154.13 248.29 L154.49 248.3 L154.85 248.3 L155.21 248.3 L155.57 248.3 L155.93 248.3 L156.28 248.3 L156.64 248.3 L157 248.3 L157 248.3 L114 248.3 Z" fill="#c4c4c6" stroke="#444" stroke-width="0.65" opacity="1"/>
<path d="M114 248.3 L114.36 248.3 L114.72 248.3 L115.08 248.3 L115.43 248.3 L115.79 248.3 L116.15 248.3 L116.51 248.3 L116.87 248.3 L117.22 248.3 L117.58 248.3 L117.94 248.3 L118.3 248.3 L118.66 248.3 L119.02 248.3 L119.38 248.3 L119.73 248.3 L120.09 248.3 L120.45 248.3 L120.81 248.3 L121.17 248.3 L121.53 248.3 L121.88 248.3 L122.24 248.3 L122.6 248.3 L122.96 248.3 L123.32 248.3 L123.67 248.3 L124.03 248.3 L124.39 248.3 L124.75 248.3 L125.11 248.3 L125.47 248.3 L125.83 248.3 L126.18 248.3 L126.54 248.3 L126.9 248.3 L127.26 248.3 L127.62 248.3 L127.97 248.3 L128.33 248.3 L128.69 248.3 L129.05 248.3 L129.41 248.3 L129.77 248.3 L130.12 248.3 L130.48 248.3 L130.84 248.3 L131.2 248.3 L131.56 248.3 L131.92 248.29 L132.28 248.29 L132.63 248.28 L132.99 248.27 L133.35 248.25 L133.71 248.21 L134.07 248.16 L134.43 248.08 L134.78 247.96 L135.14 247.78 L135.5 247.53 L135.86 247.18 L136.22 246.7 L136.57 246.05 L136.93 245.2 L137.29 244.11 L137.65 242.75 L138.01 241.07 L138.37 239.07 L138.72 236.73 L139.08 234.08 L139.44 231.15 L139.8 228 L140.16 224.73 L140.52 221.44 L140.88 218.27 L141.23 215.36 L141.59 212.84 L141.95 210.86 L142.31 209.5 L142.67 208.85 L143.03 208.95 L143.38 209.78 L143.74 211.31 L144.1 213.44 L144.46 216.07 L144.82 219.06 L145.18 222.27 L145.53 225.57 L145.89 228.82 L146.25 231.92 L146.61 234.79 L146.97 237.36 L147.32 239.61 L147.68 241.53 L148.04 243.12 L148.4 244.42 L148.76 245.44 L149.12 246.24 L149.47 246.84 L149.83 247.28 L150.19 247.61 L150.55 247.84 L150.91 247.99 L151.27 248.1 L151.62 248.18 L151.98 248.22 L152.34 248.25 L152.7 248.27 L153.06 248.28 L153.42 248.29 L153.78 248.29 L154.13 248.3 L154.49 248.3 L154.85 248.3 L155.21 248.3 L155.57 248.3 L155.93 248.3 L156.28 248.3 L156.64 248.3 L157 248.3" fill="none" stroke="#c8284a" stroke-width="1.1" opacity="1"/>
<path d="M114 248.3 L114.36 248.3 L114.72 248.3 L115.08 248.3 L115.43 248.3 L115.79 248.3 L116.15 248.3 L116.51 248.3 L116.87 248.3 L117.22 248.3 L117.58 248.3 L117.94 248.3 L118.3 248.3 L118.66 248.3 L119.02 248.3 L119.38 248.3 L119.73 248.3 L120.09 248.3 L120.45 248.3 L120.81 248.3 L121.17 248.3 L121.53 248.3 L121.88 248.3 L122.24 248.3 L122.6 248.3 L122.96 248.3 L123.32 248.3 L123.67 248.3 L124.03 248.3 L124.39 248.3 L124.75 248.3 L125.11 248.3 L125.47 248.3 L125.83 248.3 L126.18 248.3 L126.54 248.3 L126.9 248.3 L127.26 248.3 L127.62 248.3 L127.97 248.3 L128.33 248.3 L128.69 248.3 L129.05 248.3 L129.41 248.3 L129.77 248.3 L130.12 248.3 L130.48 248.3 L130.84 248.3 L131.2 248.3 L131.56 248.3 L131.92 248.3 L132.28 248.3 L132.63 248.3 L132.99 248.29 L133.35 248.29 L133.71 248.28 L134.07 248.27 L134.43 248.25 L134.78 248.22 L135.14 248.17 L135.5 248.1 L135.86 247.99 L136.22 247.84 L136.57 247.62 L136.93 247.32 L137.29 246.91 L137.65 246.35 L138.01 245.62 L138.37 244.68 L138.72 243.5 L139.08 242.04 L139.44 240.28 L139.8 238.2 L140.16 235.81 L140.52 233.13 L140.88 230.19 L141.23 227.05 L141.59 223.81 L141.95 220.57 L142.31 217.45 L142.67 214.57 L143.03 212.07 L143.38 210.07 L143.74 208.66 L144.1 207.91 L144.46 207.87 L144.82 208.53 L145.18 209.87 L145.53 211.81 L145.89 214.26 L146.25 217.1 L146.61 220.2 L146.97 223.43 L147.32 226.68 L147.68 229.83 L148.04 232.8 L148.4 235.51 L148.76 237.94 L149.12 240.05 L149.47 241.85 L149.83 243.34 L150.19 244.55 L150.55 245.52 L150.91 246.27 L151.27 246.85 L151.62 247.28 L151.98 247.59 L152.34 247.82 L152.7 247.98 L153.06 248.09 L153.42 248.16 L153.78 248.21 L154.13 248.25 L154.49 248.27 L154.85 248.28 L155.21 248.29 L155.57 248.29 L155.93 248.3 L156.28 248.3 L156.64 248.3 L157 248.3" fill="none" stroke="#4a6fb0" stroke-width="1.1" opacity="1"/>
<path d="M160.2 248.3 L160.56 248.3 L160.92 248.3 L161.28 248.3 L161.64 248.3 L162 248.3 L162.36 248.3 L162.73 248.3 L163.09 248.3 L163.45 248.3 L163.81 248.3 L164.17 248.3 L164.53 248.3 L164.89 248.3 L165.25 248.3 L165.61 248.3 L165.97 248.3 L166.33 248.3 L166.69 248.3 L167.06 248.3 L167.42 248.3 L167.78 248.3 L168.14 248.3 L168.5 248.3 L168.86 248.3 L169.22 248.3 L169.58 248.3 L169.94 248.3 L170.3 248.3 L170.66 248.3 L171.03 248.3 L171.39 248.3 L171.75 248.3 L172.11 248.3 L172.47 248.29 L172.83 248.27 L173.19 248.21 L173.55 248.08 L173.91 247.78 L174.27 247.17 L174.63 246.04 L174.99 244.12 L175.35 241.13 L175.72 236.91 L176.08 231.56 L176.44 225.52 L176.8 219.6 L177.16 214.82 L177.52 212.14 L177.88 212.13 L178.24 214.8 L178.6 219.56 L178.96 225.44 L179.32 231.43 L179.69 236.71 L180.05 240.82 L180.41 243.67 L180.77 245.42 L181.13 246.32 L181.49 246.66 L181.85 246.64 L182.21 246.42 L182.57 246.09 L182.93 245.72 L183.29 245.34 L183.65 244.98 L184.01 244.68 L184.38 244.46 L184.74 244.33 L185.1 244.3 L185.46 244.39 L185.82 244.57 L186.18 244.84 L186.54 245.17 L186.9 245.55 L187.26 245.94 L187.62 246.34 L187.98 246.71 L188.34 247.04 L188.71 247.33 L189.07 247.58 L189.43 247.77 L189.79 247.93 L190.15 248.04 L190.51 248.13 L190.87 248.19 L191.23 248.23 L191.59 248.26 L191.95 248.27 L192.31 248.28 L192.68 248.29 L193.04 248.29 L193.4 248.3 L193.76 248.3 L194.12 248.3 L194.48 248.3 L194.84 248.3 L195.2 248.3 L195.56 248.3 L195.92 248.3 L196.28 248.3 L196.64 248.3 L197 248.3 L197.37 248.3 L197.73 248.3 L198.09 248.3 L198.45 248.3 L198.81 248.3 L199.17 248.3 L199.53 248.3 L199.89 248.3 L200.25 248.3 L200.61 248.3 L200.97 248.3 L201.34 248.3 L201.7 248.3 L202.06 248.3 L202.42 248.3 L202.78 248.3 L203.14 248.3 L203.5 248.3 L203.5 248.3 L160.2 248.3 Z" fill="#c4c4c6" stroke="#444" stroke-width="0.65" opacity="1"/>
<path d="M160.2 248.3 L160.56 248.3 L160.92 248.3 L161.28 248.3 L161.64 248.3 L162 248.3 L162.36 248.3 L162.73 248.3 L163.09 248.3 L163.45 248.3 L163.81 248.3 L164.17 248.3 L164.53 248.3 L164.89 248.3 L165.25 248.3 L165.61 248.3 L165.97 248.3 L166.33 248.3 L166.69 248.3 L167.06 248.3 L167.42 248.3 L167.78 248.3 L168.14 248.3 L168.5 248.3 L168.86 248.3 L169.22 248.3 L169.58 248.3 L169.94 248.3 L170.3 248.3 L170.66 248.3 L171.03 248.3 L171.39 248.3 L171.75 248.3 L172.11 248.3 L172.47 248.3 L172.83 248.3 L173.19 248.3 L173.55 248.3 L173.91 248.3 L174.27 248.3 L174.63 248.29 L174.99 248.28 L175.35 248.26 L175.72 248.23 L176.08 248.16 L176.44 248.05 L176.8 247.86 L177.16 247.56 L177.52 247.09 L177.88 246.38 L178.24 245.36 L178.6 243.93 L178.96 242.03 L179.32 239.58 L179.69 236.56 L180.05 233 L180.41 229 L180.77 224.73 L181.13 220.45 L181.49 216.43 L181.85 213.01 L182.21 210.48 L182.57 209.06 L182.93 208.89 L183.29 209.98 L183.65 212.24 L184.01 215.46 L184.38 219.34 L184.74 223.58 L185.1 227.88 L185.46 231.97 L185.82 235.66 L186.18 238.83 L186.54 241.43 L186.9 243.48 L187.26 245.02 L187.62 246.14 L187.98 246.93 L188.34 247.45 L188.71 247.8 L189.07 248.01 L189.43 248.14 L189.79 248.21 L190.15 248.25 L190.51 248.28 L190.87 248.29 L191.23 248.29 L191.59 248.3 L191.95 248.3 L192.31 248.3 L192.68 248.3 L193.04 248.3 L193.4 248.3 L193.76 248.3 L194.12 248.3 L194.48 248.3 L194.84 248.3 L195.2 248.3 L195.56 248.3 L195.92 248.3 L196.28 248.3 L196.64 248.3 L197 248.3 L197.37 248.3 L197.73 248.3 L198.09 248.3 L198.45 248.3 L198.81 248.3 L199.17 248.3 L199.53 248.3 L199.89 248.3 L200.25 248.3 L200.61 248.3 L200.97 248.3 L201.34 248.3 L201.7 248.3 L202.06 248.3 L202.42 248.3 L202.78 248.3 L203.14 248.3 L203.5 248.3" fill="none" stroke="#c8284a" stroke-width="1.1" opacity="1"/>
<path d="M160.2 248.3 L160.56 248.3 L160.92 248.3 L161.28 248.3 L161.64 248.3 L162 248.3 L162.36 248.3 L162.73 248.3 L163.09 248.3 L163.45 248.3 L163.81 248.3 L164.17 248.3 L164.53 248.3 L164.89 248.3 L165.25 248.3 L165.61 248.3 L165.97 248.3 L166.33 248.3 L166.69 248.3 L167.06 248.3 L167.42 248.3 L167.78 248.3 L168.14 248.3 L168.5 248.3 L168.86 248.3 L169.22 248.3 L169.58 248.3 L169.94 248.3 L170.3 248.3 L170.66 248.3 L171.03 248.3 L171.39 248.3 L171.75 248.3 L172.11 248.3 L172.47 248.3 L172.83 248.3 L173.19 248.3 L173.55 248.3 L173.91 248.3 L174.27 248.3 L174.63 248.3 L174.99 248.3 L175.35 248.29 L175.72 248.28 L176.08 248.27 L176.44 248.24 L176.8 248.19 L177.16 248.1 L177.52 247.95 L177.88 247.72 L178.24 247.36 L178.6 246.81 L178.96 246.02 L179.32 244.9 L179.69 243.39 L180.05 241.42 L180.41 238.93 L180.77 235.91 L181.13 232.4 L181.49 228.48 L181.85 224.32 L182.21 220.13 L182.57 216.16 L182.93 212.71 L183.29 210.03 L183.65 208.35 L184.01 207.8 L184.38 208.44 L184.74 210.22 L185.1 212.97 L185.46 216.48 L185.82 220.47 L186.18 224.67 L186.54 228.82 L186.9 232.71 L187.26 236.18 L187.62 239.16 L187.98 241.6 L188.34 243.54 L188.71 245.01 L189.07 246.09 L189.43 246.86 L189.79 247.39 L190.15 247.74 L190.51 247.97 L190.87 248.11 L191.23 248.19 L191.59 248.24 L191.95 248.27 L192.31 248.28 L192.68 248.29 L193.04 248.3 L193.4 248.3 L193.76 248.3 L194.12 248.3 L194.48 248.3 L194.84 248.3 L195.2 248.3 L195.56 248.3 L195.92 248.3 L196.28 248.3 L196.64 248.3 L197 248.3 L197.37 248.3 L197.73 248.3 L198.09 248.3 L198.45 248.3 L198.81 248.3 L199.17 248.3 L199.53 248.3 L199.89 248.3 L200.25 248.3 L200.61 248.3 L200.97 248.3 L201.34 248.3 L201.7 248.3 L202.06 248.3 L202.42 248.3 L202.78 248.3 L203.14 248.3 L203.5 248.3" fill="none" stroke="#4a6fb0" stroke-width="1.1" opacity="1"/>
<path d="M211.5 249.1 L211.86 249.1 L212.23 249.1 L212.59 249.1 L212.95 249.1 L213.32 249.1 L213.68 249.1 L214.04 249.1 L214.41 249.1 L214.77 249.1 L215.13 249.1 L215.5 249.1 L215.86 249.1 L216.22 249.1 L216.59 249.1 L216.95 249.1 L217.31 249.1 L217.68 249.1 L218.04 249.1 L218.4 249.1 L218.77 249.1 L219.13 249.1 L219.49 249.1 L219.86 249.1 L220.22 249.1 L220.58 249.09 L220.95 249.09 L221.31 249.09 L221.67 249.08 L222.04 249.08 L222.4 249.07 L222.76 249.06 L223.13 249.05 L223.49 249.04 L223.85 249.02 L224.22 248.99 L224.58 248.97 L224.94 248.93 L225.31 248.89 L225.67 248.84 L226.03 248.77 L226.4 248.69 L226.76 248.59 L227.12 248.45 L227.49 248.24 L227.85 247.91 L228.21 247.38 L228.58 246.55 L228.94 245.33 L229.3 243.65 L229.67 241.55 L230.03 239.18 L230.39 236.84 L230.76 234.9 L231.12 233.71 L231.48 233.48 L231.85 234.2 L232.21 235.68 L232.57 237.53 L232.94 239.39 L233.3 240.93 L233.66 241.99 L234.03 242.48 L234.39 242.44 L234.75 241.9 L235.12 240.92 L235.48 239.51 L235.84 237.71 L236.21 235.53 L236.57 233 L236.93 230.19 L237.3 227.21 L237.66 224.2 L238.02 221.34 L238.39 218.82 L238.75 216.82 L239.11 215.52 L239.48 215.01 L239.84 215.37 L240.2 216.56 L240.57 218.53 L240.93 221.11 L241.29 224.14 L241.66 227.43 L242.02 230.77 L242.38 234 L242.75 236.98 L243.11 239.63 L243.47 241.88 L243.84 243.74 L244.2 245.22 L244.56 246.36 L244.93 247.21 L245.29 247.83 L245.65 248.26 L246.02 248.55 L246.38 248.75 L246.74 248.88 L247.11 248.96 L247.47 249.02 L247.83 249.05 L248.2 249.07 L248.56 249.08 L248.92 249.09 L249.29 249.09 L249.65 249.09 L250.01 249.1 L250.38 249.1 L250.74 249.1 L251.1 249.1 L251.47 249.1 L251.83 249.1 L252.19 249.1 L252.56 249.1 L252.92 249.1 L253.28 249.1 L253.65 249.1 L254.01 249.1 L254.37 249.1 L254.74 249.1 L255.1 249.1 L255.1 249.1 L211.5 249.1 Z" fill="#c4c4c6" stroke="#444" stroke-width="0.65" opacity="1"/>
<path d="M211.5 249.1 L211.86 249.1 L212.23 249.1 L212.59 249.1 L212.95 249.1 L213.32 249.1 L213.68 249.1 L214.04 249.1 L214.41 249.1 L214.77 249.1 L215.13 249.1 L215.5 249.1 L215.86 249.1 L216.22 249.1 L216.59 249.1 L216.95 249.1 L217.31 249.1 L217.68 249.1 L218.04 249.1 L218.4 249.1 L218.77 249.1 L219.13 249.1 L219.49 249.1 L219.86 249.1 L220.22 249.1 L220.58 249.1 L220.95 249.1 L221.31 249.09 L221.67 249.09 L222.04 249.09 L222.4 249.09 L222.76 249.08 L223.13 249.08 L223.49 249.07 L223.85 249.06 L224.22 249.05 L224.58 249.03 L224.94 249.02 L225.31 248.99 L225.67 248.97 L226.03 248.94 L226.4 248.9 L226.76 248.86 L227.12 248.81 L227.49 248.76 L227.85 248.7 L228.21 248.63 L228.58 248.55 L228.94 248.47 L229.3 248.37 L229.67 248.28 L230.03 248.18 L230.39 248.07 L230.76 247.96 L231.12 247.84 L231.48 247.73 L231.85 247.61 L232.21 247.49 L232.57 247.36 L232.94 247.21 L233.3 247.04 L233.66 246.81 L234.03 246.52 L234.39 246.11 L234.75 245.54 L235.12 244.76 L235.48 243.71 L235.84 242.33 L236.21 240.55 L236.57 238.34 L236.93 235.69 L237.3 232.64 L237.66 229.24 L238.02 225.64 L238.39 222.01 L238.75 218.55 L239.11 215.5 L239.48 213.07 L239.84 211.45 L240.2 210.78 L240.57 211.12 L240.93 212.44 L241.29 214.65 L241.66 217.59 L242.02 221.05 L242.38 224.79 L242.75 228.59 L243.11 232.26 L243.47 235.64 L243.84 238.63 L244.2 241.17 L244.56 243.25 L244.93 244.9 L245.29 246.16 L245.65 247.1 L246.02 247.77 L246.38 248.24 L246.74 248.56 L247.11 248.77 L247.47 248.9 L247.83 248.98 L248.2 249.03 L248.56 249.06 L248.92 249.08 L249.29 249.09 L249.65 249.09 L250.01 249.1 L250.38 249.1 L250.74 249.1 L251.1 249.1 L251.47 249.1 L251.83 249.1 L252.19 249.1 L252.56 249.1 L252.92 249.1 L253.28 249.1 L253.65 249.1 L254.01 249.1 L254.37 249.1 L254.74 249.1 L255.1 249.1" fill="none" stroke="#c8284a" stroke-width="1.1" opacity="1"/>
<path d="M211.5 249.1 L211.86 249.1 L212.23 249.1 L212.59 249.1 L212.95 249.1 L213.32 249.1 L213.68 249.1 L214.04 249.1 L214.41 249.1 L214.77 249.1 L215.13 249.1 L215.5 249.1 L215.86 249.1 L216.22 249.1 L216.59 249.1 L216.95 249.1 L217.31 249.1 L217.68 249.1 L218.04 249.1 L218.4 249.1 L218.77 249.1 L219.13 249.1 L219.49 249.1 L219.86 249.1 L220.22 249.1 L220.58 249.1 L220.95 249.1 L221.31 249.1 L221.67 249.1 L222.04 249.1 L222.4 249.1 L222.76 249.1 L223.13 249.1 L223.49 249.1 L223.85 249.1 L224.22 249.1 L224.58 249.1 L224.94 249.1 L225.31 249.1 L225.67 249.1 L226.03 249.09 L226.4 249.09 L226.76 249.09 L227.12 249.08 L227.49 249.07 L227.85 249.06 L228.21 249.05 L228.58 249.02 L228.94 248.99 L229.3 248.95 L229.67 248.9 L230.03 248.83 L230.39 248.74 L230.76 248.63 L231.12 248.5 L231.48 248.34 L231.85 248.14 L232.21 247.91 L232.57 247.62 L232.94 247.29 L233.3 246.89 L233.66 246.42 L234.03 245.84 L234.39 245.15 L234.75 244.3 L235.12 243.28 L235.48 242.04 L235.84 240.55 L236.21 238.78 L236.57 236.72 L236.93 234.36 L237.3 231.74 L237.66 228.9 L238.02 225.94 L238.39 222.96 L238.75 220.09 L239.11 217.5 L239.48 215.33 L239.84 213.73 L240.2 212.81 L240.57 212.63 L240.93 213.23 L241.29 214.57 L241.66 216.59 L242.02 219.15 L242.38 222.12 L242.75 225.34 L243.11 228.63 L243.47 231.86 L243.84 234.91 L244.2 237.67 L244.56 240.11 L244.93 242.18 L245.29 243.9 L245.65 245.28 L246.02 246.35 L246.38 247.17 L246.74 247.78 L247.11 248.21 L247.47 248.52 L247.83 248.73 L248.2 248.87 L248.56 248.96 L248.92 249.01 L249.29 249.05 L249.65 249.07 L250.01 249.08 L250.38 249.09 L250.74 249.1 L251.1 249.1 L251.47 249.1 L251.83 249.1 L252.19 249.1 L252.56 249.1 L252.92 249.1 L253.28 249.1 L253.65 249.1 L254.01 249.1 L254.37 249.1 L254.74 249.1 L255.1 249.1" fill="none" stroke="#4a6fb0" stroke-width="1.1" opacity="1"/>
<path d="M259.8 249.08 L260.16 249.08 L260.52 249.08 L260.88 249.07 L261.25 249.06 L261.61 249.05 L261.97 249.04 L262.33 249.03 L262.69 249.01 L263.06 248.99 L263.42 248.97 L263.78 248.95 L264.14 248.92 L264.5 248.89 L264.86 248.85 L265.23 248.81 L265.59 248.76 L265.95 248.7 L266.31 248.64 L266.67 248.57 L267.03 248.5 L267.39 248.42 L267.76 248.33 L268.12 248.23 L268.48 248.13 L268.84 248.02 L269.2 247.91 L269.56 247.79 L269.93 247.67 L270.29 247.54 L270.65 247.41 L271.01 247.28 L271.37 247.14 L271.74 247.01 L272.1 246.89 L272.46 246.77 L272.82 246.65 L273.18 246.54 L273.54 246.44 L273.91 246.34 L274.27 246.23 L274.63 246.1 L274.99 245.89 L275.35 245.5 L275.71 244.79 L276.07 243.58 L276.44 241.69 L276.8 239.03 L277.16 235.74 L277.52 232.21 L277.88 229.03 L278.25 226.87 L278.61 226.15 L278.97 226.95 L279.33 228.87 L279.69 231.26 L280.05 233.4 L280.42 234.78 L280.78 235.14 L281.14 234.5 L281.5 233.07 L281.86 231.11 L282.22 228.9 L282.58 226.68 L282.95 224.66 L283.31 223.02 L283.67 221.88 L284.03 221.35 L284.39 221.46 L284.75 222.23 L285.12 223.59 L285.48 225.47 L285.84 227.73 L286.2 230.24 L286.56 232.85 L286.93 235.44 L287.29 237.89 L287.65 240.13 L288.01 242.09 L288.37 243.75 L288.73 245.11 L289.09 246.2 L289.46 247.04 L289.82 247.67 L290.18 248.13 L290.54 248.45 L290.9 248.68 L291.26 248.83 L291.63 248.93 L291.99 248.99 L292.35 249.04 L292.71 249.06 L293.07 249.08 L293.44 249.08 L293.8 249.09 L294.16 249.09 L294.52 249.1 L294.88 249.1 L295.24 249.1 L295.61 249.1 L295.97 249.1 L296.33 249.1 L296.69 249.1 L297.05 249.1 L297.41 249.1 L297.77 249.1 L298.14 249.1 L298.5 249.1 L298.86 249.1 L299.22 249.1 L299.58 249.1 L299.94 249.1 L300.31 249.1 L300.67 249.1 L301.03 249.1 L301.39 249.1 L301.75 249.1 L302.12 249.1 L302.48 249.1 L302.84 249.1 L303.2 249.1 L303.2 249.1 L259.8 249.1 Z" fill="#c4c4c6" stroke="#444" stroke-width="0.65" opacity="1"/>
<path d="M259.8 249.1 L260.16 249.1 L260.52 249.1 L260.88 249.1 L261.25 249.1 L261.61 249.1 L261.97 249.1 L262.33 249.1 L262.69 249.1 L263.06 249.1 L263.42 249.1 L263.78 249.1 L264.14 249.1 L264.5 249.1 L264.86 249.1 L265.23 249.1 L265.59 249.1 L265.95 249.1 L266.31 249.1 L266.67 249.1 L267.03 249.1 L267.39 249.1 L267.76 249.1 L268.12 249.1 L268.48 249.1 L268.84 249.09 L269.2 249.09 L269.56 249.09 L269.93 249.08 L270.29 249.07 L270.65 249.06 L271.01 249.04 L271.37 249.02 L271.74 248.99 L272.1 248.96 L272.46 248.91 L272.82 248.86 L273.18 248.79 L273.54 248.72 L273.91 248.63 L274.27 248.52 L274.63 248.4 L274.99 248.27 L275.35 248.13 L275.71 247.97 L276.07 247.8 L276.44 247.6 L276.8 247.38 L277.16 247.11 L277.52 246.77 L277.88 246.32 L278.25 245.73 L278.61 244.93 L278.97 243.85 L279.33 242.43 L279.69 240.61 L280.05 238.33 L280.42 235.6 L280.78 232.44 L281.14 228.94 L281.5 225.25 L281.86 221.56 L282.22 218.13 L282.58 215.2 L282.95 213.01 L283.31 211.74 L283.67 211.53 L284.03 212.38 L284.39 214.25 L284.75 216.98 L285.12 220.34 L285.48 224.1 L285.84 228 L286.2 231.81 L286.56 235.35 L286.93 238.48 L287.29 241.13 L287.65 243.3 L288.01 245 L288.37 246.29 L288.73 247.22 L289.09 247.89 L289.46 248.34 L289.82 248.64 L290.18 248.82 L290.54 248.94 L290.9 249.01 L291.26 249.05 L291.63 249.07 L291.99 249.09 L292.35 249.09 L292.71 249.1 L293.07 249.1 L293.44 249.1 L293.8 249.1 L294.16 249.1 L294.52 249.1 L294.88 249.1 L295.24 249.1 L295.61 249.1 L295.97 249.1 L296.33 249.1 L296.69 249.1 L297.05 249.1 L297.41 249.1 L297.77 249.1 L298.14 249.1 L298.5 249.1 L298.86 249.1 L299.22 249.1 L299.58 249.1 L299.94 249.1 L300.31 249.1 L300.67 249.1 L301.03 249.1 L301.39 249.1 L301.75 249.1 L302.12 249.1 L302.48 249.1 L302.84 249.1 L303.2 249.1" fill="none" stroke="#c8284a" stroke-width="1.1" opacity="1"/>
<path d="M259.8 249.1 L260.16 249.1 L260.52 249.1 L260.88 249.1 L261.25 249.1 L261.61 249.1 L261.97 249.1 L262.33 249.1 L262.69 249.1 L263.06 249.1 L263.42 249.1 L263.78 249.1 L264.14 249.1 L264.5 249.1 L264.86 249.1 L265.23 249.1 L265.59 249.1 L265.95 249.1 L266.31 249.1 L266.67 249.1 L267.03 249.1 L267.39 249.1 L267.76 249.1 L268.12 249.1 L268.48 249.1 L268.84 249.1 L269.2 249.1 L269.56 249.1 L269.93 249.1 L270.29 249.1 L270.65 249.1 L271.01 249.1 L271.37 249.1 L271.74 249.1 L272.1 249.1 L272.46 249.1 L272.82 249.1 L273.18 249.1 L273.54 249.1 L273.91 249.1 L274.27 249.1 L274.63 249.09 L274.99 249.09 L275.35 249.08 L275.71 249.06 L276.07 249.03 L276.44 248.98 L276.8 248.91 L277.16 248.79 L277.52 248.62 L277.88 248.35 L278.25 247.97 L278.61 247.44 L278.97 246.71 L279.33 245.73 L279.69 244.47 L280.05 242.87 L280.42 240.9 L280.78 238.56 L281.14 235.85 L281.5 232.82 L281.86 229.54 L282.22 226.13 L282.58 222.74 L282.95 219.52 L283.31 216.66 L283.67 214.31 L284.03 212.64 L284.39 211.74 L284.75 211.68 L285.12 212.46 L285.48 214.03 L285.84 216.29 L286.2 219.09 L286.56 222.26 L286.93 225.64 L287.29 229.06 L287.65 232.36 L288.01 235.43 L288.37 238.19 L288.73 240.59 L289.09 242.61 L289.46 244.26 L289.82 245.57 L290.18 246.59 L290.54 247.35 L290.9 247.91 L291.26 248.31 L291.63 248.58 L291.99 248.77 L292.35 248.9 L292.71 248.98 L293.07 249.03 L293.44 249.06 L293.8 249.08 L294.16 249.09 L294.52 249.09 L294.88 249.1 L295.24 249.1 L295.61 249.1 L295.97 249.1 L296.33 249.1 L296.69 249.1 L297.05 249.1 L297.41 249.1 L297.77 249.1 L298.14 249.1 L298.5 249.1 L298.86 249.1 L299.22 249.1 L299.58 249.1 L299.94 249.1 L300.31 249.1 L300.67 249.1 L301.03 249.1 L301.39 249.1 L301.75 249.1 L302.12 249.1 L302.48 249.1 L302.84 249.1 L303.2 249.1" fill="none" stroke="#4a6fb0" stroke-width="1.1" opacity="1"/>
<text x="116.1" y="210.4" font-size="6" fill="#c8284a" textLength="12" lengthAdjust="spacingAndGlyphs" stroke="#c8284a" stroke-width="0.05">7745</text>
<text x="116.1" y="216.4" font-size="6" fill="#4a6fb0" textLength="12" lengthAdjust="spacingAndGlyphs" stroke="#4a6fb0" stroke-width="0.05">9818</text>
<text x="162.3" y="210.2" font-size="6" fill="#c8284a" textLength="12" lengthAdjust="spacingAndGlyphs" stroke="#c8284a" stroke-width="0.05">1586</text>
<text x="162.3" y="216" font-size="6" fill="#4a6fb0" textLength="12" lengthAdjust="spacingAndGlyphs" stroke="#4a6fb0" stroke-width="0.05">2155</text>
<text x="215" y="210.8" font-size="6" fill="#c8284a" textLength="12" lengthAdjust="spacingAndGlyphs" stroke="#c8284a" stroke-width="0.05">5235</text>
<text x="215" y="217.1" font-size="6" fill="#4a6fb0" textLength="12" lengthAdjust="spacingAndGlyphs" stroke="#4a6fb0" stroke-width="0.05">8535</text>
<text x="261.9" y="210.8" font-size="6" fill="#c8284a" textLength="12" lengthAdjust="spacingAndGlyphs" stroke="#c8284a" stroke-width="0.05">1975</text>
<text x="261.9" y="217.1" font-size="6" fill="#4a6fb0" textLength="12" lengthAdjust="spacingAndGlyphs" stroke="#4a6fb0" stroke-width="0.05">2713</text>
<line x1="128.5" y1="257.9" x2="155.8" y2="257.9" stroke="#1a1a1a" stroke-width="1.3"/>
<path d="M159.8 257.9 L154.8 255.7 L154.8 260.1 Z" fill="#1a1a1a"/>
<rect x="260.5" y="254.2" width="8" height="6.2" fill="#bdbdbf"/>
<text x="271.8" y="259.2" font-size="6.5" textLength="12.8" lengthAdjust="spacingAndGlyphs" stroke="#231f20" stroke-width="0.12">host</text>
<line x1="260.5" y1="267.3" x2="268.5" y2="267.3" stroke="#c8284a" stroke-width="1.1"/>
<text x="271.8" y="269.2" font-size="6.5" textLength="31.7" lengthAdjust="spacingAndGlyphs" stroke="#231f20" stroke-width="0.12">WT CAR-T</text>
<line x1="260.5" y1="276.5" x2="268.5" y2="276.5" stroke="#4a6fb0" stroke-width="1.1"/>
<text x="271.8" y="278.4" font-size="6.5" textLength="30.8" lengthAdjust="spacingAndGlyphs" stroke="#231f20" stroke-width="0.12">KO CAR-T</text>
<text x="171.8" y="293.5" font-size="8.8" textLength="26" lengthAdjust="spacingAndGlyphs" stroke="#231f20" stroke-width="0.2">Spleen</text>
<text x="229.6" y="293.1" font-size="8.8" textLength="52.3" lengthAdjust="spacingAndGlyphs" stroke="#231f20" stroke-width="0.2">Bone marrow</text>
<line x1="160.9" y1="299.5" x2="160.9" y2="373.1" stroke="#231f20" stroke-width="1.3"/>
<line x1="157.9" y1="372.6" x2="160.9" y2="372.6" stroke="#231f20" stroke-width="0.9"/>
<text x="154.6" y="374.83" font-size="6.2" text-anchor="end" stroke="#231f20" stroke-width="0.12">0</text>
<line x1="157.9" y1="349.04" x2="160.9" y2="349.04" stroke="#231f20" stroke-width="0.9"/>
<text x="154.6" y="351.27" font-size="6.2" text-anchor="end" stroke="#231f20" stroke-width="0.12">5</text>
<line x1="157.9" y1="325.47" x2="160.9" y2="325.47" stroke="#231f20" stroke-width="0.9"/>
<text x="154.6" y="327.7" font-size="6.2" text-anchor="end" stroke="#231f20" stroke-width="0.12">10</text>
<line x1="157.9" y1="301.91" x2="160.9" y2="301.91" stroke="#231f20" stroke-width="0.9"/>
<text x="154.6" y="304.14" font-size="6.2" text-anchor="end" stroke="#231f20" stroke-width="0.12">15</text>
<line x1="158.5" y1="372.6" x2="208.5" y2="372.6" stroke="#231f20" stroke-width="1.3"/>
<line x1="172.6" y1="372.6" x2="172.6" y2="375.6" stroke="#231f20" stroke-width="1"/>
<line x1="196.6" y1="372.6" x2="196.6" y2="375.6" stroke="#231f20" stroke-width="1"/>
<text x="172.6" y="384.6" font-size="6.5" text-anchor="middle" stroke="#231f20" stroke-width="0.12">Day 7</text>
<text x="196.6" y="384.6" font-size="6.5" text-anchor="middle" stroke="#231f20" stroke-width="0.12">Day 21</text>
<line x1="231.7" y1="298.7" x2="231.7" y2="373.1" stroke="#231f20" stroke-width="1.3"/>
<line x1="228.7" y1="372.6" x2="231.7" y2="372.6" stroke="#231f20" stroke-width="0.9"/>
<text x="225.4" y="374.83" font-size="6.2" text-anchor="end" stroke="#231f20" stroke-width="0.12">0</text>
<line x1="228.7" y1="349.04" x2="231.7" y2="349.04" stroke="#231f20" stroke-width="0.9"/>
<text x="225.4" y="351.27" font-size="6.2" text-anchor="end" stroke="#231f20" stroke-width="0.12">5</text>
<line x1="228.7" y1="325.47" x2="231.7" y2="325.47" stroke="#231f20" stroke-width="0.9"/>
<text x="225.4" y="327.7" font-size="6.2" text-anchor="end" stroke="#231f20" stroke-width="0.12">10</text>
<line x1="228.7" y1="301.91" x2="231.7" y2="301.91" stroke="#231f20" stroke-width="0.9"/>
<text x="225.4" y="304.14" font-size="6.2" text-anchor="end" stroke="#231f20" stroke-width="0.12">15</text>
<line x1="229.6" y1="372.6" x2="278.8" y2="372.6" stroke="#231f20" stroke-width="1.3"/>
<line x1="243.2" y1="372.6" x2="243.2" y2="375.6" stroke="#231f20" stroke-width="1"/>
<line x1="267" y1="372.6" x2="267" y2="375.6" stroke="#231f20" stroke-width="1"/>
<text x="243.2" y="384.6" font-size="6.5" text-anchor="middle" stroke="#231f20" stroke-width="0.12">Day 7</text>
<text x="267" y="384.6" font-size="6.5" text-anchor="middle" stroke="#231f20" stroke-width="0.12">Day 21</text>
<circle cx="167.7" cy="333.1" r="2.25" fill="none" stroke="#c3223f" stroke-width="0.95"/>
<circle cx="170.8" cy="336.2" r="2.25" fill="none" stroke="#c3223f" stroke-width="0.95"/>
<circle cx="164.6" cy="338.8" r="2.25" fill="none" stroke="#c3223f" stroke-width="0.95"/>
<circle cx="169.2" cy="340" r="2.25" fill="none" stroke="#c3223f" stroke-width="0.95"/>
<circle cx="166.5" cy="342.8" r="2.25" fill="none" stroke="#c3223f" stroke-width="0.95"/>
<circle cx="163.8" cy="338.2" r="2.25" fill="none" stroke="#c3223f" stroke-width="0.95"/>
<line x1="162.7" y1="338.67" x2="171.7" y2="338.67" stroke="#444" stroke-width="1.1"/>
<line x1="167.2" y1="337.02" x2="167.2" y2="340.32" stroke="#444" stroke-width="0.9"/>
<line x1="165.2" y1="337.02" x2="169.2" y2="337.02" stroke="#444" stroke-width="0.9"/>
<line x1="165.2" y1="340.32" x2="169.2" y2="340.32" stroke="#444" stroke-width="0.9"/>
<circle cx="175.7" cy="326.5" r="2.25" fill="none" stroke="#3c5f9f" stroke-width="0.95"/>
<circle cx="180.8" cy="330.8" r="2.25" fill="none" stroke="#3c5f9f" stroke-width="0.95"/>
<circle cx="176.9" cy="335.1" r="2.25" fill="none" stroke="#3c5f9f" stroke-width="0.95"/>
<circle cx="180.3" cy="335.4" r="2.25" fill="none" stroke="#3c5f9f" stroke-width="0.95"/>
<circle cx="178.5" cy="339.7" r="2.25" fill="none" stroke="#3c5f9f" stroke-width="0.95"/>
<circle cx="177.5" cy="332" r="2.25" fill="none" stroke="#3c5f9f" stroke-width="0.95"/>
<line x1="173.8" y1="333.95" x2="182.8" y2="333.95" stroke="#444" stroke-width="1.1"/>
<line x1="178.3" y1="332.07" x2="178.3" y2="335.84" stroke="#444" stroke-width="0.9"/>
<line x1="176.3" y1="332.07" x2="180.3" y2="332.07" stroke="#444" stroke-width="0.9"/>
<line x1="176.3" y1="335.84" x2="180.3" y2="335.84" stroke="#444" stroke-width="0.9"/>
<circle cx="186.8" cy="365.87" r="2.25" fill="none" stroke="#c3223f" stroke-width="0.95"/>
<circle cx="189.6" cy="365.8" r="2.25" fill="none" stroke="#c3223f" stroke-width="0.95"/>
<circle cx="192.2" cy="365.31" r="2.25" fill="none" stroke="#c3223f" stroke-width="0.95"/>
<circle cx="194.8" cy="365.58" r="2.25" fill="none" stroke="#c3223f" stroke-width="0.95"/>
<line x1="186" y1="365.7" x2="196" y2="365.7" stroke="#444" stroke-width="1"/>
<circle cx="198.2" cy="362.72" r="2.25" fill="none" stroke="#3c5f9f" stroke-width="0.95"/>
<circle cx="200.9" cy="362.57" r="2.25" fill="none" stroke="#3c5f9f" stroke-width="0.95"/>
<circle cx="203.6" cy="362.89" r="2.25" fill="none" stroke="#3c5f9f" stroke-width="0.95"/>
<circle cx="206.2" cy="361.91" r="2.25" fill="none" stroke="#3c5f9f" stroke-width="0.95"/>
<line x1="197.5" y1="362.5" x2="207" y2="362.5" stroke="#444" stroke-width="1"/>
<line x1="166.2" y1="311.4" x2="179.3" y2="311.4" stroke="#3a3a3a" stroke-width="1.2"/>
<ellipse cx="172.75" cy="307.8" rx="0.95" ry="0.85" fill="#1a1a1a"/>
<line x1="190.4" y1="353.2" x2="203.8" y2="353.2" stroke="#3a3a3a" stroke-width="1.2"/>
<ellipse cx="194.3" cy="349.6" rx="0.95" ry="0.85" fill="#1a1a1a"/>
<ellipse cx="197.1" cy="349.6" rx="0.95" ry="0.85" fill="#1a1a1a"/>
<ellipse cx="199.9" cy="349.6" rx="0.95" ry="0.85" fill="#1a1a1a"/>
<circle cx="238.1" cy="341.5" r="2.25" fill="none" stroke="#c3223f" stroke-width="0.95"/>
<circle cx="241.2" cy="344.3" r="2.25" fill="none" stroke="#c3223f" stroke-width="0.95"/>
<circle cx="234.2" cy="346.2" r="2.25" fill="none" stroke="#c3223f" stroke-width="0.95"/>
<circle cx="239.3" cy="347.7" r="2.25" fill="none" stroke="#c3223f" stroke-width="0.95"/>
<circle cx="236.5" cy="350" r="2.25" fill="none" stroke="#c3223f" stroke-width="0.95"/>
<circle cx="237" cy="345" r="2.25" fill="none" stroke="#c3223f" stroke-width="0.95"/>
<line x1="233.3" y1="346.44" x2="242.3" y2="346.44" stroke="#444" stroke-width="1.1"/>
<line x1="237.8" y1="345.03" x2="237.8" y2="347.86" stroke="#444" stroke-width="0.9"/>
<line x1="235.8" y1="345.03" x2="239.8" y2="345.03" stroke="#444" stroke-width="0.9"/>
<line x1="235.8" y1="347.86" x2="239.8" y2="347.86" stroke="#444" stroke-width="0.9"/>
<circle cx="246.2" cy="332.3" r="2.25" fill="none" stroke="#3c5f9f" stroke-width="0.95"/>
<circle cx="251.5" cy="335.7" r="2.25" fill="none" stroke="#3c5f9f" stroke-width="0.95"/>
<circle cx="247" cy="338.5" r="2.25" fill="none" stroke="#3c5f9f" stroke-width="0.95"/>
<circle cx="250.7" cy="341.5" r="2.25" fill="none" stroke="#3c5f9f" stroke-width="0.95"/>
<circle cx="248.8" cy="344.6" r="2.25" fill="none" stroke="#3c5f9f" stroke-width="0.95"/>
<circle cx="249" cy="339" r="2.25" fill="none" stroke="#3c5f9f" stroke-width="0.95"/>
<line x1="244.1" y1="338.67" x2="253.1" y2="338.67" stroke="#444" stroke-width="1.1"/>
<line x1="248.6" y1="336.78" x2="248.6" y2="340.55" stroke="#444" stroke-width="0.9"/>
<line x1="246.6" y1="336.78" x2="250.6" y2="336.78" stroke="#444" stroke-width="0.9"/>
<line x1="246.6" y1="340.55" x2="250.6" y2="340.55" stroke="#444" stroke-width="0.9"/>
<circle cx="257.8" cy="363.47" r="2.25" fill="none" stroke="#c3223f" stroke-width="0.95"/>
<circle cx="260.5" cy="362.71" r="2.25" fill="none" stroke="#c3223f" stroke-width="0.95"/>
<circle cx="263.2" cy="363.33" r="2.25" fill="none" stroke="#c3223f" stroke-width="0.95"/>
<circle cx="265.9" cy="363.23" r="2.25" fill="none" stroke="#c3223f" stroke-width="0.95"/>
<line x1="257" y1="363.2" x2="267" y2="363.2" stroke="#444" stroke-width="1"/>
<circle cx="269" cy="359.77" r="2.25" fill="none" stroke="#3c5f9f" stroke-width="0.95"/>
<circle cx="271.7" cy="360.12" r="2.25" fill="none" stroke="#3c5f9f" stroke-width="0.95"/>
<circle cx="274.4" cy="360.37" r="2.25" fill="none" stroke="#3c5f9f" stroke-width="0.95"/>
<circle cx="277" cy="360.57" r="2.25" fill="none" stroke="#3c5f9f" stroke-width="0.95"/>
<line x1="268" y1="360.2" x2="278" y2="360.2" stroke="#444" stroke-width="1"/>
<line x1="238.4" y1="325.8" x2="251.9" y2="325.8" stroke="#3a3a3a" stroke-width="1.2"/>
<ellipse cx="243.75" cy="322.2" rx="0.95" ry="0.85" fill="#1a1a1a"/>
<ellipse cx="246.55" cy="322.2" rx="0.95" ry="0.85" fill="#1a1a1a"/>
<line x1="262.7" y1="353.4" x2="276" y2="353.4" stroke="#3a3a3a" stroke-width="1.2"/>
<ellipse cx="266.55" cy="349.8" rx="0.95" ry="0.85" fill="#1a1a1a"/>
<ellipse cx="269.35" cy="349.8" rx="0.95" ry="0.85" fill="#1a1a1a"/>
<ellipse cx="272.15" cy="349.8" rx="0.95" ry="0.85" fill="#1a1a1a"/>
<circle cx="159.5" cy="392.6" r="2.3" fill="none" stroke="#c3223f" stroke-width="1"/>
<text x="165.1" y="394.9" font-size="6.4" textLength="31.5" lengthAdjust="spacingAndGlyphs" stroke="#231f20" stroke-width="0.12">WT CAR-T</text>
<circle cx="159.5" cy="401.3" r="2.3" fill="none" stroke="#3c5f9f" stroke-width="1"/>
<text x="165.1" y="403.6" font-size="6.4" textLength="30.7" lengthAdjust="spacingAndGlyphs" stroke="#231f20" stroke-width="0.12">KO CAR-T</text>
<text x="396.7" y="177.7" font-size="8.8" textLength="24.8" lengthAdjust="spacingAndGlyphs" stroke="#231f20" stroke-width="0.2">Gated</text>
<text x="424.2" y="177.7" font-size="8.8" textLength="24.1" lengthAdjust="spacingAndGlyphs" stroke="#231f20" stroke-width="0.2">TCF-1</text>
<line x1="449.2" y1="173.1" x2="452.5" y2="173.1" stroke="#231f20" stroke-width="0.6"/>
<line x1="450.85" y1="171.45" x2="450.85" y2="174.75" stroke="#231f20" stroke-width="0.6"/>
<text x="411.2" y="188.8" font-size="8.8" textLength="27" lengthAdjust="spacingAndGlyphs" stroke="#231f20" stroke-width="0.2">Spleen</text>
<text x="388.5" y="202.8" font-size="8.8" textLength="22.3" lengthAdjust="spacingAndGlyphs" stroke="#231f20" stroke-width="0.2">Day 7</text>
<text x="434.6" y="202.8" font-size="8.8" textLength="27.4" lengthAdjust="spacingAndGlyphs" stroke="#231f20" stroke-width="0.2">Day 21</text>
<text x="341.4" y="229.8" font-size="8.2" textLength="13.9" lengthAdjust="spacingAndGlyphs" stroke="#231f20" stroke-width="0.2">WT</text>
<text x="335.7" y="240.8" font-size="8.2" textLength="25" lengthAdjust="spacingAndGlyphs" stroke="#231f20" stroke-width="0.2">CAR-T</text>
<text x="342.7" y="274.2" font-size="8.2" textLength="12.3" lengthAdjust="spacingAndGlyphs" stroke="#231f20" stroke-width="0.2">KO</text>
<text x="335.7" y="284.8" font-size="8.2" textLength="25" lengthAdjust="spacingAndGlyphs" stroke="#231f20" stroke-width="0.2">CAR-T</text>
<line x1="370" y1="273.4" x2="370" y2="247.2" stroke="#1a1a1a" stroke-width="1.3"/>
<path d="M370 243.2 L367.8 248.2 L372.2 248.2 Z" fill="#1a1a1a"/>
<line x1="402.1" y1="305.4" x2="428.7" y2="305.4" stroke="#1a1a1a" stroke-width="1.3"/>
<path d="M432.7 305.4 L427.7 303.2 L427.7 307.6 Z" fill="#1a1a1a"/>
<rect x="377.3" y="206.3" width="44.4" height="43.9" fill="none" stroke="#9a9a9a" stroke-width="0.9"/>
<line x1="377.3" y1="210.19" x2="377.3" y2="211.19" stroke="#555" stroke-width="1"/>
<line x1="377.3" y1="219.41" x2="377.3" y2="220.41" stroke="#555" stroke-width="1"/>
<line x1="377.3" y1="229.94" x2="377.3" y2="230.94" stroke="#555" stroke-width="1"/>
<line x1="377.3" y1="245.31" x2="377.3" y2="246.31" stroke="#555" stroke-width="1"/>
<line x1="377.3" y1="236.59" x2="377.3" y2="239.22" stroke="#222" stroke-width="1.4"/>
<line x1="378.3" y1="251.1" x2="420.7" y2="251.1" stroke="#8a8a8a" stroke-width="0.7" stroke-dasharray="3.2 1.3"/>
<line x1="378.8" y1="251.1" x2="382.8" y2="251.1" stroke="#222" stroke-width="1"/>
<line x1="389.4" y1="206.3" x2="389.4" y2="250.2" stroke="#6a6a6a" stroke-width="0.8"/>
<line x1="377.3" y1="231.2" x2="421.7" y2="231.2" stroke="#6a6a6a" stroke-width="0.8"/>
<text x="388.5" y="211.7" font-size="5.7" text-anchor="end" stroke="#231f20" stroke-width="0.05">35.4</text>
<text x="388.5" y="249.3" font-size="5.7" text-anchor="end" stroke="#231f20" stroke-width="0.05">14.7</text>
<text x="421" y="211.7" font-size="5.7" text-anchor="end" stroke="#231f20" stroke-width="0.05">34.3</text>
<text x="421" y="249.3" font-size="5.7" text-anchor="end" stroke="#231f20" stroke-width="0.05">15.6</text>
<rect x="426.3" y="206.3" width="44.2" height="43.9" fill="none" stroke="#9a9a9a" stroke-width="0.9"/>
<line x1="426.3" y1="210.19" x2="426.3" y2="211.19" stroke="#555" stroke-width="1"/>
<line x1="426.3" y1="219.41" x2="426.3" y2="220.41" stroke="#555" stroke-width="1"/>
<line x1="426.3" y1="229.94" x2="426.3" y2="230.94" stroke="#555" stroke-width="1"/>
<line x1="426.3" y1="245.31" x2="426.3" y2="246.31" stroke="#555" stroke-width="1"/>
<line x1="426.3" y1="236.59" x2="426.3" y2="239.22" stroke="#222" stroke-width="1.4"/>
<line x1="427.3" y1="251.1" x2="469.5" y2="251.1" stroke="#8a8a8a" stroke-width="0.7" stroke-dasharray="3.2 1.3"/>
<line x1="427.8" y1="251.1" x2="431.8" y2="251.1" stroke="#222" stroke-width="1"/>
<line x1="438.2" y1="206.3" x2="438.2" y2="250.2" stroke="#6a6a6a" stroke-width="0.8"/>
<line x1="426.3" y1="231.2" x2="470.5" y2="231.2" stroke="#6a6a6a" stroke-width="0.8"/>
<text x="426.9" y="211.7" font-size="5.7" stroke="#231f20" stroke-width="0.05">15.4</text>
<text x="426.9" y="249.3" font-size="5.7" stroke="#231f20" stroke-width="0.05">30.8</text>
<text x="469.8" y="211.7" font-size="5.7" text-anchor="end" stroke="#231f20" stroke-width="0.05">28.2</text>
<text x="469.8" y="249.3" font-size="5.7" text-anchor="end" stroke="#231f20" stroke-width="0.05">25.6</text>
<rect x="377.3" y="253.5" width="44.4" height="43.8" fill="none" stroke="#9a9a9a" stroke-width="0.9"/>
<line x1="377.3" y1="257.38" x2="377.3" y2="258.38" stroke="#555" stroke-width="1"/>
<line x1="377.3" y1="266.58" x2="377.3" y2="267.58" stroke="#555" stroke-width="1"/>
<line x1="377.3" y1="277.09" x2="377.3" y2="278.09" stroke="#555" stroke-width="1"/>
<line x1="377.3" y1="292.42" x2="377.3" y2="293.42" stroke="#555" stroke-width="1"/>
<line x1="377.3" y1="283.72" x2="377.3" y2="286.35" stroke="#222" stroke-width="1.4"/>
<line x1="378.3" y1="298.2" x2="420.7" y2="298.2" stroke="#8a8a8a" stroke-width="0.7" stroke-dasharray="3.2 1.3"/>
<line x1="378.8" y1="298.2" x2="382.8" y2="298.2" stroke="#222" stroke-width="1"/>
<line x1="389.4" y1="253.5" x2="389.4" y2="297.3" stroke="#6a6a6a" stroke-width="0.8"/>
<line x1="377.3" y1="278.4" x2="421.7" y2="278.4" stroke="#6a6a6a" stroke-width="0.8"/>
<text x="388.5" y="258.9" font-size="5.7" text-anchor="end" stroke="#231f20" stroke-width="0.05">6.0</text>
<text x="388.5" y="296.4" font-size="5.7" text-anchor="end" stroke="#231f20" stroke-width="0.05">68.0</text>
<text x="421" y="258.9" font-size="5.7" text-anchor="end" stroke="#231f20" stroke-width="0.05">1.1</text>
<text x="421" y="296.4" font-size="5.7" text-anchor="end" stroke="#231f20" stroke-width="0.05">24.9</text>
<rect x="426.3" y="253.5" width="44.2" height="43.8" fill="none" stroke="#9a9a9a" stroke-width="0.9"/>
<line x1="426.3" y1="257.38" x2="426.3" y2="258.38" stroke="#555" stroke-width="1"/>
<line x1="426.3" y1="266.58" x2="426.3" y2="267.58" stroke="#555" stroke-width="1"/>
<line x1="426.3" y1="277.09" x2="426.3" y2="278.09" stroke="#555" stroke-width="1"/>
<line x1="426.3" y1="292.42" x2="426.3" y2="293.42" stroke="#555" stroke-width="1"/>
<line x1="426.3" y1="283.72" x2="426.3" y2="286.35" stroke="#222" stroke-width="1.4"/>
<line x1="427.3" y1="298.2" x2="469.5" y2="298.2" stroke="#8a8a8a" stroke-width="0.7" stroke-dasharray="3.2 1.3"/>
<line x1="427.8" y1="298.2" x2="431.8" y2="298.2" stroke="#222" stroke-width="1"/>
<line x1="438.5" y1="253.5" x2="438.5" y2="297.3" stroke="#6a6a6a" stroke-width="0.8"/>
<line x1="426.3" y1="278.4" x2="470.5" y2="278.4" stroke="#6a6a6a" stroke-width="0.8"/>
<text x="427.3" y="258.9" font-size="5.7" stroke="#231f20" stroke-width="0.05">0.4</text>
<text x="429" y="296.4" font-size="5.7" stroke="#231f20" stroke-width="0.05">7.2</text>
<text x="469.8" y="258.9" font-size="5.7" text-anchor="end" stroke="#231f20" stroke-width="0.05">0.9</text>
<text x="469.8" y="296.4" font-size="5.7" text-anchor="end" stroke="#231f20" stroke-width="0.05">91.5</text>
<path d="M381.2 233 Q382.5 245 389.5 246 Q397 244 397.8 234 Z" fill="#d6d6d6" opacity="0.55" filter="url(#bl3)"/>
<path d="M381.3 233.5 Q383.5 243.5 389.2 244.8 Q395.8 243 397.2 235.5" fill="none" stroke="#777" stroke-width="0.45"/>
<path d="M383 235 Q385 241.5 389 242.5 Q394 241 395.5 235" fill="none" stroke="#999" stroke-width="0.4"/>
<rect x="380.3" y="219.3" width="18.2" height="16.2" rx="7" ry="6.5" fill="#999" opacity="0.3" filter="url(#bl5)"/>
<rect x="380.40" y="219.20" width="18.00" height="15.80" rx="6.48" ry="5.93" fill="#444" fill-opacity="0.07" stroke="#333" stroke-width="0.45" stroke-opacity="0.6"/>
<rect x="381.50" y="220.20" width="15.80" height="13.80" rx="5.69" ry="5.18" fill="#444" fill-opacity="0.07" stroke="#333" stroke-width="0.45" stroke-opacity="0.6"/>
<rect x="382.70" y="221.20" width="13.40" height="11.80" rx="4.82" ry="4.43" fill="#444" fill-opacity="0.07" stroke="#333" stroke-width="0.45" stroke-opacity="0.6"/>
<rect x="383.90" y="222.30" width="11.00" height="9.60" rx="3.96" ry="3.60" fill="#444" fill-opacity="0.07" stroke="#333" stroke-width="0.45" stroke-opacity="0.6"/>
<rect x="385.10" y="223.30" width="8.60" height="7.60" rx="3.10" ry="2.85" fill="#444" fill-opacity="0.07" stroke="#333" stroke-width="0.45" stroke-opacity="0.6"/>
<ellipse cx="388.6" cy="227.3" rx="3.2" ry="2.8" fill="none" stroke="#1a1a1a" stroke-width="1.2" opacity="0.8"/>
<circle cx="388.2" cy="227.4" r="1.5" fill="#fff"/>
<ellipse cx="391.8" cy="227.2" rx="1.3" ry="0.8" fill="#fff" opacity="0.85"/>
<path d="M397.3 234.8h0M392.7 229.6h0M401.2 224.6h0M390.1 234.9h0M394.2 234.8h0M385.2 235.8h0M397.9 229.5h0M397.0 230.5h0M392.0 231.9h0M391.1 232.5h0M398.1 238.7h0M395.2 234.8h0M386.0 231.0h0" stroke="#000" stroke-width="0.5" stroke-linecap="round" opacity="0.25" fill="none"/>
<path d="M394.4 232.5h0M389.7 227.4h0M396.8 235.1h0M378.4 246.1h0M395.0 232.9h0M397.6 234.9h0M400.4 229.9h0M396.7 236.0h0M383.4 242.7h0M390.2 225.4h0M391.8 237.4h0M387.2 231.2h0M390.0 231.1h0" stroke="#000" stroke-width="0.5" stroke-linecap="round" opacity="0.25" fill="none"/>
<path d="M379.1 239.0h0M387.2 235.5h0M392.2 222.9h0M391.6 227.1h0M391.2 228.8h0M391.3 231.4h0M393.1 234.9h0M387.1 238.6h0M402.1 233.3h0M402.3 238.7h0M398.6 229.8h0M398.4 222.0h0M382.7 235.2h0" stroke="#000" stroke-width="0.5" stroke-linecap="round" opacity="0.25" fill="none"/>
<path d="M432.3 228.3 Q432.2 223.6 434.9 223.3 Q437.6 223 438.8 225.8 Q441 222.4 443.8 223.2 Q448 224.6 449.1 227.7 Q448.5 230.5 444 234 L437.8 238.8 Q433.8 236 432.3 228.3 Z" fill="#999" opacity="0.7" filter="url(#bl6)"/>
<path d="M432.3 228.3 Q432.2 223.6 434.9 223.3 Q437.6 223 438.8 225.8 Q441 222.4 443.8 223.2 Q448 224.6 449.1 227.7 Q448.5 230.5 444 234 L437.8 238.8 Q433.8 236 432.3 228.3 Z" fill="none" stroke="#555" stroke-width="0.55" opacity="0.8"/>
<path d="M433.6 228 Q433.6 224.6 435.6 224.5 Q437.5 224.5 438.6 227.2 Q440.8 224.3 443.5 224.6 Q446.8 225.8 447.5 228 Q446.5 230.5 442.5 233.5 L437.9 237.2 Q434.5 234.5 433.6 228 Z" fill="none" stroke="#444" stroke-width="0.5" opacity="0.8"/>
<path d="M434.4 226.5 Q434 232.5 437.8 236.6 Q441.2 234.2 445.2 230.6" fill="none" stroke="#1a1a1a" stroke-width="1.35" opacity="0.85" stroke-linecap="round"/>
<path d="M435.8 226.4 L438.6 230.6 L442.4 228.2" fill="none" stroke="#1a1a1a" stroke-width="1.05" opacity="0.85" stroke-linecap="round"/>
<path d="M437 232.5 L438.2 234.5" fill="none" stroke="#fff" stroke-width="0.9" opacity="0.7"/>
<path d="M447.8 234.5h0M436.9 227.4h0M442.0 234.3h0M435.6 232.2h0M440.0 230.7h0M431.4 228.6h0M440.9 240.4h0M446.8 231.5h0" stroke="#000" stroke-width="0.5" stroke-linecap="round" opacity="0.25" fill="none"/>
<path d="M437.1 234.5h0M439.0 233.4h0M443.9 234.5h0M445.0 240.6h0M435.7 239.2h0M433.1 229.7h0M446.0 229.2h0M438.2 234.0h0" stroke="#000" stroke-width="0.5" stroke-linecap="round" opacity="0.25" fill="none"/>
<path d="M437.8 231.6h0M441.6 232.0h0M438.6 230.2h0M436.6 235.4h0M453.6 231.6h0M434.7 240.9h0M445.7 231.7h0M438.6 232.0h0" stroke="#000" stroke-width="0.5" stroke-linecap="round" opacity="0.25" fill="none"/>
<ellipse cx="389.6" cy="283.5" rx="8.3" ry="4.3" fill="#bdbdbd" opacity="0.6" stroke="#777" stroke-width="0.5"/>
<ellipse cx="389.2" cy="283.6" rx="6.8" ry="3.5" fill="#aaa" opacity="0.5" stroke="#555" stroke-width="0.55"/>
<ellipse cx="391.0" cy="283.8" rx="4.6" ry="2.1" fill="none" stroke="#666" stroke-width="0.5"/>
<ellipse cx="386.0" cy="283.7" rx="3.4" ry="2.7" fill="#aaa" fill-opacity="0.35" stroke="#161616" stroke-width="1.15"/>
<ellipse cx="386.2" cy="283.9" rx="1.7" ry="1.1" fill="none" stroke="#444" stroke-width="0.6"/>
<path d="M386.5 268.5h0M386.2 264.0h0M382.9 268.7h0M384.5 272.4h0M384.9 273.4h0M388.9 283.2h0M384.8 274.5h0M385.0 273.6h0M384.3 271.2h0M386.6 278.6h0M386.2 272.7h0M385.1 267.8h0M383.1 273.3h0M388.2 273.3h0M383.5 272.5h0M388.2 272.9h0M388.5 267.0h0M386.6 268.5h0M380.8 273.0h0M387.2 274.9h0M388.8 273.4h0M379.6 275.9h0M388.2 271.3h0M384.6 273.0h0M385.9 268.2h0M388.4 280.1h0M387.4 273.7h0M377.0 274.9h0M387.1 275.4h0M386.4 269.5h0M386.3 272.7h0M386.0 276.4h0M386.5 271.5h0M383.3 265.6h0M390.4 271.8h0M388.6 274.4h0M386.1 275.0h0M386.0 279.5h0M384.6 272.0h0M385.6 274.4h0M389.7 270.0h0M379.3 274.8h0M387.6 272.6h0M385.8 275.6h0M383.4 269.1h0M381.3 272.2h0M383.6 272.4h0M382.7 264.5h0M388.7 274.4h0M388.6 278.1h0M381.3 276.2h0M382.6 264.1h0M382.7 270.4h0M390.4 271.8h0M385.2 274.6h0M386.6 272.3h0M391.2 268.7h0M382.5 264.7h0M382.4 268.9h0M384.3 271.4h0M389.6 276.1h0M384.5 273.6h0M383.9 271.9h0M385.4 281.2h0M382.6 268.5h0M386.9 269.1h0M383.2 274.3h0M383.0 278.4h0M387.4 270.8h0M385.4 270.3h0M389.7 273.3h0M386.2 269.5h0M389.9 272.8h0" stroke="#000" stroke-width="0.55" stroke-linecap="round" opacity="0.25" fill="none"/>
<path d="M383.9 279.1h0M386.6 271.2h0M388.2 270.8h0M385.4 276.9h0M382.7 272.1h0M385.5 274.4h0M383.0 268.3h0M384.9 269.2h0M386.1 272.4h0M386.1 273.6h0M382.8 271.4h0M386.2 277.8h0M386.5 273.0h0M391.1 271.1h0M389.2 275.5h0M382.6 272.7h0M387.8 268.2h0M389.5 270.8h0M386.9 272.0h0M386.8 269.8h0M389.8 269.6h0M390.1 271.6h0M383.3 276.1h0M386.0 271.6h0M382.5 271.7h0M385.3 269.4h0M382.5 269.0h0M382.9 277.1h0M387.9 270.8h0M382.8 272.2h0M386.9 270.3h0M385.2 276.9h0M384.9 271.1h0M388.8 272.4h0M385.5 268.9h0M388.3 273.7h0M384.8 272.2h0M389.2 272.3h0M385.2 273.2h0M385.9 276.6h0M384.9 271.0h0M383.7 273.3h0M382.2 270.6h0M381.5 272.3h0M385.0 271.8h0M384.1 269.2h0M386.1 263.6h0M382.8 279.3h0M386.3 278.8h0M390.7 273.3h0M383.1 274.5h0M383.3 273.1h0M386.3 279.1h0M385.2 272.0h0M385.0 282.2h0M385.4 276.3h0M383.6 271.2h0M392.8 269.3h0M387.1 275.1h0M387.1 276.8h0M385.0 278.9h0M386.6 272.0h0M387.1 273.3h0M385.3 275.0h0M383.6 274.6h0M384.8 262.7h0M388.5 272.4h0M384.9 271.3h0M381.7 267.7h0M386.9 271.5h0M388.6 280.4h0M384.4 266.6h0M389.1 275.3h0" stroke="#000" stroke-width="0.55" stroke-linecap="round" opacity="0.25" fill="none"/>
<path d="M390.0 273.9h0M386.4 269.6h0M390.0 273.1h0M389.4 272.9h0M384.3 275.7h0M388.4 263.3h0M384.6 275.1h0M388.5 272.9h0M383.7 274.2h0M384.6 261.8h0M380.8 274.5h0M383.6 275.5h0M388.0 262.9h0M385.9 266.8h0M388.5 265.1h0M388.9 271.6h0M385.6 273.3h0M383.4 272.4h0M394.0 273.0h0M383.7 281.7h0M388.2 273.4h0M386.6 267.2h0M384.4 268.9h0M389.9 277.1h0M386.0 268.5h0M381.5 270.3h0M382.8 273.2h0M381.6 273.6h0M385.6 269.4h0M386.2 269.2h0M384.6 269.5h0M390.8 267.4h0M386.2 269.1h0M384.2 276.4h0M385.3 272.4h0M380.1 270.4h0M390.8 276.3h0M377.7 266.9h0M385.1 266.7h0M385.9 268.8h0M389.6 278.3h0M388.8 268.5h0M386.4 277.6h0M383.3 272.7h0M382.9 273.3h0M389.4 272.3h0M391.4 271.7h0M387.8 279.2h0M383.2 276.7h0M381.9 270.5h0M384.6 278.7h0M382.7 278.1h0M382.1 273.2h0M387.9 272.9h0M391.3 273.3h0M382.1 272.1h0M388.4 265.6h0M380.0 280.8h0M382.6 277.1h0M387.0 269.7h0M383.6 274.8h0M384.3 276.5h0M386.3 271.8h0M390.4 272.5h0M382.3 270.9h0M384.4 279.5h0M387.6 270.2h0M384.0 273.0h0M385.8 280.8h0M384.0 269.6h0M384.7 271.0h0M388.2 273.1h0M384.3 271.8h0" stroke="#000" stroke-width="0.55" stroke-linecap="round" opacity="0.25" fill="none"/>
<path d="M389.4 275.3h0M391.6 280.9h0M388.8 279.8h0M392.0 273.1h0M397.7 277.1h0M388.3 274.7h0M390.5 272.5h0M392.3 275.8h0M396.1 275.2h0M386.5 279.6h0" stroke="#000" stroke-width="0.5" stroke-linecap="round" opacity="0.18" fill="none"/>
<path d="M395.2 273.5h0M396.2 276.3h0M388.7 278.1h0M392.8 274.6h0M393.4 273.9h0M392.0 276.8h0M393.9 277.5h0M385.0 274.7h0M393.2 278.2h0M389.0 279.1h0" stroke="#000" stroke-width="0.5" stroke-linecap="round" opacity="0.18" fill="none"/>
<path d="M389.3 279.5h0M392.5 276.7h0M387.8 273.7h0M392.6 276.7h0M391.5 275.0h0M396.1 273.9h0M393.6 278.6h0M393.2 276.4h0M388.3 280.9h0M396.2 273.3h0" stroke="#000" stroke-width="0.5" stroke-linecap="round" opacity="0.18" fill="none"/>
<ellipse cx="443.5" cy="285.2" rx="7.3" ry="5.0" fill="#bbb" opacity="0.4" filter="url(#bl3)"/>
<ellipse cx="435.6" cy="285.0" rx="2.0" ry="3.2" fill="#ddd" opacity="0.6" stroke="#bbb" stroke-width="0.4"/>
<ellipse cx="444.2" cy="285.3" rx="4.9" ry="3.5" fill="#2a2a2a" opacity="0.85" filter="url(#bl6)"/>
<ellipse cx="444" cy="285.3" rx="6" ry="4.3" fill="none" stroke="#555" stroke-width="0.55" opacity="0.6"/>
<ellipse cx="444" cy="285.3" rx="5.1" ry="3.65" fill="none" stroke="#555" stroke-width="0.55" opacity="0.6"/>
<ellipse cx="444.8" cy="285.4" rx="1.8" ry="0.55" fill="#f4f4f4"/>
<path d="M438.0 273.0h0M435.9 276.6h0M437.5 277.1h0M442.5 274.1h0M436.6 280.4h0M444.1 276.2h0M437.8 278.7h0M441.8 280.6h0M441.6 274.5h0M438.2 277.5h0M435.7 273.7h0M444.0 280.1h0M442.9 282.3h0" stroke="#000" stroke-width="0.5" stroke-linecap="round" opacity="0.22" fill="none"/>
<path d="M439.9 274.5h0M441.4 280.4h0M437.5 284.4h0M445.4 272.0h0M438.0 279.7h0M442.2 281.2h0M442.5 276.5h0M439.2 278.6h0M442.7 274.2h0M439.9 277.1h0M439.5 272.5h0M442.8 270.9h0M440.9 273.9h0" stroke="#000" stroke-width="0.5" stroke-linecap="round" opacity="0.22" fill="none"/>
<path d="M441.0 282.4h0M448.8 279.9h0M440.2 272.4h0M440.1 278.2h0M435.3 274.7h0M442.2 278.2h0M439.4 272.9h0M441.9 273.0h0M448.1 276.1h0M439.1 281.5h0M437.7 274.7h0M443.3 271.3h0M442.1 274.2h0" stroke="#000" stroke-width="0.5" stroke-linecap="round" opacity="0.22" fill="none"/>
<line x1="364" y1="316.9" x2="364" y2="390.5" stroke="#231f20" stroke-width="1.3"/>
<line x1="361" y1="390" x2="364" y2="390" stroke="#231f20" stroke-width="0.9"/>
<text x="357.7" y="392.23" font-size="6.2" text-anchor="end" stroke="#231f20" stroke-width="0.12">0</text>
<line x1="361" y1="375.82" x2="364" y2="375.82" stroke="#231f20" stroke-width="0.9"/>
<text x="357.7" y="378.05" font-size="6.2" text-anchor="end" stroke="#231f20" stroke-width="0.12">20</text>
<line x1="361" y1="361.64" x2="364" y2="361.64" stroke="#231f20" stroke-width="0.9"/>
<text x="357.7" y="363.87" font-size="6.2" text-anchor="end" stroke="#231f20" stroke-width="0.12">40</text>
<line x1="361" y1="347.46" x2="364" y2="347.46" stroke="#231f20" stroke-width="0.9"/>
<text x="357.7" y="349.69" font-size="6.2" text-anchor="end" stroke="#231f20" stroke-width="0.12">60</text>
<line x1="361" y1="333.28" x2="364" y2="333.28" stroke="#231f20" stroke-width="0.9"/>
<text x="357.7" y="335.51" font-size="6.2" text-anchor="end" stroke="#231f20" stroke-width="0.12">80</text>
<line x1="361" y1="319.1" x2="364" y2="319.1" stroke="#231f20" stroke-width="0.9"/>
<text x="357.7" y="321.33" font-size="6.2" text-anchor="end" stroke="#231f20" stroke-width="0.12">100</text>
<line x1="361.5" y1="390" x2="411.1" y2="390" stroke="#231f20" stroke-width="1.3"/>
<line x1="375.7" y1="390" x2="375.7" y2="393" stroke="#231f20" stroke-width="1"/>
<line x1="399.2" y1="390" x2="399.2" y2="393" stroke="#231f20" stroke-width="1"/>
<text x="375.7" y="401.5" font-size="6.5" text-anchor="middle" stroke="#231f20" stroke-width="0.12">Day 7</text>
<text x="399.2" y="401.5" font-size="6.5" text-anchor="middle" stroke="#231f20" stroke-width="0.12">Day 21</text>
<line x1="465.2" y1="316.9" x2="465.2" y2="390.5" stroke="#231f20" stroke-width="1.3"/>
<line x1="462.2" y1="390" x2="465.2" y2="390" stroke="#231f20" stroke-width="0.9"/>
<text x="458.9" y="392.23" font-size="6.2" text-anchor="end" stroke="#231f20" stroke-width="0.12">0</text>
<line x1="462.2" y1="375.82" x2="465.2" y2="375.82" stroke="#231f20" stroke-width="0.9"/>
<text x="458.9" y="378.05" font-size="6.2" text-anchor="end" stroke="#231f20" stroke-width="0.12">20</text>
<line x1="462.2" y1="361.64" x2="465.2" y2="361.64" stroke="#231f20" stroke-width="0.9"/>
<text x="458.9" y="363.87" font-size="6.2" text-anchor="end" stroke="#231f20" stroke-width="0.12">40</text>
<line x1="462.2" y1="347.46" x2="465.2" y2="347.46" stroke="#231f20" stroke-width="0.9"/>
<text x="458.9" y="349.69" font-size="6.2" text-anchor="end" stroke="#231f20" stroke-width="0.12">60</text>
<line x1="462.2" y1="333.28" x2="465.2" y2="333.28" stroke="#231f20" stroke-width="0.9"/>
<text x="458.9" y="335.51" font-size="6.2" text-anchor="end" stroke="#231f20" stroke-width="0.12">80</text>
<line x1="462.2" y1="319.1" x2="465.2" y2="319.1" stroke="#231f20" stroke-width="0.9"/>
<text x="458.9" y="321.33" font-size="6.2" text-anchor="end" stroke="#231f20" stroke-width="0.12">100</text>
<line x1="462.8" y1="390" x2="512.3" y2="390" stroke="#231f20" stroke-width="1.3"/>
<line x1="476.9" y1="390" x2="476.9" y2="393" stroke="#231f20" stroke-width="1"/>
<line x1="500.3" y1="390" x2="500.3" y2="393" stroke="#231f20" stroke-width="1"/>
<text x="476.9" y="401.5" font-size="6.5" text-anchor="middle" stroke="#231f20" stroke-width="0.12">Day 7</text>
<text x="500.3" y="401.5" font-size="6.5" text-anchor="middle" stroke="#231f20" stroke-width="0.12">Day 21</text>
<circle cx="367" cy="377.95" r="2.25" fill="white" stroke="#c3223f" stroke-width="0.95" fill-opacity="0"/>
<circle cx="369.2" cy="379.37" r="2.25" fill="white" stroke="#c3223f" stroke-width="0.95" fill-opacity="0"/>
<circle cx="371.4" cy="379.37" r="2.25" fill="white" stroke="#c3223f" stroke-width="0.95" fill-opacity="0"/>
<circle cx="373.6" cy="379.37" r="2.25" fill="white" stroke="#c3223f" stroke-width="0.95" fill-opacity="0"/>
<circle cx="375.8" cy="378.66" r="2.25" fill="white" stroke="#c3223f" stroke-width="0.95" fill-opacity="0"/>
<line x1="366.3" y1="378.94" x2="375.3" y2="378.94" stroke="#111" stroke-width="1.1"/>
<circle cx="381" cy="368.73" r="2.25" fill="white" stroke="#3c5f9f" stroke-width="0.95" fill-opacity="0"/>
<circle cx="384.3" cy="370.86" r="2.25" fill="white" stroke="#3c5f9f" stroke-width="0.95" fill-opacity="0"/>
<circle cx="378.7" cy="371.57" r="2.25" fill="white" stroke="#3c5f9f" stroke-width="0.95" fill-opacity="0"/>
<circle cx="382" cy="372.98" r="2.25" fill="white" stroke="#3c5f9f" stroke-width="0.95" fill-opacity="0"/>
<circle cx="381" cy="374.4" r="2.25" fill="white" stroke="#3c5f9f" stroke-width="0.95" fill-opacity="0"/>
<line x1="377" y1="371.57" x2="386" y2="371.57" stroke="#111" stroke-width="1.1"/>
<line x1="381.5" y1="370.72" x2="381.5" y2="372.42" stroke="#111" stroke-width="0.9"/>
<line x1="379.5" y1="370.72" x2="383.5" y2="370.72" stroke="#111" stroke-width="0.9"/>
<line x1="379.5" y1="372.42" x2="383.5" y2="372.42" stroke="#111" stroke-width="0.9"/>
<circle cx="392.7" cy="372.27" r="2.25" fill="white" stroke="#c3223f" stroke-width="0.95" fill-opacity="0"/>
<circle cx="396" cy="374.4" r="2.25" fill="white" stroke="#c3223f" stroke-width="0.95" fill-opacity="0"/>
<circle cx="394.2" cy="375.82" r="2.25" fill="white" stroke="#c3223f" stroke-width="0.95" fill-opacity="0"/>
<line x1="389.7" y1="373.69" x2="398.7" y2="373.69" stroke="#111" stroke-width="1.1"/>
<line x1="394.2" y1="372.98" x2="394.2" y2="374.4" stroke="#111" stroke-width="0.9"/>
<line x1="392.2" y1="372.98" x2="396.2" y2="372.98" stroke="#111" stroke-width="0.9"/>
<line x1="392.2" y1="374.4" x2="396.2" y2="374.4" stroke="#111" stroke-width="0.9"/>
<circle cx="405.4" cy="324.77" r="2.25" fill="white" stroke="#3c5f9f" stroke-width="0.95" fill-opacity="0"/>
<circle cx="402.7" cy="329.74" r="2.25" fill="white" stroke="#3c5f9f" stroke-width="0.95" fill-opacity="0"/>
<circle cx="407.5" cy="330.44" r="2.25" fill="white" stroke="#3c5f9f" stroke-width="0.95" fill-opacity="0"/>
<line x1="400.4" y1="328.67" x2="409.4" y2="328.67" stroke="#111" stroke-width="1.1"/>
<line x1="404.9" y1="327.11" x2="404.9" y2="330.23" stroke="#111" stroke-width="0.9"/>
<line x1="402.9" y1="327.11" x2="406.9" y2="327.11" stroke="#111" stroke-width="0.9"/>
<line x1="402.9" y1="330.23" x2="406.9" y2="330.23" stroke="#111" stroke-width="0.9"/>
<line x1="370.5" y1="355.4" x2="380.8" y2="355.4" stroke="#3a3a3a" stroke-width="1.2"/>
<ellipse cx="374.25" cy="351.8" rx="0.95" ry="0.85" fill="#1a1a1a"/>
<ellipse cx="377.05" cy="351.8" rx="0.95" ry="0.85" fill="#1a1a1a"/>
<line x1="396.2" y1="321.5" x2="406.5" y2="321.5" stroke="#3a3a3a" stroke-width="1.2"/>
<ellipse cx="399.95" cy="317.9" rx="0.95" ry="0.85" fill="#1a1a1a"/>
<ellipse cx="402.75" cy="317.9" rx="0.95" ry="0.85" fill="#1a1a1a"/>
<circle cx="468.8" cy="363.06" r="2.25" fill="white" stroke="#c3223f" stroke-width="0.95" fill-opacity="0"/>
<circle cx="471.3" cy="363.06" r="2.25" fill="white" stroke="#c3223f" stroke-width="0.95" fill-opacity="0"/>
<circle cx="473.8" cy="364.48" r="2.25" fill="white" stroke="#c3223f" stroke-width="0.95" fill-opacity="0"/>
<circle cx="476.3" cy="363.77" r="2.25" fill="white" stroke="#c3223f" stroke-width="0.95" fill-opacity="0"/>
<circle cx="474.8" cy="362.35" r="2.25" fill="white" stroke="#c3223f" stroke-width="0.95" fill-opacity="0"/>
<line x1="467.8" y1="363.06" x2="476.8" y2="363.06" stroke="#111" stroke-width="1.1"/>
<line x1="472.3" y1="362.7" x2="472.3" y2="363.41" stroke="#111" stroke-width="0.9"/>
<line x1="470.3" y1="362.7" x2="474.3" y2="362.7" stroke="#111" stroke-width="0.9"/>
<line x1="470.3" y1="363.41" x2="474.3" y2="363.41" stroke="#111" stroke-width="0.9"/>
<circle cx="478.5" cy="386.45" r="2.25" fill="white" stroke="#3c5f9f" stroke-width="0.95" fill-opacity="0"/>
<circle cx="481" cy="386.45" r="2.25" fill="white" stroke="#3c5f9f" stroke-width="0.95" fill-opacity="0"/>
<circle cx="483.6" cy="386.45" r="2.25" fill="white" stroke="#3c5f9f" stroke-width="0.95" fill-opacity="0"/>
<circle cx="486.1" cy="386.45" r="2.25" fill="white" stroke="#3c5f9f" stroke-width="0.95" fill-opacity="0"/>
<circle cx="482.3" cy="386.45" r="2.25" fill="white" stroke="#3c5f9f" stroke-width="0.95" fill-opacity="0"/>
<line x1="477.8" y1="386.45" x2="486.8" y2="386.45" stroke="#111" stroke-width="1.1"/>
<circle cx="495.7" cy="369.44" r="2.25" fill="white" stroke="#c3223f" stroke-width="0.95" fill-opacity="0"/>
<circle cx="493.5" cy="378.66" r="2.25" fill="white" stroke="#c3223f" stroke-width="0.95" fill-opacity="0"/>
<circle cx="498.1" cy="378.66" r="2.25" fill="white" stroke="#c3223f" stroke-width="0.95" fill-opacity="0"/>
<line x1="491.2" y1="375.82" x2="500.2" y2="375.82" stroke="#111" stroke-width="1.1"/>
<line x1="495.7" y1="372.84" x2="495.7" y2="378.8" stroke="#111" stroke-width="0.9"/>
<line x1="493.7" y1="372.84" x2="497.7" y2="372.84" stroke="#111" stroke-width="0.9"/>
<line x1="493.7" y1="378.8" x2="497.7" y2="378.8" stroke="#111" stroke-width="0.9"/>
<circle cx="505.2" cy="388.58" r="2.25" fill="white" stroke="#3c5f9f" stroke-width="0.95" fill-opacity="0"/>
<circle cx="507.7" cy="389.57" r="2.25" fill="white" stroke="#3c5f9f" stroke-width="0.95" fill-opacity="0"/>
<circle cx="509.2" cy="389.72" r="2.25" fill="white" stroke="#3c5f9f" stroke-width="0.95" fill-opacity="0"/>
<line x1="501.7" y1="389.29" x2="510.7" y2="389.29" stroke="#111" stroke-width="1.1"/>
<line x1="471.5" y1="355.4" x2="482.3" y2="355.4" stroke="#3a3a3a" stroke-width="1.2"/>
<ellipse cx="472.7" cy="351.8" rx="0.95" ry="0.85" fill="#1a1a1a"/>
<ellipse cx="475.5" cy="351.8" rx="0.95" ry="0.85" fill="#1a1a1a"/>
<ellipse cx="478.3" cy="351.8" rx="0.95" ry="0.85" fill="#1a1a1a"/>
<ellipse cx="481.1" cy="351.8" rx="0.95" ry="0.85" fill="#1a1a1a"/>
<line x1="495.4" y1="363.1" x2="505.8" y2="363.1" stroke="#3a3a3a" stroke-width="1.2"/>
<ellipse cx="500.6" cy="359.5" rx="0.95" ry="0.85" fill="#1a1a1a"/>
<circle cx="358.8" cy="410.8" r="2.3" fill="none" stroke="#c3223f" stroke-width="1"/>
<text x="364.3" y="413.1" font-size="6.4" textLength="31.4" lengthAdjust="spacingAndGlyphs" stroke="#231f20" stroke-width="0.12">WT CAR-T</text>
<circle cx="358.8" cy="419.5" r="2.3" fill="none" stroke="#3c5f9f" stroke-width="1"/>
<text x="364.3" y="421.8" font-size="6.4" textLength="30.5" lengthAdjust="spacingAndGlyphs" stroke="#231f20" stroke-width="0.12">KO CAR-T</text>
<text x="82.8" y="466.2" font-size="8.8" textLength="25.2" lengthAdjust="spacingAndGlyphs" stroke="#231f20" stroke-width="0.2">Gated</text>
<text x="110.4" y="466.2" font-size="8.8" textLength="24.1" lengthAdjust="spacingAndGlyphs" stroke="#231f20" stroke-width="0.2">TCF-1</text>
<line x1="135.2" y1="461.3" x2="138.2" y2="461.3" stroke="#231f20" stroke-width="0.6"/>
<line x1="136.7" y1="459.8" x2="136.7" y2="462.8" stroke="#231f20" stroke-width="0.6"/>
<text x="141.7" y="466.2" font-size="8.8" textLength="26.7" lengthAdjust="spacingAndGlyphs" stroke="#231f20" stroke-width="0.2">Spleen</text>
<text x="65.4" y="483.8" font-size="8.8" textLength="22.3" lengthAdjust="spacingAndGlyphs" stroke="#231f20" stroke-width="0.2">Day 7</text>
<text x="161" y="483.5" font-size="8.8" textLength="26.9" lengthAdjust="spacingAndGlyphs" stroke="#231f20" stroke-width="0.2">Day 21</text>
<line x1="41" y1="488.8" x2="41" y2="563.2" stroke="#231f20" stroke-width="1.3"/>
<line x1="38" y1="562.7" x2="41" y2="562.7" stroke="#231f20" stroke-width="0.9"/>
<text x="34.7" y="564.9" font-size="6.1" text-anchor="end" stroke="#231f20" stroke-width="0.05">0</text>
<line x1="38" y1="548.5" x2="41" y2="548.5" stroke="#231f20" stroke-width="0.9"/>
<text x="34.7" y="550.7" font-size="6.1" text-anchor="end" stroke="#231f20" stroke-width="0.05">20</text>
<line x1="38" y1="534.3" x2="41" y2="534.3" stroke="#231f20" stroke-width="0.9"/>
<text x="34.7" y="536.5" font-size="6.1" text-anchor="end" stroke="#231f20" stroke-width="0.05">40</text>
<line x1="38" y1="520.1" x2="41" y2="520.1" stroke="#231f20" stroke-width="0.9"/>
<text x="34.7" y="522.3" font-size="6.1" text-anchor="end" stroke="#231f20" stroke-width="0.05">60</text>
<line x1="38" y1="505.9" x2="41" y2="505.9" stroke="#231f20" stroke-width="0.9"/>
<text x="34.7" y="508.1" font-size="6.1" text-anchor="end" stroke="#231f20" stroke-width="0.05">80</text>
<line x1="38" y1="491.7" x2="41" y2="491.7" stroke="#231f20" stroke-width="0.9"/>
<text x="34.7" y="493.9" font-size="6.1" text-anchor="end" stroke="#231f20" stroke-width="0.05">100</text>
<line x1="38.1" y1="562.7" x2="111.2" y2="562.7" stroke="#231f20" stroke-width="1.3"/>
<line x1="49.6" y1="562.7" x2="49.6" y2="564.7" stroke="#231f20" stroke-width="1"/>
<line x1="67.3" y1="562.7" x2="67.3" y2="564.7" stroke="#231f20" stroke-width="1"/>
<line x1="85.2" y1="562.7" x2="85.2" y2="564.7" stroke="#231f20" stroke-width="1"/>
<line x1="103.1" y1="562.7" x2="103.1" y2="564.7" stroke="#231f20" stroke-width="1"/>
<rect x="43.8" y="493.12" width="5.2" height="69.58" fill="#b0102e"/>
<line x1="46.4" y1="492.69" x2="46.4" y2="493.12" stroke="#111" stroke-width="0.9"/>
<line x1="45.1" y1="492.69" x2="47.7" y2="492.69" stroke="#111" stroke-width="0.9"/>
<rect x="51" y="493.12" width="4.8" height="69.58" fill="#2d4d8e"/>
<line x1="53.4" y1="492.69" x2="53.4" y2="493.12" stroke="#111" stroke-width="0.9"/>
<line x1="52.1" y1="492.69" x2="54.7" y2="492.69" stroke="#111" stroke-width="0.9"/>
<rect x="62.1" y="532.17" width="4.8" height="30.53" fill="#b0102e"/>
<line x1="64.5" y1="529.69" x2="64.5" y2="532.17" stroke="#111" stroke-width="0.9"/>
<line x1="63.2" y1="529.69" x2="65.8" y2="529.69" stroke="#111" stroke-width="0.9"/>
<rect x="68.8" y="505.19" width="4.9" height="57.51" fill="#2d4d8e"/>
<line x1="71.25" y1="504.34" x2="71.25" y2="505.19" stroke="#111" stroke-width="0.9"/>
<line x1="69.95" y1="504.34" x2="72.55" y2="504.34" stroke="#111" stroke-width="0.9"/>
<rect x="80" y="517.26" width="4.8" height="45.44" fill="#b0102e"/>
<line x1="82.4" y1="516.55" x2="82.4" y2="517.26" stroke="#111" stroke-width="0.9"/>
<line x1="81.1" y1="516.55" x2="83.7" y2="516.55" stroke="#111" stroke-width="0.9"/>
<rect x="86.5" y="522.94" width="4.8" height="39.76" fill="#2d4d8e"/>
<line x1="88.9" y1="521.52" x2="88.9" y2="522.94" stroke="#111" stroke-width="0.9"/>
<line x1="87.6" y1="521.52" x2="90.2" y2="521.52" stroke="#111" stroke-width="0.9"/>
<rect x="97.7" y="559.15" width="4.2" height="3.55" fill="#b0102e"/>
<line x1="99.8" y1="558.8" x2="99.8" y2="559.15" stroke="#111" stroke-width="0.9"/>
<line x1="98.5" y1="558.8" x2="101.1" y2="558.8" stroke="#111" stroke-width="0.9"/>
<rect x="104.4" y="561.63" width="4.4" height="1.07" fill="#2d4d8e"/>
<line x1="106.6" y1="561.42" x2="106.6" y2="561.63" stroke="#111" stroke-width="0.9"/>
<line x1="105.3" y1="561.42" x2="107.9" y2="561.42" stroke="#111" stroke-width="0.9"/>
<line x1="62.1" y1="501.7" x2="72.7" y2="501.7" stroke="#3a3a3a" stroke-width="1.2"/>
<ellipse cx="63.2" cy="498.1" rx="0.95" ry="0.85" fill="#1a1a1a"/>
<ellipse cx="66" cy="498.1" rx="0.95" ry="0.85" fill="#1a1a1a"/>
<ellipse cx="68.8" cy="498.1" rx="0.95" ry="0.85" fill="#1a1a1a"/>
<ellipse cx="71.6" cy="498.1" rx="0.95" ry="0.85" fill="#1a1a1a"/>
<line x1="81.3" y1="512.3" x2="90.4" y2="512.3" stroke="#3a3a3a" stroke-width="1.2"/>
<ellipse cx="84.45" cy="508.7" rx="0.95" ry="0.85" fill="#1a1a1a"/>
<ellipse cx="87.25" cy="508.7" rx="0.95" ry="0.85" fill="#1a1a1a"/>
<line x1="98" y1="552.3" x2="108.3" y2="552.3" stroke="#3a3a3a" stroke-width="1.2"/>
<ellipse cx="98.95" cy="548.7" rx="0.95" ry="0.85" fill="#1a1a1a"/>
<ellipse cx="101.75" cy="548.7" rx="0.95" ry="0.85" fill="#1a1a1a"/>
<ellipse cx="104.55" cy="548.7" rx="0.95" ry="0.85" fill="#1a1a1a"/>
<ellipse cx="107.35" cy="548.7" rx="0.95" ry="0.85" fill="#1a1a1a"/>
<line x1="139.1" y1="489.1" x2="139.1" y2="563.2" stroke="#231f20" stroke-width="1.3"/>
<line x1="136.1" y1="562.7" x2="139.1" y2="562.7" stroke="#231f20" stroke-width="0.9"/>
<text x="132.8" y="564.9" font-size="6.1" text-anchor="end" stroke="#231f20" stroke-width="0.05">0</text>
<line x1="136.1" y1="548.5" x2="139.1" y2="548.5" stroke="#231f20" stroke-width="0.9"/>
<text x="132.8" y="550.7" font-size="6.1" text-anchor="end" stroke="#231f20" stroke-width="0.05">20</text>
<line x1="136.1" y1="534.3" x2="139.1" y2="534.3" stroke="#231f20" stroke-width="0.9"/>
<text x="132.8" y="536.5" font-size="6.1" text-anchor="end" stroke="#231f20" stroke-width="0.05">40</text>
<line x1="136.1" y1="520.1" x2="139.1" y2="520.1" stroke="#231f20" stroke-width="0.9"/>
<text x="132.8" y="522.3" font-size="6.1" text-anchor="end" stroke="#231f20" stroke-width="0.05">60</text>
<line x1="136.1" y1="505.9" x2="139.1" y2="505.9" stroke="#231f20" stroke-width="0.9"/>
<text x="132.8" y="508.1" font-size="6.1" text-anchor="end" stroke="#231f20" stroke-width="0.05">80</text>
<line x1="136.2" y1="491.7" x2="139.2" y2="491.7" stroke="#231f20" stroke-width="0.9"/>
<text x="118.8" y="494.7" font-size="8.5" textLength="13.9" lengthAdjust="spacingAndGlyphs" stroke="#231f20" stroke-width="0.2">100</text>
<line x1="137.1" y1="562.7" x2="209.9" y2="562.7" stroke="#231f20" stroke-width="1.3"/>
<line x1="148.1" y1="562.7" x2="148.1" y2="564.7" stroke="#231f20" stroke-width="1"/>
<line x1="165.6" y1="562.7" x2="165.6" y2="564.7" stroke="#231f20" stroke-width="1"/>
<line x1="183.6" y1="562.7" x2="183.6" y2="564.7" stroke="#231f20" stroke-width="1"/>
<line x1="201.4" y1="562.7" x2="201.4" y2="564.7" stroke="#231f20" stroke-width="1"/>
<rect x="142.7" y="503.06" width="4.2" height="59.64" fill="#b0102e"/>
<line x1="144.8" y1="501.64" x2="144.8" y2="503.06" stroke="#111" stroke-width="0.9"/>
<line x1="143.5" y1="501.64" x2="146.1" y2="501.64" stroke="#111" stroke-width="0.9"/>
<rect x="149.4" y="500.93" width="4.3" height="61.77" fill="#2d4d8e"/>
<line x1="151.55" y1="499.65" x2="151.55" y2="500.93" stroke="#111" stroke-width="0.9"/>
<line x1="150.25" y1="499.65" x2="152.85" y2="499.65" stroke="#111" stroke-width="0.9"/>
<rect x="160.4" y="537.85" width="4.4" height="24.85" fill="#b0102e"/>
<line x1="162.6" y1="537" x2="162.6" y2="537.85" stroke="#111" stroke-width="0.9"/>
<line x1="161.3" y1="537" x2="163.9" y2="537" stroke="#111" stroke-width="0.9"/>
<rect x="167.1" y="517.97" width="4.4" height="44.73" fill="#2d4d8e"/>
<line x1="169.3" y1="516.69" x2="169.3" y2="517.97" stroke="#111" stroke-width="0.9"/>
<line x1="168" y1="516.69" x2="170.6" y2="516.69" stroke="#111" stroke-width="0.9"/>
<rect x="178.3" y="502.35" width="4.4" height="60.35" fill="#b0102e"/>
<line x1="180.5" y1="501.29" x2="180.5" y2="502.35" stroke="#111" stroke-width="0.9"/>
<line x1="179.2" y1="501.29" x2="181.8" y2="501.29" stroke="#111" stroke-width="0.9"/>
<rect x="185" y="505.9" width="4.2" height="56.8" fill="#2d4d8e"/>
<line x1="187.1" y1="505.19" x2="187.1" y2="505.9" stroke="#111" stroke-width="0.9"/>
<line x1="185.8" y1="505.19" x2="188.4" y2="505.19" stroke="#111" stroke-width="0.9"/>
<rect x="195.7" y="561.28" width="4.2" height="1.42" fill="#b0102e"/>
<line x1="197.8" y1="561.07" x2="197.8" y2="561.28" stroke="#111" stroke-width="0.9"/>
<line x1="196.5" y1="561.07" x2="199.1" y2="561.07" stroke="#111" stroke-width="0.9"/>
<rect x="202.4" y="562.27" width="4.2" height="0.43" fill="#2d4d8e"/>
<line x1="204.5" y1="562.13" x2="204.5" y2="562.27" stroke="#111" stroke-width="0.9"/>
<line x1="203.2" y1="562.13" x2="205.8" y2="562.13" stroke="#111" stroke-width="0.9"/>
<line x1="161" y1="514.6" x2="170" y2="514.6" stroke="#3a3a3a" stroke-width="1.2"/>
<ellipse cx="162.7" cy="511" rx="0.95" ry="0.85" fill="#1a1a1a"/>
<ellipse cx="165.5" cy="511" rx="0.95" ry="0.85" fill="#1a1a1a"/>
<ellipse cx="168.3" cy="511" rx="0.95" ry="0.85" fill="#1a1a1a"/>
<line x1="178.8" y1="498.8" x2="187.9" y2="498.8" stroke="#3a3a3a" stroke-width="1.2"/>
<ellipse cx="183.35" cy="495.2" rx="0.95" ry="0.85" fill="#1a1a1a"/>
<line x1="196.3" y1="556.4" x2="205.6" y2="556.4" stroke="#3a3a3a" stroke-width="1.2"/>
<ellipse cx="200.95" cy="552.8" rx="0.95" ry="0.85" fill="#1a1a1a"/>
<text x="0" y="0" font-size="6.7" text-anchor="end" transform="translate(53.1 571.6) rotate(-45)">IFNγ</text>
<text x="0" y="0" font-size="6.7" text-anchor="end" transform="translate(70.8 571.6) rotate(-45)">IL-2</text>
<text x="0" y="0" font-size="6.7" text-anchor="end" transform="translate(88.7 571.6) rotate(-45)">TNFα</text>
<text x="0" y="0" font-size="6.7" text-anchor="end" transform="translate(106.6 571.6) rotate(-45)">GzmB</text>
<text x="0" y="0" font-size="6.7" text-anchor="end" transform="translate(151.6 571.6) rotate(-45)">IFNγ</text>
<text x="0" y="0" font-size="6.7" text-anchor="end" transform="translate(169.1 571.6) rotate(-45)">IL-2</text>
<text x="0" y="0" font-size="6.7" text-anchor="end" transform="translate(187.1 571.6) rotate(-45)">TNFα</text>
<text x="0" y="0" font-size="6.7" text-anchor="end" transform="translate(204.9 571.6) rotate(-45)">GzmB</text>
<rect x="33.1" y="590.1" width="8" height="6.1" fill="#b0102e"/>
<text x="44.2" y="595.5" font-size="6.5" textLength="31.5" lengthAdjust="spacingAndGlyphs" stroke="#231f20" stroke-width="0.12">WT CAR-T</text>
<rect x="33.1" y="598.8" width="8" height="6.2" fill="#2d4d8e"/>
<text x="44.2" y="603.9" font-size="6.5" textLength="30.4" lengthAdjust="spacingAndGlyphs" stroke="#231f20" stroke-width="0.12">KO CAR-T</text>
<text x="289.5" y="464.9" font-size="8.8" textLength="8.5" lengthAdjust="spacingAndGlyphs" stroke="#231f20" stroke-width="0.2">1°</text>
<text x="280.4" y="475.5" font-size="8.8" textLength="26.7" lengthAdjust="spacingAndGlyphs" stroke="#231f20" stroke-width="0.2">Day 21</text>
<text x="349.5" y="464.8" font-size="8.8" textLength="8.5" lengthAdjust="spacingAndGlyphs" stroke="#231f20" stroke-width="0.2">2°</text>
<text x="342.9" y="476" font-size="8.8" textLength="22.4" lengthAdjust="spacingAndGlyphs" stroke="#231f20" stroke-width="0.2">Day 5</text>
<text x="232.8" y="500.4" font-size="8.2" textLength="13.4" lengthAdjust="spacingAndGlyphs" stroke="#231f20" stroke-width="0.2">WT</text>
<text x="226.6" y="511" font-size="8.2" textLength="24.5" lengthAdjust="spacingAndGlyphs" stroke="#231f20" stroke-width="0.2">CAR-T</text>
<text x="233.2" y="549.3" font-size="8.2" textLength="12.7" lengthAdjust="spacingAndGlyphs" stroke="#231f20" stroke-width="0.2">KO</text>
<text x="226.6" y="560.2" font-size="8.2" textLength="24.5" lengthAdjust="spacingAndGlyphs" stroke="#231f20" stroke-width="0.2">CAR-T</text>
<line x1="263.6" y1="554.2" x2="263.6" y2="528" stroke="#1a1a1a" stroke-width="1.3"/>
<path d="M263.6 524 L261.4 529 L265.8 529 Z" fill="#1a1a1a"/>
<line x1="286.4" y1="580.8" x2="313.7" y2="580.8" stroke="#1a1a1a" stroke-width="1.3"/>
<path d="M317.7 580.8 L312.7 578.6 L312.7 583 Z" fill="#1a1a1a"/>
<rect x="271.7" y="481.3" width="44.1" height="43.9" fill="none" stroke="#9a9a9a" stroke-width="0.9"/>
<line x1="271.7" y1="485.19" x2="271.7" y2="486.19" stroke="#555" stroke-width="1"/>
<line x1="271.7" y1="494.41" x2="271.7" y2="495.41" stroke="#555" stroke-width="1"/>
<line x1="271.7" y1="504.95" x2="271.7" y2="505.95" stroke="#555" stroke-width="1"/>
<line x1="271.7" y1="520.31" x2="271.7" y2="521.31" stroke="#555" stroke-width="1"/>
<line x1="271.7" y1="511.59" x2="271.7" y2="514.23" stroke="#222" stroke-width="1.4"/>
<line x1="272.7" y1="526.1" x2="314.8" y2="526.1" stroke="#8a8a8a" stroke-width="0.7" stroke-dasharray="3.2 1.3"/>
<line x1="273.2" y1="526.1" x2="277.2" y2="526.1" stroke="#222" stroke-width="1"/>
<rect x="284.4" y="489.4" width="22.7" height="24.3" fill="none" stroke="#555" stroke-width="0.7"/>
<line x1="284.4" y1="501.8" x2="307.1" y2="501.8" stroke="#555" stroke-width="0.7"/>
<text x="314.8" y="487.5" font-size="5.4" text-anchor="end" stroke="#231f20" stroke-width="0.05">91.6</text>
<text x="314.8" y="522.4" font-size="5.4" text-anchor="end" stroke="#231f20" stroke-width="0.05">7.8</text>
<rect x="331.6" y="481.6" width="44.5" height="43.4" fill="none" stroke="#9a9a9a" stroke-width="0.9"/>
<line x1="331.6" y1="485.44" x2="331.6" y2="486.44" stroke="#555" stroke-width="1"/>
<line x1="331.6" y1="494.55" x2="331.6" y2="495.55" stroke="#555" stroke-width="1"/>
<line x1="331.6" y1="504.97" x2="331.6" y2="505.97" stroke="#555" stroke-width="1"/>
<line x1="331.6" y1="520.16" x2="331.6" y2="521.16" stroke="#555" stroke-width="1"/>
<line x1="331.6" y1="511.55" x2="331.6" y2="514.15" stroke="#222" stroke-width="1.4"/>
<line x1="332.6" y1="525.9" x2="375.1" y2="525.9" stroke="#8a8a8a" stroke-width="0.7" stroke-dasharray="3.2 1.3"/>
<line x1="333.1" y1="525.9" x2="337.1" y2="525.9" stroke="#222" stroke-width="1"/>
<rect x="344.3" y="489.6" width="23" height="24" fill="none" stroke="#555" stroke-width="0.7"/>
<line x1="344.3" y1="501.7" x2="367.3" y2="501.7" stroke="#555" stroke-width="0.7"/>
<text x="375.1" y="487.8" font-size="5.4" text-anchor="end" stroke="#231f20" stroke-width="0.05">20.8</text>
<text x="375.1" y="522.2" font-size="5.4" text-anchor="end" stroke="#231f20" stroke-width="0.05">78.7</text>
<rect x="270.8" y="530.3" width="45" height="44.7" fill="none" stroke="#9a9a9a" stroke-width="0.9"/>
<line x1="270.8" y1="534.27" x2="270.8" y2="535.27" stroke="#555" stroke-width="1"/>
<line x1="270.8" y1="543.66" x2="270.8" y2="544.66" stroke="#555" stroke-width="1"/>
<line x1="270.8" y1="554.38" x2="270.8" y2="555.38" stroke="#555" stroke-width="1"/>
<line x1="270.8" y1="570.03" x2="270.8" y2="571.03" stroke="#555" stroke-width="1"/>
<line x1="270.8" y1="561.14" x2="270.8" y2="563.83" stroke="#222" stroke-width="1.4"/>
<line x1="271.8" y1="575.9" x2="314.8" y2="575.9" stroke="#8a8a8a" stroke-width="0.7" stroke-dasharray="3.2 1.3"/>
<line x1="272.3" y1="575.9" x2="276.3" y2="575.9" stroke="#222" stroke-width="1"/>
<rect x="284" y="538.7" width="22.9" height="24" fill="none" stroke="#555" stroke-width="0.7"/>
<line x1="284" y1="550.2" x2="306.9" y2="550.2" stroke="#555" stroke-width="0.7"/>
<text x="314.8" y="536.5" font-size="5.4" text-anchor="end" stroke="#231f20" stroke-width="0.05">97.4</text>
<text x="314.8" y="572.2" font-size="5.4" text-anchor="end" stroke="#231f20" stroke-width="0.05">2.4</text>
<rect x="330.9" y="530.3" width="44.5" height="44.7" fill="none" stroke="#9a9a9a" stroke-width="0.9"/>
<line x1="330.9" y1="534.27" x2="330.9" y2="535.27" stroke="#555" stroke-width="1"/>
<line x1="330.9" y1="543.66" x2="330.9" y2="544.66" stroke="#555" stroke-width="1"/>
<line x1="330.9" y1="554.38" x2="330.9" y2="555.38" stroke="#555" stroke-width="1"/>
<line x1="330.9" y1="570.03" x2="330.9" y2="571.03" stroke="#555" stroke-width="1"/>
<line x1="330.9" y1="561.14" x2="330.9" y2="563.83" stroke="#222" stroke-width="1.4"/>
<line x1="331.9" y1="575.9" x2="374.4" y2="575.9" stroke="#8a8a8a" stroke-width="0.7" stroke-dasharray="3.2 1.3"/>
<line x1="332.4" y1="575.9" x2="336.4" y2="575.9" stroke="#222" stroke-width="1"/>
<rect x="343.7" y="538.7" width="22.6" height="24" fill="none" stroke="#555" stroke-width="0.7"/>
<line x1="343.7" y1="550.2" x2="366.3" y2="550.2" stroke="#555" stroke-width="0.7"/>
<text x="374.4" y="536.5" font-size="5.4" text-anchor="end" stroke="#231f20" stroke-width="0.05">41.8</text>
<text x="374.4" y="572.2" font-size="5.4" text-anchor="end" stroke="#231f20" stroke-width="0.05">57.6</text>
<ellipse cx="292.3" cy="497.6" rx="3" ry="2.6" fill="#000" opacity="0.95" filter="url(#bl5)" transform="rotate(-25 292.3 497.6)"/>
<path d="M289.2 497.9h0M296.8 498.3h0M295.0 500.8h0M292.1 495.2h0M293.0 497.7h0M294.1 500.1h0M293.6 498.2h0M289.6 497.5h0M295.4 498.2h0M293.0 498.3h0M291.1 498.6h0M294.4 500.4h0M291.9 498.6h0M295.4 499.2h0M287.1 498.4h0M291.3 494.4h0M293.9 496.5h0M293.7 496.6h0M294.0 498.2h0M294.2 497.4h0M296.1 497.6h0M294.2 499.0h0M294.8 497.4h0M292.2 498.5h0M296.2 499.4h0M291.3 501.1h0M295.5 497.8h0M294.5 497.3h0M291.2 492.6h0M290.7 495.3h0M293.1 498.4h0M296.1 500.0h0M296.4 497.9h0M293.4 499.6h0M295.7 495.3h0M296.0 498.4h0M289.6 495.6h0M289.0 495.8h0M295.8 497.2h0M294.1 500.1h0M294.2 497.5h0M286.4 497.9h0M295.4 496.3h0M297.2 496.8h0M291.6 497.9h0M291.6 497.3h0M290.9 499.4h0M294.5 495.6h0M285.2 496.9h0M291.5 497.6h0M293.5 498.2h0M293.7 500.7h0M295.1 501.2h0M288.4 494.0h0M287.7 498.5h0M292.0 497.3h0M291.6 496.4h0M291.0 498.3h0M295.6 499.6h0M293.4 497.7h0M291.3 497.1h0M289.0 497.3h0M287.6 498.5h0M292.4 499.5h0M295.0 498.6h0M292.1 498.1h0" stroke="#000" stroke-width="0.6" stroke-linecap="round" opacity="0.4" fill="none"/>
<path d="M293.8 496.4h0M291.5 498.2h0M294.3 495.5h0M291.9 498.6h0M288.2 497.6h0M297.4 493.0h0M293.6 498.2h0M300.3 503.9h0M300.1 499.9h0M289.1 497.2h0M291.1 499.4h0M293.1 495.4h0M286.9 498.9h0M290.3 499.9h0M296.1 498.4h0M287.6 497.4h0M290.5 497.1h0M291.7 496.3h0M292.7 495.4h0M292.1 493.9h0M290.6 495.1h0M294.1 497.2h0M286.5 495.7h0M292.8 496.4h0M288.4 496.4h0M293.7 497.3h0M293.2 498.8h0M295.4 498.6h0M288.8 499.9h0M291.9 497.3h0M293.8 498.1h0M294.5 499.7h0M289.9 495.0h0M298.6 497.0h0M296.5 497.8h0M290.9 499.8h0M296.6 500.1h0M290.2 497.0h0M289.0 499.5h0M291.1 494.6h0M298.2 498.5h0M293.3 496.4h0M294.9 498.1h0M292.7 498.1h0M295.4 496.1h0M290.2 499.0h0M291.8 499.6h0M292.5 499.8h0M291.5 498.0h0M290.7 497.5h0M290.1 497.4h0M293.0 497.6h0M294.9 499.2h0M289.3 499.3h0M291.9 498.5h0M294.7 496.4h0M290.6 499.0h0M287.3 496.4h0M290.2 500.2h0M288.0 498.6h0M290.9 496.8h0M291.8 499.0h0M291.6 495.4h0M291.5 498.3h0M292.1 500.7h0M291.7 498.1h0" stroke="#000" stroke-width="0.6" stroke-linecap="round" opacity="0.4" fill="none"/>
<path d="M292.3 496.1h0M293.4 496.0h0M294.8 498.0h0M297.1 499.1h0M290.6 497.3h0M290.3 498.3h0M290.6 495.9h0M293.5 497.9h0M291.8 499.6h0M293.2 497.6h0M290.9 497.1h0M287.4 499.2h0M291.4 498.1h0M293.4 496.3h0M291.8 497.6h0M291.8 497.2h0M293.5 497.0h0M290.5 499.8h0M289.1 501.2h0M294.6 498.0h0M289.0 500.6h0M291.6 497.0h0M291.6 501.7h0M295.4 497.4h0M286.8 496.8h0M293.8 496.0h0M295.3 500.5h0M291.0 496.8h0M290.1 497.7h0M292.8 495.5h0M291.5 496.4h0M295.4 496.6h0M291.5 498.0h0M293.9 496.0h0M292.5 497.7h0M292.3 500.3h0M288.1 495.7h0M292.6 498.2h0M286.5 498.8h0M292.4 498.0h0M294.4 498.4h0M290.7 497.5h0M287.7 494.2h0M292.0 498.8h0M292.4 498.4h0M291.6 500.8h0M292.5 497.6h0M294.4 496.1h0M288.2 499.4h0M290.6 499.6h0M293.7 500.3h0M292.1 497.8h0M292.4 497.1h0M291.0 496.1h0M296.2 498.3h0M289.8 496.8h0M297.4 501.0h0M293.4 497.2h0M289.5 499.8h0M287.2 500.2h0M288.4 498.6h0M294.1 497.1h0M293.1 498.7h0M292.5 499.8h0M291.6 495.3h0M292.8 498.4h0" stroke="#000" stroke-width="0.6" stroke-linecap="round" opacity="0.4" fill="none"/>
<path d="M293.5 508.5h0M294.0 504.5h0M292.2 503.8h0M293.6 508.0h0M290.0 504.2h0M292.7 505.3h0M293.9 505.2h0M293.0 506.2h0M289.4 506.6h0M291.6 504.6h0M291.6 508.6h0M291.6 510.7h0M289.8 508.1h0M293.0 501.0h0M291.5 507.0h0M291.2 503.2h0M293.7 506.2h0M290.8 507.1h0M291.3 504.2h0M288.0 505.2h0M292.6 508.3h0M291.9 504.0h0M292.3 505.0h0M292.7 506.2h0M290.4 504.6h0M288.6 508.8h0M291.0 503.1h0M290.6 507.4h0M291.2 506.9h0M289.5 506.0h0M292.1 507.0h0M294.4 507.8h0M294.4 505.4h0M290.4 508.8h0M288.8 507.5h0M291.3 503.4h0" stroke="#000" stroke-width="0.6" stroke-linecap="round" opacity="0.3" fill="none"/>
<path d="M289.2 506.6h0M295.6 503.5h0M290.6 506.1h0M292.4 505.7h0M291.2 510.6h0M286.3 500.9h0M292.3 503.8h0M290.6 509.6h0M291.6 507.4h0M290.2 504.5h0M291.1 504.0h0M292.6 509.3h0M291.5 510.3h0M293.3 505.9h0M290.8 504.9h0M290.1 504.8h0M291.5 502.6h0M294.7 505.3h0M295.8 502.8h0M291.7 508.3h0M292.0 508.0h0M293.5 506.9h0M291.0 504.6h0M291.4 507.0h0M290.4 508.1h0M289.9 508.9h0M288.5 509.3h0M292.8 501.2h0M292.1 506.9h0M289.8 505.8h0M291.7 510.0h0M293.1 510.0h0M292.1 502.3h0M290.3 507.0h0M290.8 504.1h0M290.4 508.0h0" stroke="#000" stroke-width="0.6" stroke-linecap="round" opacity="0.3" fill="none"/>
<path d="M291.4 503.7h0M291.9 505.4h0M292.4 509.3h0M294.9 507.6h0M292.1 504.1h0M292.3 507.6h0M290.5 512.0h0M292.1 505.8h0M292.0 504.6h0M293.3 506.9h0M291.6 508.5h0M292.6 510.5h0M290.6 507.2h0M291.1 507.7h0M290.1 505.7h0M290.7 500.8h0M290.3 505.6h0M290.1 505.4h0M290.8 506.3h0M290.5 507.3h0M289.4 504.5h0M289.2 503.7h0M293.9 502.2h0M292.2 503.6h0M292.3 509.0h0M292.2 501.2h0M294.5 504.6h0M289.5 508.0h0M291.3 507.1h0M292.4 511.2h0M292.6 508.9h0M292.7 520.6h0M292.6 509.3h0M288.4 503.0h0M293.2 507.4h0M290.0 508.1h0" stroke="#000" stroke-width="0.6" stroke-linecap="round" opacity="0.3" fill="none"/>
<ellipse cx="350.9" cy="507" rx="2.8" ry="2" fill="#000" opacity="0.95" filter="url(#bl2)"/>
<path d="M350.1 509.2h0M349.9 510.2h0M350.4 507.9h0M350.1 505.7h0M349.3 506.2h0M350.7 506.9h0M352.5 504.3h0M351.2 508.6h0M349.0 510.5h0M351.4 506.7h0M353.9 506.6h0M347.8 510.0h0M350.3 509.5h0M351.3 508.5h0M346.8 505.5h0M349.7 507.3h0M351.9 506.2h0M351.6 505.2h0M351.8 507.0h0M355.8 506.0h0M352.8 506.4h0M353.9 505.5h0M350.6 507.7h0M350.7 508.0h0M350.2 508.0h0M350.6 507.2h0M350.3 506.9h0M353.0 507.3h0M349.4 506.7h0M354.4 506.5h0M352.7 506.7h0M347.8 508.4h0M351.1 508.6h0M354.8 506.8h0M347.7 509.0h0M348.1 506.8h0M349.5 508.8h0M353.3 506.7h0M348.9 505.0h0M349.9 505.7h0M349.9 507.9h0M349.6 506.7h0M350.2 508.4h0M353.2 506.7h0M348.8 508.1h0M348.4 506.7h0M351.3 508.0h0M350.7 507.4h0M349.9 506.7h0M348.1 507.6h0" stroke="#000" stroke-width="0.6" stroke-linecap="round" opacity="0.4" fill="none"/>
<path d="M351.6 504.8h0M349.3 506.6h0M348.6 508.7h0M351.8 506.9h0M351.4 506.8h0M348.0 507.9h0M352.5 506.8h0M350.8 507.1h0M347.7 504.8h0M350.3 510.1h0M349.4 507.8h0M352.0 511.5h0M342.7 506.9h0M350.3 508.5h0M350.5 504.7h0M349.3 508.8h0M353.0 506.2h0M349.6 505.5h0M349.4 505.3h0M350.0 508.6h0M351.8 505.2h0M351.7 508.4h0M349.4 507.5h0M350.0 506.7h0M350.5 506.0h0M353.0 507.4h0M348.5 508.1h0M351.4 507.1h0M353.6 505.9h0M350.7 507.8h0M351.0 505.5h0M350.3 509.3h0M347.4 508.8h0M352.1 507.1h0M350.6 506.4h0M346.8 509.3h0M353.0 506.1h0M353.4 507.4h0M350.0 504.1h0M350.5 506.6h0M349.0 506.2h0M354.5 508.2h0M350.1 508.6h0M352.5 508.7h0M353.8 505.5h0M349.0 508.2h0M347.9 510.0h0M355.2 506.9h0M348.5 504.2h0M353.9 505.7h0" stroke="#000" stroke-width="0.6" stroke-linecap="round" opacity="0.4" fill="none"/>
<path d="M348.9 508.8h0M350.8 508.0h0M356.6 504.2h0M347.5 506.9h0M348.5 507.7h0M350.9 508.4h0M350.0 506.1h0M353.3 505.1h0M351.0 506.0h0M352.6 504.7h0M345.0 507.5h0M350.9 509.5h0M348.3 507.6h0M350.3 507.5h0M351.1 505.4h0M352.2 505.0h0M351.4 506.9h0M347.5 507.8h0M353.0 508.2h0M350.6 505.6h0M350.3 509.7h0M349.8 509.4h0M351.7 505.1h0M346.5 504.1h0M348.2 507.5h0M350.4 508.3h0M352.9 503.5h0M348.8 507.0h0M348.0 504.1h0M348.2 508.8h0M351.2 505.4h0M353.0 507.6h0M350.2 509.4h0M349.4 505.3h0M349.6 505.2h0M348.9 506.9h0M349.5 506.0h0M351.5 507.8h0M347.3 507.6h0M349.4 507.2h0M349.2 506.1h0M351.1 508.0h0M350.4 507.7h0M345.1 508.3h0M346.4 509.3h0M348.9 507.4h0M352.1 508.4h0M352.6 508.1h0M349.3 506.2h0M351.2 505.5h0" stroke="#000" stroke-width="0.6" stroke-linecap="round" opacity="0.4" fill="none"/>
<ellipse cx="350.5" cy="497" rx="1.3" ry="1.6" fill="#000" opacity="0.45" filter="url(#bl0)"/>
<path d="M351.5 498.4h0M350.8 496.2h0M351.8 496.2h0M349.8 495.4h0M350.2 494.6h0M349.8 497.0h0M350.2 499.0h0M349.9 494.5h0M349.7 495.1h0M350.5 497.8h0M350.0 495.1h0M349.8 499.1h0M351.3 495.9h0M349.7 497.8h0M345.7 495.9h0M351.5 496.3h0M350.8 496.3h0M353.0 505.5h0M353.2 500.2h0M346.4 499.6h0M350.9 501.5h0M349.1 498.0h0M350.1 499.5h0M351.6 495.7h0M351.4 493.9h0M354.0 495.7h0M349.1 501.8h0M352.0 498.0h0M346.8 495.8h0M352.8 491.3h0M350.6 497.4h0M352.1 499.1h0M352.5 499.1h0M350.7 499.4h0M350.2 497.4h0M351.7 496.8h0M347.3 499.1h0M346.6 503.1h0M351.9 498.5h0M350.8 498.1h0" stroke="#000" stroke-width="0.6" stroke-linecap="round" opacity="0.3" fill="none"/>
<path d="M350.7 498.3h0M351.7 498.5h0M349.8 495.7h0M349.5 500.5h0M350.5 497.5h0M351.0 500.7h0M349.3 498.2h0M351.1 492.6h0M348.6 498.4h0M350.0 500.5h0M353.0 499.0h0M349.5 496.3h0M349.1 497.6h0M351.2 497.5h0M351.9 498.8h0M354.1 498.9h0M352.2 496.8h0M350.0 496.8h0M350.5 492.9h0M350.1 496.3h0M350.0 497.5h0M352.2 499.5h0M352.6 503.0h0M350.3 494.0h0M350.9 496.8h0M350.9 500.9h0M351.5 496.6h0M352.7 495.4h0M348.7 500.5h0M350.3 495.7h0M353.7 500.1h0M351.4 497.7h0M351.1 495.5h0M349.4 496.6h0M349.7 498.2h0M350.3 495.6h0M349.9 495.2h0M346.6 496.4h0M350.5 500.5h0M350.7 497.5h0" stroke="#000" stroke-width="0.6" stroke-linecap="round" opacity="0.3" fill="none"/>
<path d="M351.2 498.9h0M345.4 497.5h0M348.2 501.6h0M353.6 500.0h0M351.3 497.3h0M348.6 497.2h0M347.8 497.8h0M352.5 497.1h0M352.2 500.7h0M351.6 495.9h0M351.0 495.7h0M351.8 494.4h0M353.2 497.9h0M350.6 500.1h0M352.0 493.6h0M350.1 496.1h0M350.6 497.5h0M351.1 498.8h0M350.1 496.8h0M349.6 498.2h0M349.0 497.1h0M351.7 499.0h0M352.1 499.0h0M349.8 496.8h0M352.2 499.1h0M349.5 497.2h0M353.0 501.3h0M349.2 493.3h0M349.2 496.3h0M350.2 496.5h0M351.7 499.8h0M348.2 497.9h0M350.3 498.3h0M352.2 495.8h0M350.7 493.8h0M353.0 496.3h0M351.3 499.1h0M347.7 495.0h0M350.0 498.9h0M351.9 499.5h0" stroke="#000" stroke-width="0.6" stroke-linecap="round" opacity="0.3" fill="none"/>
<ellipse cx="292.6" cy="546" rx="3.2" ry="2.2" fill="#000" opacity="0.95" filter="url(#bl2)" transform="rotate(-10 292.6 546)"/>
<path d="M289.9 547.6h0M292.0 545.8h0M291.2 542.9h0M289.7 543.5h0M291.6 545.4h0M291.7 543.2h0M293.2 547.9h0M292.6 545.4h0M293.6 548.8h0M294.4 545.1h0M291.5 546.6h0M295.0 546.4h0M294.2 546.5h0M294.1 544.9h0M296.4 544.5h0M290.1 545.4h0M287.6 543.6h0M295.7 544.6h0M293.7 545.1h0M287.2 544.2h0M294.5 544.3h0M291.6 548.4h0M295.3 544.6h0M290.7 544.7h0M286.3 545.7h0M294.5 546.6h0M293.4 545.4h0M293.3 547.6h0M294.7 547.7h0M292.6 545.6h0M292.3 550.2h0M292.3 545.9h0M289.2 543.6h0M296.1 547.2h0M294.1 549.4h0M292.1 546.7h0M296.1 547.2h0M294.4 548.5h0M294.5 546.1h0M292.3 543.9h0M295.4 548.5h0M291.1 546.0h0M292.4 550.5h0M291.4 550.4h0M293.6 543.5h0M297.4 546.8h0M292.7 545.1h0M292.2 545.9h0M292.1 545.2h0M286.7 543.3h0M294.6 552.3h0M292.9 546.8h0M295.2 548.3h0M293.6 542.7h0M293.4 547.6h0M289.9 549.5h0" stroke="#000" stroke-width="0.6" stroke-linecap="round" opacity="0.4" fill="none"/>
<path d="M291.4 545.3h0M292.1 547.8h0M293.2 545.4h0M293.5 548.9h0M291.7 543.4h0M292.4 546.2h0M291.2 545.5h0M293.2 547.9h0M293.2 548.5h0M293.6 546.4h0M294.1 544.0h0M290.6 543.8h0M290.3 545.1h0M292.7 546.9h0M291.1 547.0h0M293.5 545.1h0M293.4 545.3h0M292.9 546.8h0M292.8 546.6h0M294.2 543.2h0M293.0 546.4h0M291.1 547.2h0M290.6 545.9h0M295.3 547.9h0M294.2 546.5h0M292.3 548.0h0M292.5 547.0h0M293.1 545.4h0M293.7 544.3h0M296.2 545.0h0M291.8 548.0h0M294.3 544.3h0M287.8 545.9h0M293.6 546.9h0M297.8 548.7h0M293.3 544.5h0M293.3 549.5h0M289.5 547.7h0M295.2 546.2h0M293.7 544.7h0M290.7 546.4h0M292.9 544.7h0M292.2 546.9h0M293.2 543.7h0M293.8 547.9h0M293.3 544.1h0M293.0 546.7h0M294.3 546.3h0M291.5 543.8h0M294.3 545.7h0M294.1 547.2h0M295.5 545.7h0M297.3 547.4h0M292.8 545.1h0M294.5 547.7h0M289.3 545.1h0" stroke="#000" stroke-width="0.6" stroke-linecap="round" opacity="0.4" fill="none"/>
<path d="M294.5 547.6h0M290.5 546.7h0M295.3 548.0h0M291.3 544.1h0M294.3 549.5h0M290.9 546.5h0M294.9 546.0h0M294.8 547.7h0M292.8 547.6h0M291.1 544.9h0M295.1 548.8h0M293.2 544.7h0M295.2 544.8h0M289.0 545.8h0M292.2 542.0h0M291.2 549.4h0M294.5 545.1h0M294.1 545.9h0M293.5 547.4h0M288.4 548.8h0M289.3 549.7h0M287.6 546.6h0M296.9 545.1h0M293.4 546.3h0M293.7 545.0h0M292.8 544.2h0M294.6 547.7h0M291.4 542.9h0M293.6 545.0h0M290.3 548.6h0M294.9 547.0h0M293.3 546.3h0M292.5 546.2h0M295.0 545.0h0M287.1 545.2h0M292.0 546.5h0M293.5 543.9h0M294.3 548.2h0M292.7 551.6h0M293.0 547.2h0M294.0 545.7h0M293.6 547.1h0M291.1 546.8h0M292.7 547.5h0M293.0 546.7h0M300.2 546.4h0M287.8 546.6h0M291.8 547.7h0M292.3 546.7h0M293.6 547.1h0M295.1 547.5h0M289.1 546.0h0M292.4 543.4h0M292.8 546.7h0M291.3 547.2h0M294.7 549.3h0" stroke="#000" stroke-width="0.6" stroke-linecap="round" opacity="0.4" fill="none"/>
<path d="M293.2 550.3h0M291.8 561.2h0M287.8 550.9h0M287.2 558.4h0M293.7 552.9h0M291.6 555.2h0M287.6 553.3h0M291.6 562.9h0M291.8 557.2h0M292.8 554.0h0M292.7 550.2h0M290.4 556.7h0M293.5 553.3h0M291.9 558.4h0M288.3 552.7h0M288.6 556.6h0M289.2 556.3h0M295.1 549.0h0M290.2 551.6h0M291.3 558.4h0M293.2 545.2h0M292.0 556.0h0M291.5 552.3h0" stroke="#000" stroke-width="0.6" stroke-linecap="round" opacity="0.22" fill="none"/>
<path d="M289.1 552.9h0M291.0 557.7h0M291.9 552.3h0M290.0 554.3h0M289.5 549.7h0M292.0 556.9h0M291.9 557.8h0M293.3 553.0h0M290.5 556.2h0M289.3 553.4h0M290.6 561.3h0M289.9 553.4h0M291.2 554.5h0M296.6 552.5h0M294.3 556.1h0M288.9 557.1h0M290.6 559.4h0M289.4 555.6h0M293.1 551.7h0M292.1 547.6h0M290.6 553.2h0M288.8 561.1h0M289.7 561.4h0" stroke="#000" stroke-width="0.6" stroke-linecap="round" opacity="0.22" fill="none"/>
<path d="M291.3 552.2h0M291.4 555.2h0M290.5 556.9h0M287.9 556.9h0M288.7 559.3h0M287.0 557.1h0M291.9 554.4h0M291.7 553.5h0M291.4 556.2h0M288.4 535.8h0M290.3 549.9h0M295.6 559.0h0M292.3 555.8h0M292.1 557.8h0M292.9 556.9h0M291.3 554.8h0M293.3 556.7h0M288.9 561.9h0M290.0 551.4h0M289.3 547.7h0M292.1 552.7h0M289.2 550.2h0M291.9 558.3h0" stroke="#000" stroke-width="0.6" stroke-linecap="round" opacity="0.22" fill="none"/>
<ellipse cx="350.9" cy="544.3" rx="2.7" ry="2.5" fill="#000" opacity="0.95" filter="url(#bl5)"/>
<ellipse cx="351" cy="549.3" rx="1.6" ry="2.5" fill="#000" opacity="0.8" filter="url(#bl3)"/>
<ellipse cx="351.1" cy="554.5" rx="3" ry="2.4" fill="#000" opacity="0.95" filter="url(#bl5)"/>
<path d="M337.6 547.6h0M349.7 550.5h0M346.8 542.6h0M348.0 546.2h0M352.7 548.1h0M353.3 545.6h0M353.0 556.0h0M351.6 550.9h0M348.4 552.7h0M348.5 551.8h0M348.3 554.8h0M350.8 557.0h0M350.1 544.0h0M351.5 552.5h0M349.2 546.3h0M349.2 549.2h0M347.0 553.5h0M350.4 554.4h0M351.9 548.2h0M353.1 549.4h0M352.0 549.3h0M347.2 550.5h0M350.1 553.1h0M349.8 546.9h0M350.8 548.2h0M348.1 541.0h0M352.4 542.7h0M352.2 541.3h0M351.5 548.3h0M349.3 553.9h0M353.5 560.2h0M355.8 551.8h0M350.0 550.1h0M347.0 548.6h0M349.4 549.9h0M350.2 542.7h0M346.9 574.2h0M352.4 555.4h0M351.8 545.9h0M348.4 550.7h0M347.9 542.1h0M349.2 558.7h0M350.4 546.3h0M348.9 564.3h0M347.0 557.3h0M350.8 533.1h0M349.9 549.6h0M353.2 553.2h0M354.2 557.3h0M349.7 546.4h0M350.7 550.2h0M348.9 549.1h0M351.8 551.6h0M350.2 545.0h0M352.2 552.4h0M351.3 545.5h0M350.8 541.5h0M355.3 547.1h0M350.4 554.4h0M351.8 538.9h0M347.8 554.7h0M352.1 555.8h0M354.5 548.2h0M350.8 544.8h0M350.1 548.8h0M352.5 543.8h0M351.5 555.2h0M351.9 547.3h0M349.1 550.6h0M349.0 553.2h0M349.9 554.5h0M346.9 550.1h0M349.1 548.5h0M348.2 550.1h0M350.6 542.0h0M353.2 550.9h0M349.5 547.7h0M350.5 544.1h0M351.3 556.0h0M354.3 549.1h0M355.7 548.0h0M349.4 549.8h0M349.4 551.2h0M348.4 544.2h0M351.7 551.8h0M353.8 556.6h0" stroke="#000" stroke-width="0.6" stroke-linecap="round" opacity="0.35" fill="none"/>
<path d="M349.8 546.1h0M351.1 544.4h0M347.4 542.5h0M349.7 543.5h0M348.5 544.4h0M352.9 553.0h0M352.3 548.3h0M350.2 551.8h0M348.1 563.3h0M352.3 551.6h0M348.5 549.2h0M349.9 544.2h0M350.2 545.5h0M354.1 550.5h0M353.3 547.1h0M351.8 548.9h0M354.0 550.0h0M347.8 556.0h0M349.3 549.1h0M353.1 551.9h0M351.8 554.7h0M349.9 556.0h0M349.8 548.6h0M352.0 560.2h0M352.5 548.1h0M355.7 554.7h0M352.0 549.6h0M348.2 558.6h0M347.2 566.8h0M349.0 547.6h0M353.5 545.4h0M349.1 543.6h0M346.7 550.6h0M349.5 544.8h0M352.3 549.3h0M351.5 549.9h0M354.0 548.8h0M351.9 558.4h0M351.8 546.1h0M349.5 548.4h0M350.4 540.3h0M349.9 545.2h0M348.6 545.6h0M346.2 543.8h0M350.4 549.4h0M350.6 549.1h0M352.1 551.6h0M351.8 547.8h0M350.2 549.1h0M348.8 547.9h0M353.4 551.8h0M351.9 555.0h0M353.0 544.6h0M350.9 543.5h0M349.1 553.6h0M348.6 545.5h0M349.2 554.9h0M349.1 550.8h0M348.0 541.7h0M349.4 544.0h0M348.6 539.5h0M349.3 553.6h0M353.5 545.7h0M348.8 556.2h0M352.6 545.2h0M350.0 543.2h0M351.4 550.2h0M351.1 552.6h0M349.3 548.2h0M351.1 552.8h0M354.1 547.8h0M355.1 557.6h0M354.2 554.7h0M353.0 548.5h0M353.5 549.3h0M351.9 546.6h0M349.1 556.8h0M353.3 546.3h0M350.8 552.6h0M350.4 553.2h0M353.3 549.3h0M352.6 555.4h0M350.8 546.0h0M350.6 551.1h0M351.2 551.6h0M352.8 548.1h0" stroke="#000" stroke-width="0.6" stroke-linecap="round" opacity="0.35" fill="none"/>
<path d="M350.9 547.0h0M352.1 545.8h0M352.2 556.5h0M348.4 553.7h0M351.4 553.2h0M350.9 557.9h0M345.5 560.7h0M353.6 547.4h0M351.4 552.2h0M351.2 548.9h0M351.1 550.9h0M354.1 554.4h0M350.6 551.7h0M350.9 547.6h0M352.3 552.4h0M353.1 552.0h0M354.6 543.3h0M348.0 548.5h0M348.4 550.2h0M347.2 552.3h0M350.5 539.2h0M352.2 550.6h0M351.2 540.9h0M351.6 539.9h0M349.1 549.5h0M353.0 545.5h0M350.5 543.0h0M354.3 546.4h0M352.0 548.8h0M349.2 547.6h0M347.4 544.1h0M355.6 540.2h0M348.7 547.1h0M352.1 551.7h0M353.5 538.6h0M350.2 549.0h0M345.4 541.2h0M350.6 547.7h0M351.8 556.3h0M351.5 554.4h0M351.8 553.5h0M349.5 536.2h0M349.0 552.5h0M350.7 541.4h0M350.2 550.8h0M354.9 549.9h0M351.6 546.2h0M349.8 537.5h0M352.7 555.5h0M352.0 553.8h0M354.0 549.9h0M352.6 545.2h0M351.5 547.1h0M350.7 550.6h0M351.6 546.6h0M357.0 569.2h0M349.6 543.8h0M352.2 547.4h0M347.6 545.1h0M354.1 548.9h0M351.7 559.1h0M355.0 548.3h0M350.7 546.0h0M350.7 546.8h0M352.0 551.1h0M351.2 541.3h0M352.0 547.9h0M349.5 550.4h0M352.6 541.9h0M349.4 546.9h0M349.8 548.4h0M352.2 541.0h0M351.2 557.3h0M347.5 541.2h0M351.2 554.6h0M348.3 554.9h0M349.5 534.6h0M346.9 548.3h0M352.6 543.3h0M352.9 550.3h0M351.0 544.8h0M350.7 548.2h0M350.2 552.4h0M350.0 546.4h0M351.5 549.8h0M355.3 543.7h0" stroke="#000" stroke-width="0.6" stroke-linecap="round" opacity="0.35" fill="none"/>
<text x="433" y="472.7" font-size="8.8" textLength="8.2" lengthAdjust="spacingAndGlyphs" stroke="#231f20" stroke-width="0.2">2°</text>
<text x="425.2" y="483.5" font-size="8.8" textLength="23.5" lengthAdjust="spacingAndGlyphs" stroke="#231f20" stroke-width="0.2">Day 5</text>
<line x1="419.2" y1="489.2" x2="419.2" y2="563.4" stroke="#231f20" stroke-width="1.3"/>
<line x1="416.2" y1="562.9" x2="419.2" y2="562.9" stroke="#231f20" stroke-width="0.9"/>
<text x="412.9" y="565.13" font-size="6.2" text-anchor="end" stroke="#231f20" stroke-width="0.12">0</text>
<line x1="416.2" y1="548.74" x2="419.2" y2="548.74" stroke="#231f20" stroke-width="0.9"/>
<text x="412.9" y="550.97" font-size="6.2" text-anchor="end" stroke="#231f20" stroke-width="0.12">20</text>
<line x1="416.2" y1="534.58" x2="419.2" y2="534.58" stroke="#231f20" stroke-width="0.9"/>
<text x="412.9" y="536.81" font-size="6.2" text-anchor="end" stroke="#231f20" stroke-width="0.12">40</text>
<line x1="416.2" y1="520.42" x2="419.2" y2="520.42" stroke="#231f20" stroke-width="0.9"/>
<text x="412.9" y="522.65" font-size="6.2" text-anchor="end" stroke="#231f20" stroke-width="0.12">60</text>
<line x1="416.2" y1="506.26" x2="419.2" y2="506.26" stroke="#231f20" stroke-width="0.9"/>
<text x="412.9" y="508.49" font-size="6.2" text-anchor="end" stroke="#231f20" stroke-width="0.12">80</text>
<line x1="416.2" y1="492.1" x2="419.2" y2="492.1" stroke="#231f20" stroke-width="0.9"/>
<text x="412.9" y="494.33" font-size="6.2" text-anchor="end" stroke="#231f20" stroke-width="0.12">100</text>
<line x1="417.4" y1="562.9" x2="454.5" y2="562.9" stroke="#231f20" stroke-width="1.3"/>
<line x1="428.1" y1="562.9" x2="428.1" y2="565.9" stroke="#231f20" stroke-width="1"/>
<line x1="445.9" y1="562.9" x2="445.9" y2="565.9" stroke="#231f20" stroke-width="1"/>
<text x="428.1" y="575" font-size="6.5" text-anchor="middle" stroke="#231f20" stroke-width="0.12">WT</text>
<text x="445.9" y="575" font-size="6.5" text-anchor="middle" stroke="#231f20" stroke-width="0.12">KO</text>
<circle cx="424" cy="548.03" r="2.25" fill="white" stroke="#c3223f" stroke-width="0.95" fill-opacity="0"/>
<circle cx="426.5" cy="548.74" r="2.25" fill="white" stroke="#c3223f" stroke-width="0.95" fill-opacity="0"/>
<circle cx="429" cy="549.45" r="2.25" fill="white" stroke="#c3223f" stroke-width="0.95" fill-opacity="0"/>
<circle cx="431.5" cy="548.74" r="2.25" fill="white" stroke="#c3223f" stroke-width="0.95" fill-opacity="0"/>
<circle cx="433" cy="547.32" r="2.25" fill="white" stroke="#c3223f" stroke-width="0.95" fill-opacity="0"/>
<line x1="423.5" y1="548.39" x2="432.5" y2="548.39" stroke="#111" stroke-width="1.1"/>
<circle cx="443.5" cy="531.04" r="2.25" fill="white" stroke="#3c5f9f" stroke-width="0.95" fill-opacity="0"/>
<circle cx="447.7" cy="532.46" r="2.25" fill="white" stroke="#3c5f9f" stroke-width="0.95" fill-opacity="0"/>
<circle cx="445.5" cy="533.87" r="2.25" fill="white" stroke="#3c5f9f" stroke-width="0.95" fill-opacity="0"/>
<circle cx="443.7" cy="534.58" r="2.25" fill="white" stroke="#3c5f9f" stroke-width="0.95" fill-opacity="0"/>
<circle cx="448.5" cy="533.16" r="2.25" fill="white" stroke="#3c5f9f" stroke-width="0.95" fill-opacity="0"/>
<line x1="441" y1="533.16" x2="450" y2="533.16" stroke="#111" stroke-width="1.1"/>
<line x1="445.5" y1="532.6" x2="445.5" y2="533.73" stroke="#111" stroke-width="0.9"/>
<line x1="443.5" y1="532.6" x2="447.5" y2="532.6" stroke="#111" stroke-width="0.9"/>
<line x1="443.5" y1="533.73" x2="447.5" y2="533.73" stroke="#111" stroke-width="0.9"/>
<line x1="429.1" y1="521.6" x2="445.1" y2="521.6" stroke="#3a3a3a" stroke-width="1.2"/>
<ellipse cx="432.9" cy="518" rx="0.95" ry="0.85" fill="#1a1a1a"/>
<ellipse cx="435.7" cy="518" rx="0.95" ry="0.85" fill="#1a1a1a"/>
<ellipse cx="438.5" cy="518" rx="0.95" ry="0.85" fill="#1a1a1a"/>
<ellipse cx="441.3" cy="518" rx="0.95" ry="0.85" fill="#1a1a1a"/></svg></body></html>
